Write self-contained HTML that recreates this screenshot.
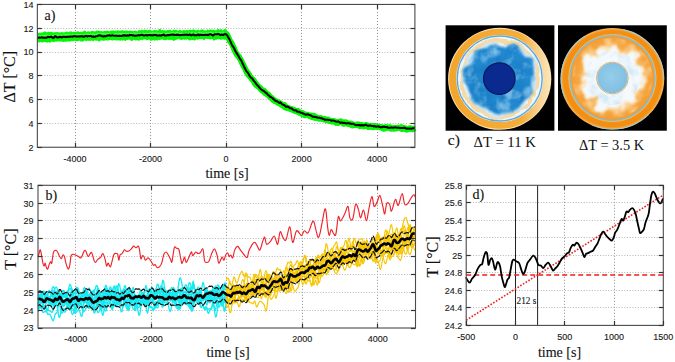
<!DOCTYPE html><html><head><meta charset="utf-8"><style>html,body{margin:0;padding:0;background:#fff;overflow:hidden}svg{display:block}</style></head><body><svg width="675" height="362" viewBox="0 0 675 362">
<rect width="675" height="362" fill="#fff"/>
<line x1="75.50" y1="5.95" x2="75.50" y2="147.25" stroke="#8c8c8c" stroke-width="1" stroke-dasharray="1 2" fill="none"/>
<line x1="150.50" y1="5.95" x2="150.50" y2="147.25" stroke="#8c8c8c" stroke-width="1" stroke-dasharray="1 2" fill="none"/>
<line x1="226.50" y1="5.95" x2="226.50" y2="147.25" stroke="#8c8c8c" stroke-width="1" stroke-dasharray="1 2" fill="none"/>
<line x1="301.50" y1="5.95" x2="301.50" y2="147.25" stroke="#8c8c8c" stroke-width="1" stroke-dasharray="1 2" fill="none"/>
<line x1="377.50" y1="5.95" x2="377.50" y2="147.25" stroke="#8c8c8c" stroke-width="1" stroke-dasharray="1 2" fill="none"/>
<line x1="38.85" y1="28.50" x2="414.9" y2="28.50" stroke="#b4b4b4" stroke-width="1" stroke-dasharray="1 1.7" fill="none"/>
<line x1="38.85" y1="52.50" x2="414.9" y2="52.50" stroke="#b4b4b4" stroke-width="1" stroke-dasharray="1 1.7" fill="none"/>
<line x1="38.85" y1="75.50" x2="414.9" y2="75.50" stroke="#b4b4b4" stroke-width="1" stroke-dasharray="1 1.7" fill="none"/>
<line x1="38.85" y1="99.50" x2="414.9" y2="99.50" stroke="#b4b4b4" stroke-width="1" stroke-dasharray="1 1.7" fill="none"/>
<line x1="38.85" y1="123.50" x2="414.9" y2="123.50" stroke="#b4b4b4" stroke-width="1" stroke-dasharray="1 1.7" fill="none"/>
<path d="M37.35,32.21 L37.85,32.32 L38.35,32.70 L38.85,32.91 L39.35,32.64 L39.85,32.51 L40.35,32.70 L40.85,32.75 L41.35,32.53 L41.85,32.35 L42.35,32.46 L42.85,32.44 L43.35,32.09 L43.85,31.76 L44.35,31.49 L44.85,31.39 L45.35,31.52 L45.85,31.78 L46.35,32.01 L46.85,32.29 L47.35,32.33 L47.85,31.91 L48.35,31.52 L48.85,31.75 L49.35,32.12 L49.85,32.06 L50.35,31.78 L50.85,31.71 L51.35,31.77 L51.85,32.02 L52.35,32.28 L52.85,32.23 L53.35,32.29 L53.85,32.38 L54.35,32.21 L54.85,32.15 L55.35,32.17 L55.85,32.02 L56.35,31.91 L56.85,32.17 L57.35,32.29 L57.85,32.10 L58.35,32.18 L58.85,32.23 L59.35,32.37 L59.85,32.69 L60.35,32.45 L60.85,31.97 L61.35,32.01 L61.85,32.19 L62.35,32.21 L62.85,32.24 L63.35,32.29 L63.85,32.45 L64.35,32.42 L64.85,32.08 L65.35,31.88 L65.85,31.80 L66.35,31.65 L66.85,31.46 L67.35,31.53 L67.85,31.89 L68.35,32.24 L68.85,32.10 L69.35,31.58 L69.85,31.45 L70.35,31.45 L70.85,31.21 L71.35,31.36 L71.85,31.85 L72.35,32.22 L72.85,32.12 L73.35,31.76 L73.85,31.61 L74.35,31.83 L74.85,32.02 L75.35,31.79 L75.85,31.63 L76.35,31.67 L76.85,31.59 L77.35,31.37 L77.85,31.24 L78.35,31.37 L78.85,31.66 L79.35,31.98 L79.85,31.99 L80.35,31.84 L80.85,31.76 L81.35,31.75 L81.85,31.83 L82.35,31.75 L82.85,31.49 L83.35,31.20 L83.85,30.98 L84.35,30.58 L84.85,30.45 L85.35,30.76 L85.85,31.13 L86.35,31.65 L86.85,31.89 L87.35,31.45 L87.85,31.19 L88.35,31.37 L88.85,31.47 L89.35,31.38 L89.85,31.40 L90.35,31.54 L90.85,31.39 L91.35,31.09 L91.85,31.06 L92.35,31.04 L92.85,30.96 L93.35,31.02 L93.85,31.17 L94.35,31.40 L94.85,31.40 L95.35,31.18 L95.85,30.93 L96.35,30.63 L96.85,30.32 L97.35,30.43 L97.85,30.61 L98.35,30.59 L98.85,30.71 L99.35,30.76 L99.85,30.92 L100.35,31.05 L100.85,31.15 L101.35,31.00 L101.85,30.94 L102.35,31.41 L102.85,31.62 L103.35,31.26 L103.85,30.92 L104.35,30.78 L104.85,30.85 L105.35,31.03 L105.85,30.93 L106.35,30.72 L106.85,30.53 L107.35,30.43 L107.85,30.64 L108.35,31.06 L108.85,31.22 L109.35,31.19 L109.85,30.94 L110.35,30.64 L110.85,30.56 L111.35,30.60 L111.85,30.66 L112.35,30.60 L112.85,30.40 L113.35,30.27 L113.85,30.59 L114.35,30.94 L114.85,30.69 L115.35,30.54 L115.85,30.87 L116.35,30.94 L116.85,30.53 L117.35,30.31 L117.85,30.18 L118.35,30.22 L118.85,30.60 L119.35,30.76 L119.85,30.63 L120.35,30.55 L120.85,30.59 L121.35,30.50 L121.85,30.31 L122.35,30.12 L122.85,30.31 L123.35,30.71 L123.85,30.73 L124.35,30.65 L124.85,30.55 L125.35,30.42 L125.85,30.48 L126.35,30.62 L126.85,30.57 L127.35,30.56 L127.85,30.79 L128.35,31.06 L128.85,31.02 L129.35,30.68 L129.85,30.27 L130.35,30.25 L130.85,30.71 L131.35,30.93 L131.85,30.82 L132.35,30.87 L132.85,31.02 L133.35,31.06 L133.85,30.92 L134.35,30.77 L134.85,30.69 L135.35,30.53 L135.85,30.68 L136.35,30.95 L136.85,31.22 L137.35,31.40 L137.85,30.98 L138.35,30.15 L138.85,29.87 L139.35,30.12 L139.85,30.20 L140.35,30.31 L140.85,30.22 L141.35,29.66 L141.85,29.53 L142.35,30.00 L142.85,30.29 L143.35,30.26 L143.85,30.10 L144.35,29.80 L144.85,29.65 L145.35,29.73 L145.85,29.66 L146.35,29.73 L146.85,30.13 L147.35,30.35 L147.85,30.22 L148.35,29.91 L148.85,29.72 L149.35,29.68 L149.85,29.81 L150.35,30.01 L150.85,30.12 L151.35,30.38 L151.85,30.71 L152.35,30.72 L152.85,30.38 L153.35,30.32 L153.85,30.27 L154.35,29.97 L154.85,29.74 L155.35,29.96 L155.85,30.29 L156.35,30.31 L156.85,30.24 L157.35,30.34 L157.85,30.40 L158.35,29.95 L158.85,29.36 L159.35,29.09 L159.85,28.77 L160.35,28.77 L160.85,29.58 L161.35,30.29 L161.85,30.14 L162.35,29.74 L162.85,29.88 L163.35,30.30 L163.85,30.36 L164.35,30.22 L164.85,30.18 L165.35,30.31 L165.85,30.48 L166.35,30.44 L166.85,30.15 L167.35,29.93 L167.85,30.00 L168.35,30.10 L168.85,30.08 L169.35,29.86 L169.85,29.81 L170.35,29.85 L170.85,30.05 L171.35,30.60 L171.85,30.72 L172.35,30.41 L172.85,30.24 L173.35,29.83 L173.85,29.41 L174.35,29.66 L174.85,29.94 L175.35,29.85 L175.85,29.68 L176.35,29.78 L176.85,30.11 L177.35,30.40 L177.85,30.39 L178.35,30.38 L178.85,30.36 L179.35,29.98 L179.85,29.58 L180.35,29.69 L180.85,30.33 L181.35,30.68 L181.85,30.62 L182.35,30.42 L182.85,30.20 L183.35,30.03 L183.85,29.91 L184.35,29.94 L184.85,30.22 L185.35,30.50 L185.85,30.35 L186.35,29.96 L186.85,29.73 L187.35,29.95 L187.85,30.36 L188.35,30.33 L188.85,29.99 L189.35,29.65 L189.85,29.54 L190.35,29.81 L190.85,30.02 L191.35,29.88 L191.85,29.75 L192.35,29.72 L192.85,29.56 L193.35,29.34 L193.85,29.39 L194.35,29.64 L194.85,29.85 L195.35,29.92 L195.85,30.19 L196.35,30.31 L196.85,29.95 L197.35,29.70 L197.85,29.74 L198.35,29.69 L198.85,29.70 L199.35,30.14 L199.85,30.41 L200.35,30.04 L200.85,29.61 L201.35,29.46 L201.85,29.43 L202.35,29.29 L202.85,29.45 L203.35,29.81 L203.85,29.96 L204.35,30.28 L204.85,30.48 L205.35,30.35 L205.85,30.39 L206.35,30.40 L206.85,29.92 L207.35,29.38 L207.85,29.31 L208.35,29.80 L208.85,30.27 L209.35,30.09 L209.85,29.51 L210.35,29.27 L210.85,29.43 L211.35,29.65 L211.85,29.74 L212.35,29.79 L212.85,29.78 L213.35,29.68 L213.85,29.68 L214.35,29.75 L214.85,29.87 L215.35,30.20 L215.85,30.44 L216.35,30.16 L216.85,29.58 L217.35,29.19 L217.85,29.07 L218.35,28.86 L218.85,29.08 L219.35,29.70 L219.85,29.86 L220.35,29.43 L220.85,29.04 L221.35,29.12 L221.85,29.50 L222.35,30.10 L222.85,30.40 L223.35,29.94 L223.85,29.30 L224.35,29.12 L224.85,29.27 L225.35,29.29 L225.85,29.20 L226.35,29.26 L226.85,29.88 L226.85,39.83 L226.35,39.33 L225.85,39.49 L225.35,39.79 L224.85,39.79 L224.35,39.74 L223.85,39.68 L223.35,39.37 L222.85,39.25 L222.35,39.53 L221.85,39.64 L221.35,39.57 L220.85,39.80 L220.35,40.00 L219.85,39.55 L219.35,39.12 L218.85,39.15 L218.35,39.28 L217.85,39.36 L217.35,39.37 L216.85,39.45 L216.35,39.68 L215.85,39.82 L215.35,39.74 L214.85,39.97 L214.35,40.44 L213.85,40.69 L213.35,40.40 L212.85,39.59 L212.35,38.95 L211.85,38.93 L211.35,39.15 L210.85,39.32 L210.35,39.39 L209.85,39.43 L209.35,39.33 L208.85,39.12 L208.35,39.02 L207.85,38.94 L207.35,39.08 L206.85,39.08 L206.35,38.87 L205.85,38.74 L205.35,38.91 L204.85,39.62 L204.35,40.32 L203.85,40.36 L203.35,40.08 L202.85,39.62 L202.35,39.05 L201.85,39.01 L201.35,39.19 L200.85,39.26 L200.35,39.31 L199.85,39.26 L199.35,39.12 L198.85,39.37 L198.35,39.78 L197.85,39.86 L197.35,39.73 L196.85,39.48 L196.35,39.31 L195.85,39.70 L195.35,40.26 L194.85,40.64 L194.35,40.52 L193.85,40.09 L193.35,40.01 L192.85,40.15 L192.35,40.10 L191.85,39.87 L191.35,40.01 L190.85,40.39 L190.35,40.31 L189.85,40.16 L189.35,40.46 L188.85,40.54 L188.35,39.86 L187.85,39.19 L187.35,39.17 L186.85,39.56 L186.35,39.64 L185.85,39.49 L185.35,39.50 L184.85,39.76 L184.35,39.86 L183.85,39.56 L183.35,39.38 L182.85,39.48 L182.35,39.71 L181.85,39.86 L181.35,39.96 L180.85,39.90 L180.35,39.70 L179.85,39.62 L179.35,39.53 L178.85,39.14 L178.35,38.95 L177.85,39.30 L177.35,39.72 L176.85,39.73 L176.35,39.62 L175.85,39.92 L175.35,40.29 L174.85,40.28 L174.35,40.43 L173.85,40.94 L173.35,41.10 L172.85,40.62 L172.35,39.98 L171.85,39.81 L171.35,39.96 L170.85,39.89 L170.35,39.73 L169.85,39.69 L169.35,39.90 L168.85,39.99 L168.35,39.82 L167.85,39.68 L167.35,39.55 L166.85,39.69 L166.35,40.05 L165.85,40.19 L165.35,40.17 L164.85,40.09 L164.35,40.17 L163.85,40.29 L163.35,40.07 L162.85,39.60 L162.35,39.55 L161.85,39.66 L161.35,39.49 L160.85,39.59 L160.35,40.12 L159.85,40.30 L159.35,40.04 L158.85,39.82 L158.35,39.94 L157.85,40.31 L157.35,40.48 L156.85,40.50 L156.35,40.32 L155.85,40.15 L155.35,40.38 L154.85,40.75 L154.35,40.63 L153.85,40.21 L153.35,40.08 L152.85,40.26 L152.35,40.38 L151.85,40.52 L151.35,40.82 L150.85,40.95 L150.35,40.73 L149.85,40.31 L149.35,39.71 L148.85,39.40 L148.35,39.80 L147.85,40.04 L147.35,40.06 L146.85,40.27 L146.35,40.28 L145.85,39.76 L145.35,39.25 L144.85,39.33 L144.35,39.58 L143.85,39.59 L143.35,39.61 L142.85,39.94 L142.35,40.18 L141.85,40.01 L141.35,39.63 L140.85,39.67 L140.35,40.02 L139.85,40.25 L139.35,40.50 L138.85,40.73 L138.35,40.74 L137.85,40.56 L137.35,40.28 L136.85,40.22 L136.35,40.44 L135.85,40.53 L135.35,40.48 L134.85,40.30 L134.35,39.92 L133.85,39.75 L133.35,40.01 L132.85,40.53 L132.35,41.08 L131.85,41.16 L131.35,40.77 L130.85,40.55 L130.35,40.50 L129.85,40.08 L129.35,39.63 L128.85,39.62 L128.35,39.69 L127.85,39.63 L127.35,40.00 L126.85,40.28 L126.35,40.18 L125.85,40.47 L125.35,40.93 L124.85,41.00 L124.35,40.59 L123.85,40.19 L123.35,40.37 L122.85,40.67 L122.35,40.67 L121.85,40.43 L121.35,40.35 L120.85,40.55 L120.35,40.69 L119.85,40.67 L119.35,40.44 L118.85,40.21 L118.35,40.34 L117.85,40.43 L117.35,40.48 L116.85,40.56 L116.35,40.45 L115.85,40.27 L115.35,40.30 L114.85,40.32 L114.35,40.24 L113.85,40.17 L113.35,40.25 L112.85,40.38 L112.35,40.53 L111.85,40.59 L111.35,40.33 L110.85,40.00 L110.35,40.06 L109.85,40.13 L109.35,40.13 L108.85,40.22 L108.35,40.28 L107.85,40.51 L107.35,40.65 L106.85,40.55 L106.35,40.41 L105.85,40.29 L105.35,40.36 L104.85,40.62 L104.35,40.82 L103.85,40.89 L103.35,40.81 L102.85,40.59 L102.35,40.51 L101.85,40.47 L101.35,40.51 L100.85,40.58 L100.35,40.68 L99.85,41.11 L99.35,41.65 L98.85,41.63 L98.35,41.18 L97.85,40.77 L97.35,40.59 L96.85,40.71 L96.35,40.86 L95.85,40.80 L95.35,40.49 L94.85,40.20 L94.35,40.36 L93.85,40.88 L93.35,41.38 L92.85,41.36 L92.35,40.77 L91.85,40.42 L91.35,40.54 L90.85,40.81 L90.35,41.03 L89.85,40.94 L89.35,40.68 L88.85,40.59 L88.35,40.96 L87.85,40.92 L87.35,40.61 L86.85,40.82 L86.35,41.31 L85.85,41.27 L85.35,40.75 L84.85,40.42 L84.35,40.45 L83.85,40.98 L83.35,41.62 L82.85,41.65 L82.35,41.45 L81.85,41.39 L81.35,41.43 L80.85,41.56 L80.35,41.49 L79.85,40.90 L79.35,40.61 L78.85,40.87 L78.35,41.20 L77.85,41.31 L77.35,41.33 L76.85,41.18 L76.35,41.14 L75.85,41.18 L75.35,41.01 L74.85,40.84 L74.35,40.78 L73.85,41.04 L73.35,41.47 L72.85,41.31 L72.35,40.89 L71.85,40.98 L71.35,41.21 L70.85,41.13 L70.35,41.20 L69.85,41.47 L69.35,41.77 L68.85,41.76 L68.35,41.50 L67.85,41.37 L67.35,41.60 L66.85,41.84 L66.35,41.87 L65.85,41.78 L65.35,41.61 L64.85,41.64 L64.35,41.75 L63.85,41.88 L63.35,42.07 L62.85,42.03 L62.35,41.86 L61.85,41.57 L61.35,41.47 L60.85,41.48 L60.35,41.56 L59.85,41.82 L59.35,41.72 L58.85,41.36 L58.35,41.31 L57.85,41.45 L57.35,41.52 L56.85,41.62 L56.35,41.74 L55.85,41.70 L55.35,41.61 L54.85,41.71 L54.35,42.08 L53.85,42.21 L53.35,42.06 L52.85,42.06 L52.35,41.81 L51.85,41.58 L51.35,41.80 L50.85,42.19 L50.35,42.58 L49.85,42.79 L49.35,42.75 L48.85,42.25 L48.35,42.00 L47.85,42.28 L47.35,42.70 L46.85,42.82 L46.35,42.50 L45.85,42.08 L45.35,42.23 L44.85,42.33 L44.35,41.98 L43.85,41.90 L43.35,42.31 L42.85,42.59 L42.35,42.51 L41.85,42.46 L41.35,42.29 L40.85,41.94 L40.35,41.95 L39.85,42.41 L39.35,42.60 L38.85,42.55 L38.35,42.36 L37.85,41.93 L37.35,41.79Z" fill="#06f406"/>
<path d="M224.35,34.72 L224.85,34.67 L225.35,34.59 L225.85,34.53 L226.35,34.05 L226.85,34.07 L227.35,35.00 L227.85,36.00 L228.35,37.27 L228.85,38.76 L229.35,40.17 L229.85,41.23 L230.35,41.61 L230.85,41.94 L231.35,42.77 L231.85,43.79 L232.35,44.94 L232.85,46.13 L233.35,46.87 L233.85,47.75 L234.35,49.23 L234.85,50.52 L235.35,51.53 L235.85,52.45 L236.35,53.32 L236.85,54.18 L237.35,55.08 L237.85,55.78 L238.35,56.38 L238.85,56.86 L239.35,57.35 L239.85,58.34 L240.35,59.49 L240.85,60.44 L241.35,61.51 L241.85,62.84 L242.35,63.53 L242.85,63.78 L243.35,64.55 L243.85,65.90 L244.35,67.12 L244.85,68.07 L245.35,69.04 L245.85,70.03 L246.35,70.98 L246.85,71.81 L247.35,72.96 L247.85,74.42 L248.35,75.25 L248.85,75.15 L249.35,75.30 L249.85,76.04 L250.35,76.82 L250.85,77.25 L251.35,77.84 L251.85,78.50 L252.35,78.95 L252.85,79.45 L253.35,79.90 L253.85,80.24 L254.35,81.03 L254.85,82.20 L255.35,83.12 L255.85,83.46 L256.35,83.73 L256.85,84.65 L257.35,85.78 L257.85,86.36 L258.35,86.52 L258.85,86.84 L259.35,87.36 L259.85,87.57 L260.35,87.79 L260.85,88.64 L261.35,89.72 L261.85,90.34 L262.35,90.63 L262.85,90.82 L263.35,91.10 L263.85,91.39 L264.35,92.18 L264.85,93.14 L265.35,93.26 L265.85,93.06 L266.35,93.40 L266.85,94.12 L267.35,94.56 L267.85,94.38 L268.35,94.37 L268.85,95.08 L269.35,95.98 L269.85,96.82 L270.35,97.54 L270.85,97.90 L271.35,98.01 L271.85,98.28 L272.35,99.21 L272.85,100.07 L273.35,100.19 L273.85,100.15 L274.35,100.51 L274.85,100.82 L275.35,100.70 L275.85,100.93 L276.35,101.51 L276.85,101.84 L277.35,101.93 L277.85,102.14 L278.35,102.39 L278.85,102.62 L279.35,102.70 L279.85,102.85 L280.35,103.42 L280.85,103.86 L281.35,103.91 L281.85,104.22 L282.35,104.57 L282.85,104.66 L283.35,104.89 L283.85,105.45 L284.35,106.56 L284.85,107.54 L285.35,107.60 L285.85,107.21 L286.35,107.17 L286.85,107.35 L287.35,107.68 L287.85,107.90 L288.35,107.89 L288.85,108.25 L289.35,108.74 L289.85,109.05 L290.35,108.96 L290.85,108.89 L291.35,109.28 L291.85,109.70 L292.35,109.84 L292.85,109.79 L293.35,109.48 L293.85,109.55 L294.35,110.40 L294.85,111.01 L295.35,111.13 L295.85,111.32 L296.35,111.48 L296.85,111.30 L297.35,111.29 L297.85,111.74 L298.35,112.08 L298.85,112.13 L299.35,112.33 L299.85,112.30 L300.35,112.47 L300.85,112.98 L301.35,112.93 L301.85,112.74 L302.35,113.23 L302.85,114.01 L303.35,114.29 L303.85,114.17 L304.35,114.30 L304.85,114.42 L305.35,114.38 L305.85,114.51 L306.35,114.57 L306.85,114.52 L307.35,114.68 L307.85,114.99 L308.35,115.13 L308.85,115.18 L309.35,115.55 L309.85,116.10 L310.35,116.43 L310.85,116.75 L311.35,117.06 L311.85,117.31 L312.35,117.33 L312.85,116.99 L313.35,116.98 L313.85,117.39 L314.35,117.94 L314.85,117.70 L315.35,116.84 L315.85,116.90 L316.35,117.71 L316.85,118.25 L317.35,118.32 L317.85,118.28 L318.35,118.44 L318.85,118.60 L319.35,118.62 L319.85,118.40 L320.35,118.09 L320.85,118.32 L321.35,118.70 L321.85,119.02 L322.35,118.98 L322.85,118.89 L323.35,118.98 L323.85,118.83 L324.35,118.63 L324.85,118.81 L325.35,119.48 L325.85,120.16 L326.35,120.45 L326.85,120.48 L327.35,120.55 L327.85,120.48 L328.35,120.53 L328.85,120.84 L329.35,120.94 L329.85,120.68 L330.35,120.54 L330.85,120.63 L331.35,120.70 L331.85,120.85 L332.35,121.16 L332.85,121.24 L333.35,121.18 L333.85,121.19 L334.35,121.44 L334.85,121.68 L335.35,122.00 L335.85,122.51 L336.35,122.76 L336.85,122.85 L337.35,122.53 L337.85,121.99 L338.35,121.94 L338.85,122.22 L339.35,122.34 L339.85,122.23 L340.35,121.90 L340.85,121.60 L341.35,121.59 L341.85,121.75 L342.35,122.18 L342.85,122.38 L343.35,122.47 L343.85,122.73 L344.35,122.71 L344.85,122.25 L345.35,121.97 L345.85,121.99 L346.35,122.21 L346.85,122.96 L347.35,123.68 L347.85,123.70 L348.35,123.57 L348.85,123.51 L349.35,123.71 L349.85,123.94 L350.35,124.25 L350.85,124.79 L351.35,125.10 L351.85,124.83 L352.35,124.41 L352.85,124.29 L353.35,124.55 L353.85,124.82 L354.35,125.05 L354.85,125.22 L355.35,125.05 L355.85,124.52 L356.35,124.66 L356.85,125.07 L357.35,124.92 L357.85,124.67 L358.35,124.60 L358.85,124.78 L359.35,125.62 L359.85,126.43 L360.35,126.09 L360.85,125.21 L361.35,124.95 L361.85,125.34 L362.35,125.62 L362.85,125.44 L363.35,125.55 L363.85,126.06 L364.35,126.13 L364.85,125.60 L365.35,125.03 L365.85,124.81 L366.35,124.83 L366.85,125.08 L367.35,125.68 L367.85,126.14 L368.35,126.70 L368.85,127.19 L369.35,126.92 L369.85,126.47 L370.35,126.68 L370.85,126.74 L371.35,126.22 L371.85,125.90 L372.35,125.92 L372.85,126.09 L373.35,126.18 L373.85,125.73 L374.35,125.73 L374.85,126.23 L375.35,126.63 L375.85,126.88 L376.35,127.00 L376.85,127.06 L377.35,126.87 L377.85,126.42 L378.35,126.46 L378.85,126.75 L379.35,127.01 L379.85,127.01 L380.35,126.81 L380.85,127.00 L381.35,127.44 L381.85,127.54 L382.35,127.78 L382.85,128.46 L383.35,128.39 L383.85,127.71 L384.35,127.98 L384.85,128.62 L385.35,128.42 L385.85,127.85 L386.35,127.45 L386.85,127.28 L387.35,127.31 L387.85,127.49 L388.35,127.68 L388.85,127.50 L389.35,127.19 L389.85,127.09 L390.35,127.21 L390.85,127.36 L391.35,127.76 L391.85,128.21 L392.35,128.31 L392.85,128.25 L393.35,128.14 L393.85,127.97 L394.35,127.85 L394.85,127.90 L395.35,127.97 L395.85,128.02 L396.35,128.25 L396.85,128.07 L397.35,127.67 L397.85,127.56 L398.35,127.67 L398.85,127.86 L399.35,128.06 L399.85,128.11 L400.35,127.53 L400.85,126.94 L401.35,126.92 L401.85,127.24 L402.35,128.00 L402.85,128.63 L403.35,128.43 L403.85,127.93 L404.35,128.21 L404.85,128.87 L405.35,128.93 L405.85,128.94 L406.35,129.47 L406.85,129.92 L407.35,129.62 L407.85,129.08 L408.35,128.86 L408.85,128.67 L409.35,128.24 L409.85,128.04 L410.35,128.13 L410.85,128.22 L411.35,128.54 L411.85,129.13 L412.35,129.38 L412.85,128.89 L413.35,128.60 L413.85,128.78 L414.35,129.10 L414.85,129.12" stroke="#06f406" stroke-width="5.6" fill="none" stroke-linejoin="round"/>
<path d="M224.35,34.78 L224.85,34.83 L225.35,34.55 L225.85,34.14 L226.35,33.84 L226.85,34.60 L227.35,35.77 L227.85,36.30 L228.35,37.26 L228.85,38.47 L229.35,39.36 L229.85,40.28 L230.35,41.46 L230.85,42.53 L231.35,43.20 L231.85,43.84 L232.35,44.88 L232.85,45.98 L233.35,47.17 L233.85,48.58 L234.35,49.90 L234.85,50.85 L235.35,51.66 L235.85,52.80 L236.35,53.92 L236.85,54.76 L237.35,55.26 L237.85,55.55 L238.35,56.15 L238.85,56.89 L239.35,57.52 L239.85,58.43 L240.35,59.32 L240.85,59.97 L241.35,60.65 L241.85,61.86 L242.35,63.50 L242.85,65.03 L243.35,66.07 L243.85,66.66 L244.35,67.26 L244.85,68.12 L245.35,69.23 L245.85,70.38 L246.35,71.65 L246.85,72.63 L247.35,72.79 L247.85,72.81 L248.35,73.28 L248.85,74.01 L249.35,75.19 L249.85,76.50 L250.35,77.04 L250.85,77.42 L251.35,78.49 L251.85,79.38 L252.35,79.61 L252.85,79.93 L253.35,80.71 L253.85,81.75 L254.35,82.79 L254.85,83.73 L255.35,84.47 L255.85,85.07 L256.35,85.41 L256.85,85.30 L257.35,85.19 L257.85,85.76 L258.35,86.53 L258.85,87.15 L259.35,87.67 L259.85,87.91 L260.35,88.42 L260.85,89.37 L261.35,89.95 L261.85,90.30 L262.35,90.83 L262.85,91.11 L263.35,90.76 L263.85,90.36 L264.35,90.78 L264.85,91.47 L265.35,92.11 L265.85,93.01 L266.35,93.65 L266.85,93.74 L267.35,94.20 L267.85,95.00 L268.35,95.10 L268.85,95.19 L269.35,95.89 L269.85,96.50 L270.35,96.91 L270.85,97.35 L271.35,97.53 L271.85,97.83 L272.35,98.55 L272.85,99.10 L273.35,99.33 L273.85,99.79 L274.35,100.61 L274.85,101.28 L275.35,101.32 L275.85,101.43 L276.35,101.54 L276.85,101.78 L277.35,102.36 L277.85,102.93 L278.35,103.18 L278.85,103.01 L279.35,102.81 L279.85,103.10 L280.35,103.79 L280.85,104.48 L281.35,104.94 L281.85,105.21 L282.35,105.57 L282.85,105.73 L283.35,105.27 L283.85,104.70 L284.35,104.73 L284.85,105.45 L285.35,106.35 L285.85,106.82 L286.35,107.36 L286.85,107.95 L287.35,108.35 L287.85,108.31 L288.35,108.02 L288.85,108.00 L289.35,108.25 L289.85,108.44 L290.35,108.61 L290.85,109.08 L291.35,109.34 L291.85,109.10 L292.35,109.17 L292.85,109.51 L293.35,110.06 L293.85,110.54 L294.35,110.68 L294.85,110.62 L295.35,110.62 L295.85,111.00 L296.35,111.30 L296.85,111.45 L297.35,111.15 L297.85,110.73 L298.35,111.24 L298.85,112.30 L299.35,112.99 L299.85,112.98 L300.35,112.70 L300.85,112.84 L301.35,113.69 L301.85,114.14 L302.35,113.75 L302.85,113.27 L303.35,113.42 L303.85,114.50 L304.35,115.41 L304.85,115.44 L305.35,115.22 L305.85,114.90 L306.35,114.74 L306.85,114.85 L307.35,114.74 L307.85,114.94 L308.35,115.50 L308.85,115.91 L309.35,115.98 L309.85,115.76 L310.35,115.39 L310.85,115.34 L311.35,115.60 L311.85,115.60 L312.35,115.45 L312.85,115.55 L313.35,115.68 L313.85,115.59 L314.35,115.68 L314.85,116.19 L315.35,117.09 L315.85,117.90 L316.35,118.03 L316.85,117.50 L317.35,117.53 L317.85,118.02 L318.35,118.19 L318.85,118.47 L319.35,118.77 L319.85,118.40 L320.35,117.90 L320.85,118.05 L321.35,118.61 L321.85,118.73 L322.35,118.46 L322.85,118.68 L323.35,119.32 L323.85,119.59 L324.35,119.60 L324.85,119.79 L325.35,119.64 L325.85,119.27 L326.35,119.50 L326.85,119.79 L327.35,119.49 L327.85,119.29 L328.35,119.94 L328.85,120.78 L329.35,120.88 L329.85,120.72 L330.35,121.05 L330.85,121.13 L331.35,121.43 L331.85,121.82 L332.35,121.72 L332.85,121.24 L333.35,120.97 L333.85,121.01 L334.35,120.78 L334.85,121.08 L335.35,122.27 L335.85,122.80 L336.35,122.58 L336.85,122.36 L337.35,122.78 L337.85,123.23 L338.35,123.02 L338.85,122.30 L339.35,121.72 L339.85,121.41 L340.35,121.10 L340.85,121.32 L341.35,121.89 L341.85,122.20 L342.35,122.56 L342.85,123.23 L343.35,123.93 L343.85,124.00 L344.35,123.73 L344.85,123.53 L345.35,123.24 L345.85,123.27 L346.35,123.39 L346.85,123.13 L347.35,122.99 L347.85,123.20 L348.35,123.85 L348.85,124.28 L349.35,124.04 L349.85,123.76 L350.35,123.48 L350.85,123.36 L351.35,123.95 L351.85,125.10 L352.35,125.64 L352.85,125.15 L353.35,124.67 L353.85,124.73 L354.35,124.90 L354.85,125.11 L355.35,125.20 L355.85,125.21 L356.35,125.11 L356.85,124.77 L357.35,124.40 L357.85,124.20 L358.35,124.27 L358.85,124.44 L359.35,124.68 L359.85,124.93 L360.35,125.24 L360.85,125.23 L361.35,124.85 L361.85,124.78 L362.35,125.25 L362.85,126.10 L363.35,126.64 L363.85,126.48 L364.35,126.21 L364.85,126.09 L365.35,125.93 L365.85,125.94 L366.35,125.51 L366.85,125.58 L367.35,126.71 L367.85,126.93 L368.35,126.28 L368.85,126.07 L369.35,126.10 L369.85,125.91 L370.35,125.66 L370.85,125.91 L371.35,126.48 L371.85,126.90 L372.35,127.17 L372.85,127.38 L373.35,127.41 L373.85,126.88 L374.35,126.26 L374.85,125.83 L375.35,126.15 L375.85,126.76 L376.35,126.87 L376.85,126.90 L377.35,126.76 L377.85,126.51 L378.35,126.54 L378.85,126.69 L379.35,127.01 L379.85,127.43 L380.35,127.42 L380.85,127.02 L381.35,126.90 L381.85,127.22 L382.35,127.69 L382.85,128.39 L383.35,128.82 L383.85,128.38 L384.35,127.69 L384.85,127.22 L385.35,126.89 L385.85,126.74 L386.35,126.82 L386.85,127.10 L387.35,127.45 L387.85,127.68 L388.35,127.55 L388.85,127.35 L389.35,127.58 L389.85,128.26 L390.35,128.69 L390.85,128.88 L391.35,128.85 L391.85,128.62 L392.35,128.41 L392.85,128.69 L393.35,128.82 L393.85,128.43 L394.35,128.61 L394.85,128.92 L395.35,128.78 L395.85,128.70 L396.35,128.53 L396.85,128.13 L397.35,127.86 L397.85,127.59 L398.35,127.48 L398.85,127.63 L399.35,127.93 L399.85,128.17 L400.35,128.14 L400.85,128.28 L401.35,128.97 L401.85,129.21 L402.35,128.81 L402.85,128.38 L403.35,128.36 L403.85,128.50 L404.35,128.28 L404.85,128.16 L405.35,128.89 L405.85,129.24 L406.35,128.68 L406.85,128.64 L407.35,128.80 L407.85,128.84 L408.35,128.78 L408.85,128.51 L409.35,128.75 L409.85,129.06 L410.35,128.78 L410.85,128.50 L411.35,128.56 L411.85,128.82 L412.35,129.01 L412.85,128.84 L413.35,128.68 L413.85,128.57 L414.35,128.62 L414.85,128.24" stroke="#06f406" stroke-width="5.6" fill="none" stroke-linejoin="round"/>
<path d="M37.35,36.21 L37.85,36.21 L38.35,35.94 L38.85,35.67 L39.35,35.81 L39.85,36.11 L40.35,36.10 L40.85,35.87 L41.35,35.70 L41.85,35.63 L42.35,35.78 L42.85,35.97 L43.35,35.72 L43.85,35.37 L44.35,35.46 L44.85,35.74 L45.35,35.77 L45.85,35.55 L46.35,35.35 L46.85,35.18 L47.35,34.96 L47.85,35.07 L48.35,35.40 L48.85,35.54 L49.35,35.71 L49.85,35.88 L50.35,35.85 L50.85,35.89 L51.35,36.03 L51.85,35.84 L52.35,35.59 L52.85,35.56 L53.35,35.44 L53.85,35.24 L54.35,35.17 L54.85,35.00 L55.35,34.81 L55.85,34.93 L56.35,35.03 L56.85,34.89 L57.35,34.76 L57.85,34.92 L58.35,35.11 L58.85,35.09 L59.35,35.02 L59.85,35.02 L60.35,34.97 L60.85,35.13 L61.35,35.29 L61.85,35.13 L62.35,35.10 L62.85,35.22 L63.35,35.13 L63.85,35.07 L64.35,35.16 L64.85,35.00 L65.35,34.55 L65.85,34.40 L66.35,34.44 L66.85,34.45 L67.35,34.51 L67.85,34.66 L68.35,34.78 L68.85,34.80 L69.35,34.90 L69.85,34.93 L70.35,34.89 L70.85,35.09 L71.35,35.30 L71.85,35.10 L72.35,34.79 L72.85,34.66 L73.35,34.67 L73.85,34.86 L74.35,34.91 L74.85,34.75 L75.35,34.80 L75.85,34.92 L76.35,34.80 L76.85,34.60 L77.35,34.40 L77.85,34.40 L78.35,34.74 L78.85,35.02 L79.35,34.79 L79.85,34.49 L80.35,34.46 L80.85,34.62 L81.35,34.84 L81.85,35.04 L82.35,35.20 L82.85,35.15 L83.35,35.06 L83.85,34.89 L84.35,34.58 L84.85,34.30 L85.35,34.31 L85.85,34.35 L86.35,34.17 L86.85,34.09 L87.35,34.32 L87.85,34.37 L88.35,34.29 L88.85,34.30 L89.35,34.35 L89.85,34.28 L90.35,34.06 L90.85,34.08 L91.35,34.30 L91.85,34.35 L92.35,34.21 L92.85,34.07 L93.35,34.09 L93.85,34.32 L94.35,34.46 L94.85,34.46 L95.35,34.64 L95.85,34.62 L96.35,34.39 L96.85,34.15 L97.35,33.74 L97.85,33.49 L98.35,33.60 L98.85,33.84 L99.35,33.97 L99.85,33.98 L100.35,33.85 L100.85,33.72 L101.35,33.78 L101.85,33.74 L102.35,33.72 L102.85,33.71 L103.35,33.57 L103.85,33.50 L104.35,33.68 L104.85,34.01 L105.35,34.23 L105.85,34.12 L106.35,33.81 L106.85,33.65 L107.35,33.71 L107.85,33.75 L108.35,33.76 L108.85,33.94 L109.35,33.92 L109.85,33.87 L110.35,34.10 L110.85,34.32 L111.35,34.35 L111.85,34.34 L112.35,34.35 L112.85,34.44 L113.35,34.42 L113.85,34.31 L114.35,34.29 L114.85,34.12 L115.35,33.85 L115.85,33.68 L116.35,33.76 L116.85,33.82 L117.35,33.76 L117.85,33.89 L118.35,33.94 L118.85,33.66 L119.35,33.38 L119.85,33.56 L120.35,33.76 L120.85,33.65 L121.35,33.42 L121.85,33.31 L122.35,33.53 L122.85,33.70 L123.35,33.64 L123.85,33.52 L124.35,33.65 L124.85,33.79 L125.35,33.74 L125.85,33.59 L126.35,33.74 L126.85,33.95 L127.35,33.68 L127.85,33.40 L128.35,33.39 L128.85,33.58 L129.35,33.98 L129.85,34.02 L130.35,33.55 L130.85,33.40 L131.35,33.81 L131.85,34.11 L132.35,34.11 L132.85,33.88 L133.35,33.51 L133.85,33.24 L134.35,33.05 L134.85,33.17 L135.35,33.52 L135.85,33.80 L136.35,33.99 L136.85,33.79 L137.35,33.63 L137.85,33.89 L138.35,34.05 L138.85,33.74 L139.35,33.45 L139.85,33.61 L140.35,33.73 L140.85,33.50 L141.35,33.42 L141.85,33.57 L142.35,33.45 L142.85,33.19 L143.35,33.14 L143.85,33.24 L144.35,33.45 L144.85,33.66 L145.35,33.77 L145.85,33.55 L146.35,33.29 L146.85,33.46 L147.35,33.72 L147.85,33.76 L148.35,33.62 L148.85,33.32 L149.35,33.22 L149.85,33.24 L150.35,32.97 L150.85,32.89 L151.35,33.16 L151.85,33.18 L152.35,32.98 L152.85,32.76 L153.35,32.68 L153.85,32.81 L154.35,33.04 L154.85,33.03 L155.35,32.91 L155.85,33.00 L156.35,32.96 L156.85,33.02 L157.35,33.23 L157.85,33.19 L158.35,33.19 L158.85,33.39 L159.35,33.34 L159.85,33.34 L160.35,33.52 L160.85,33.59 L161.35,33.48 L161.85,33.40 L162.35,33.35 L162.85,33.33 L163.35,33.22 L163.85,33.36 L164.35,33.65 L164.85,33.64 L165.35,33.67 L165.85,33.79 L166.35,33.52 L166.85,33.22 L167.35,33.16 L167.85,33.21 L168.35,33.46 L168.85,33.50 L169.35,33.18 L169.85,33.03 L170.35,33.10 L170.85,33.07 L171.35,32.98 L171.85,32.88 L172.35,32.69 L172.85,32.74 L173.35,32.92 L173.85,33.03 L174.35,33.02 L174.85,32.98 L175.35,33.07 L175.85,33.01 L176.35,32.76 L176.85,32.57 L177.35,32.67 L177.85,32.87 L178.35,32.95 L178.85,33.18 L179.35,33.51 L179.85,33.68 L180.35,33.55 L180.85,33.16 L181.35,33.00 L181.85,33.24 L182.35,33.41 L182.85,33.44 L183.35,33.43 L183.85,33.51 L184.35,33.53 L184.85,33.45 L185.35,33.35 L185.85,33.27 L186.35,33.23 L186.85,33.26 L187.35,33.28 L187.85,33.29 L188.35,33.39 L188.85,33.35 L189.35,33.26 L189.85,33.15 L190.35,33.23 L190.85,33.34 L191.35,33.00 L191.85,32.62 L192.35,32.67 L192.85,33.08 L193.35,33.45 L193.85,33.40 L194.35,33.15 L194.85,32.95 L195.35,33.08 L195.85,33.35 L196.35,33.38 L196.85,33.15 L197.35,33.05 L197.85,32.93 L198.35,32.75 L198.85,32.69 L199.35,32.54 L199.85,32.46 L200.35,32.78 L200.85,32.95 L201.35,32.76 L201.85,32.77 L202.35,33.11 L202.85,33.30 L203.35,33.38 L203.85,33.31 L204.35,33.09 L204.85,33.00 L205.35,32.91 L205.85,32.84 L206.35,32.87 L206.85,33.00 L207.35,33.12 L207.85,33.00 L208.35,32.84 L208.85,32.79 L209.35,32.74 L209.85,32.60 L210.35,32.58 L210.85,32.64 L211.35,32.64 L211.85,32.69 L212.35,32.96 L212.85,33.37 L213.35,33.43 L213.85,33.21 L214.35,33.20 L214.85,33.34 L215.35,33.16 L215.85,32.93 L216.35,32.94 L216.85,33.08 L217.35,33.20 L217.85,33.23 L218.35,33.18 L218.85,32.92 L219.35,32.78 L219.85,32.84 L220.35,33.00 L220.85,32.91 L221.35,32.90 L221.85,33.07 L222.35,32.97 L222.85,32.59 L223.35,32.35 L223.85,32.34" stroke="#a8f5a8" stroke-width="0.7" fill="none"/>
<path d="M37.35,37.84 L37.85,37.79 L38.35,37.65 L38.85,37.56 L39.35,37.59 L39.85,37.73 L40.35,37.77 L40.85,37.57 L41.35,37.34 L41.85,37.43 L42.35,37.66 L42.85,37.59 L43.35,37.61 L43.85,37.87 L44.35,37.91 L44.85,37.72 L45.35,37.73 L45.85,37.93 L46.35,37.82 L46.85,37.52 L47.35,37.15 L47.85,36.82 L48.35,36.87 L48.85,37.20 L49.35,37.30 L49.85,37.07 L50.35,36.75 L50.85,36.66 L51.35,36.75 L51.85,36.96 L52.35,37.43 L52.85,37.93 L53.35,38.09 L53.85,37.66 L54.35,37.00 L54.85,36.40 L55.35,36.12 L55.85,36.48 L56.35,37.02 L56.85,37.35 L57.35,37.42 L57.85,37.35 L58.35,37.32 L58.85,37.39 L59.35,37.28 L59.85,36.88 L60.35,36.65 L60.85,36.84 L61.35,37.32 L61.85,37.49 L62.35,37.17 L62.85,36.82 L63.35,36.78 L63.85,36.84 L64.35,36.87 L64.85,36.90 L65.35,36.93 L65.85,36.95 L66.35,37.01 L66.85,36.94 L67.35,36.77 L67.85,36.70 L68.35,36.76 L68.85,36.86 L69.35,36.82 L69.85,36.70 L70.35,36.50 L70.85,36.43 L71.35,36.57 L71.85,36.63 L72.35,36.71 L72.85,36.56 L73.35,36.21 L73.85,36.11 L74.35,36.18 L74.85,36.18 L75.35,36.29 L75.85,36.54 L76.35,36.62 L76.85,36.58 L77.35,36.51 L77.85,36.45 L78.35,36.39 L78.85,36.48 L79.35,36.59 L79.85,36.47 L80.35,36.24 L80.85,36.18 L81.35,36.35 L81.85,36.44 L82.35,36.32 L82.85,36.35 L83.35,36.73 L83.85,36.96 L84.35,36.70 L84.85,36.44 L85.35,36.12 L85.85,35.81 L86.35,35.95 L86.85,36.26 L87.35,36.44 L87.85,36.27 L88.35,36.07 L88.85,36.10 L89.35,36.14 L89.85,36.07 L90.35,35.94 L90.85,35.87 L91.35,36.12 L91.85,36.57 L92.35,36.82 L92.85,36.68 L93.35,36.56 L93.85,36.66 L94.35,36.78 L94.85,36.81 L95.35,36.60 L95.85,36.31 L96.35,36.19 L96.85,36.19 L97.35,36.15 L97.85,35.96 L98.35,35.58 L98.85,35.30 L99.35,35.28 L99.85,35.39 L100.35,35.66 L100.85,35.72 L101.35,35.71 L101.85,36.01 L102.35,36.26 L102.85,36.38 L103.35,36.57 L103.85,36.44 L104.35,36.10 L104.85,36.11 L105.35,36.18 L105.85,36.17 L106.35,36.04 L106.85,35.73 L107.35,35.51 L107.85,35.44 L108.35,35.47 L108.85,35.44 L109.35,35.32 L109.85,35.44 L110.35,35.73 L110.85,35.80 L111.35,35.58 L111.85,35.26 L112.35,35.25 L112.85,35.44 L113.35,35.58 L113.85,35.70 L114.35,35.84 L114.85,35.81 L115.35,35.74 L115.85,35.78 L116.35,35.81 L116.85,35.83 L117.35,35.94 L117.85,35.92 L118.35,35.80 L118.85,35.78 L119.35,35.92 L119.85,36.06 L120.35,36.05 L120.85,35.97 L121.35,35.92 L121.85,35.90 L122.35,35.83 L122.85,35.49 L123.35,35.30 L123.85,35.54 L124.35,35.51 L124.85,35.26 L125.35,35.26 L125.85,35.55 L126.35,35.87 L126.85,35.67 L127.35,35.33 L127.85,35.41 L128.35,35.63 L128.85,35.64 L129.35,35.16 L129.85,34.85 L130.35,35.05 L130.85,35.17 L131.35,35.00 L131.85,34.97 L132.35,35.37 L132.85,35.54 L133.35,35.35 L133.85,35.43 L134.35,35.69 L134.85,35.91 L135.35,35.78 L135.85,35.61 L136.35,35.65 L136.85,35.55 L137.35,35.38 L137.85,35.31 L138.35,35.10 L138.85,35.13 L139.35,35.44 L139.85,35.37 L140.35,35.16 L140.85,35.02 L141.35,34.76 L141.85,34.68 L142.35,34.86 L142.85,35.08 L143.35,35.33 L143.85,35.45 L144.35,35.38 L144.85,35.37 L145.35,35.28 L145.85,35.09 L146.35,35.05 L146.85,35.16 L147.35,35.39 L147.85,35.39 L148.35,35.12 L148.85,34.91 L149.35,34.95 L149.85,35.08 L150.35,35.20 L150.85,35.14 L151.35,35.14 L151.85,35.34 L152.35,35.38 L152.85,35.29 L153.35,35.30 L153.85,35.18 L154.35,35.05 L154.85,35.00 L155.35,34.90 L155.85,34.95 L156.35,35.25 L156.85,35.62 L157.35,35.66 L157.85,35.52 L158.35,35.48 L158.85,35.38 L159.35,35.35 L159.85,35.45 L160.35,35.61 L160.85,35.69 L161.35,35.34 L161.85,35.07 L162.35,35.13 L162.85,34.98 L163.35,34.59 L163.85,34.49 L164.35,34.99 L164.85,35.41 L165.35,35.53 L165.85,35.62 L166.35,35.59 L166.85,35.38 L167.35,35.16 L167.85,34.96 L168.35,35.01 L168.85,35.18 L169.35,35.04 L169.85,34.82 L170.35,34.85 L170.85,34.85 L171.35,34.82 L171.85,34.85 L172.35,34.67 L172.85,34.47 L173.35,34.68 L173.85,34.96 L174.35,34.86 L174.85,34.94 L175.35,35.12 L175.85,34.99 L176.35,34.73 L176.85,34.75 L177.35,34.96 L177.85,34.99 L178.35,34.76 L178.85,34.76 L179.35,35.12 L179.85,35.28 L180.35,35.09 L180.85,34.90 L181.35,34.95 L181.85,35.02 L182.35,34.93 L182.85,34.72 L183.35,34.70 L183.85,34.66 L184.35,34.62 L184.85,34.74 L185.35,34.81 L185.85,34.77 L186.35,34.68 L186.85,34.57 L187.35,34.71 L187.85,34.94 L188.35,35.05 L188.85,34.90 L189.35,34.50 L189.85,34.39 L190.35,34.75 L190.85,35.19 L191.35,35.40 L191.85,35.14 L192.35,34.82 L192.85,34.72 L193.35,34.55 L193.85,34.71 L194.35,35.20 L194.85,35.27 L195.35,35.18 L195.85,35.26 L196.35,35.33 L196.85,35.21 L197.35,34.93 L197.85,34.54 L198.35,34.56 L198.85,35.05 L199.35,35.29 L199.85,35.11 L200.35,34.89 L200.85,34.76 L201.35,34.82 L201.85,35.07 L202.35,35.12 L202.85,35.03 L203.35,35.03 L203.85,35.08 L204.35,35.02 L204.85,34.81 L205.35,34.67 L205.85,34.93 L206.35,35.12 L206.85,34.87 L207.35,34.78 L207.85,34.97 L208.35,35.02 L208.85,34.73 L209.35,34.42 L209.85,34.36 L210.35,34.29 L210.85,34.36 L211.35,34.59 L211.85,34.81 L212.35,35.23 L212.85,35.55 L213.35,35.31 L213.85,34.82 L214.35,34.41 L214.85,34.19 L215.35,34.13 L215.85,34.13 L216.35,34.13 L216.85,34.20 L217.35,34.22 L217.85,34.06 L218.35,33.93 L218.85,34.10 L219.35,34.47 L219.85,34.76 L220.35,34.93 L220.85,34.89 L221.35,34.69 L221.85,34.55 L222.35,34.64 L222.85,35.02 L223.35,35.00 L223.85,34.55 L224.35,34.26 L224.85,34.16 L225.35,34.02 L225.85,34.19 L226.35,34.51 L226.85,34.95 L227.35,35.75 L227.85,36.61 L228.35,37.38 L228.85,38.25 L229.35,39.15 L229.85,40.15 L230.35,41.29 L230.85,42.46 L231.35,43.66 L231.85,44.68 L232.35,45.58 L232.85,46.30 L233.35,47.04 L233.85,47.78 L234.35,48.74 L234.85,49.99 L235.35,51.03 L235.85,51.83 L236.35,52.67 L236.85,53.39 L237.35,54.18 L237.85,55.04 L238.35,55.75 L238.85,56.55 L239.35,57.73 L239.85,58.66 L240.35,59.24 L240.85,59.82 L241.35,60.61 L241.85,61.76 L242.35,63.05 L242.85,64.02 L243.35,64.91 L243.85,66.13 L244.35,67.35 L244.85,68.17 L245.35,69.06 L245.85,70.17 L246.35,71.03 L246.85,71.62 L247.35,72.11 L247.85,72.66 L248.35,73.46 L248.85,74.40 L249.35,75.33 L249.85,76.20 L250.35,76.93 L250.85,77.50 L251.35,77.90 L251.85,78.15 L252.35,78.59 L252.85,79.36 L253.35,80.15 L253.85,80.86 L254.35,81.48 L254.85,81.99 L255.35,82.63 L255.85,83.43 L256.35,84.09 L256.85,84.65 L257.35,85.22 L257.85,85.63 L258.35,86.08 L258.85,86.85 L259.35,87.57 L259.85,88.00 L260.35,88.61 L260.85,89.23 L261.35,89.52 L261.85,89.77 L262.35,90.24 L262.85,90.48 L263.35,90.64 L263.85,91.04 L264.35,91.53 L264.85,91.92 L265.35,92.36 L265.85,92.78 L266.35,92.96 L266.85,93.34 L267.35,94.08 L267.85,94.74 L268.35,95.09 L268.85,95.38 L269.35,95.98 L269.85,96.61 L270.35,96.94 L270.85,97.04 L271.35,97.31 L271.85,97.57 L272.35,97.81 L272.85,98.40 L273.35,99.03 L273.85,99.30 L274.35,99.64 L274.85,100.26 L275.35,100.76 L275.85,100.92 L276.35,100.96 L276.85,101.28 L277.35,101.64 L277.85,101.75 L278.35,102.05 L278.85,102.65 L279.35,102.89 L279.85,102.55 L280.35,102.33 L280.85,102.67 L281.35,103.30 L281.85,103.94 L282.35,104.40 L282.85,104.59 L283.35,104.74 L283.85,104.98 L284.35,105.21 L284.85,105.57 L285.35,106.18 L285.85,106.83 L286.35,106.87 L286.85,106.59 L287.35,106.57 L287.85,106.73 L288.35,106.90 L288.85,107.24 L289.35,107.74 L289.85,108.16 L290.35,108.25 L290.85,108.19 L291.35,108.26 L291.85,108.57 L292.35,109.06 L292.85,109.53 L293.35,109.87 L293.85,110.06 L294.35,110.33 L294.85,110.43 L295.35,110.27 L295.85,110.12 L296.35,110.49 L296.85,111.23 L297.35,111.71 L297.85,111.83 L298.35,111.84 L298.85,111.81 L299.35,111.86 L299.85,112.15 L300.35,112.55 L300.85,112.72 L301.35,112.74 L301.85,112.91 L302.35,113.19 L302.85,113.34 L303.35,113.54 L303.85,113.91 L304.35,114.06 L304.85,114.23 L305.35,114.55 L305.85,114.65 L306.35,114.58 L306.85,114.50 L307.35,114.35 L307.85,114.27 L308.35,114.46 L308.85,114.82 L309.35,115.00 L309.85,115.19 L310.35,115.27 L310.85,115.36 L311.35,115.70 L311.85,116.13 L312.35,116.55 L312.85,116.84 L313.35,116.86 L313.85,116.80 L314.35,116.80 L314.85,116.95 L315.35,117.03 L315.85,117.04 L316.35,117.18 L316.85,117.39 L317.35,117.60 L317.85,117.69 L318.35,117.66 L318.85,117.75 L319.35,117.86 L319.85,117.84 L320.35,118.09 L320.85,118.26 L321.35,118.05 L321.85,118.24 L322.35,118.62 L322.85,118.87 L323.35,119.08 L323.85,119.09 L324.35,119.51 L324.85,119.92 L325.35,119.87 L325.85,119.68 L326.35,119.62 L326.85,119.65 L327.35,119.74 L327.85,119.75 L328.35,119.93 L328.85,120.11 L329.35,120.03 L329.85,120.08 L330.35,120.20 L330.85,120.35 L331.35,120.65 L331.85,120.64 L332.35,120.45 L332.85,120.50 L333.35,120.60 L333.85,120.74 L334.35,120.93 L334.85,121.12 L335.35,121.32 L335.85,121.43 L336.35,121.60 L336.85,121.72 L337.35,121.73 L337.85,121.58 L338.35,121.48 L338.85,121.63 L339.35,122.10 L339.85,122.62 L340.35,122.92 L340.85,122.85 L341.35,122.58 L341.85,122.47 L342.35,122.58 L342.85,122.82 L343.35,123.08 L343.85,123.01 L344.35,122.75 L344.85,122.86 L345.35,123.22 L345.85,123.31 L346.35,123.34 L346.85,123.43 L347.35,123.34 L347.85,123.21 L348.35,123.10 L348.85,123.14 L349.35,123.38 L349.85,123.42 L350.35,123.46 L350.85,123.71 L351.35,124.00 L351.85,124.05 L352.35,123.89 L352.85,123.76 L353.35,123.82 L353.85,123.99 L354.35,124.31 L354.85,124.61 L355.35,124.88 L355.85,125.16 L356.35,125.14 L356.85,125.00 L357.35,124.92 L357.85,124.99 L358.35,125.20 L358.85,125.18 L359.35,125.05 L359.85,125.25 L360.35,125.47 L360.85,125.49 L361.35,125.26 L361.85,124.97 L362.35,125.14 L362.85,125.56 L363.35,125.48 L363.85,125.25 L364.35,125.28 L364.85,125.14 L365.35,124.77 L365.85,124.64 L366.35,124.98 L366.85,125.47 L367.35,125.71 L367.85,125.80 L368.35,125.90 L368.85,125.77 L369.35,125.49 L369.85,125.50 L370.35,125.56 L370.85,125.59 L371.35,125.78 L371.85,125.94 L372.35,125.91 L372.85,125.88 L373.35,126.23 L373.85,126.50 L374.35,126.20 L374.85,126.04 L375.35,126.38 L375.85,126.68 L376.35,126.64 L376.85,126.56 L377.35,126.61 L377.85,126.46 L378.35,126.33 L378.85,126.48 L379.35,126.80 L379.85,127.08 L380.35,127.16 L380.85,127.17 L381.35,127.24 L381.85,127.23 L382.35,127.05 L382.85,126.69 L383.35,126.65 L383.85,126.85 L384.35,126.85 L384.85,126.92 L385.35,127.03 L385.85,127.07 L386.35,127.20 L386.85,127.21 L387.35,127.10 L387.85,127.54 L388.35,127.92 L388.85,127.74 L389.35,127.62 L389.85,127.80 L390.35,127.79 L390.85,127.47 L391.35,127.39 L391.85,127.52 L392.35,127.66 L392.85,127.72 L393.35,127.69 L393.85,127.57 L394.35,127.46 L394.85,127.37 L395.35,127.37 L395.85,127.47 L396.35,127.50 L396.85,127.62 L397.35,127.86 L397.85,127.74 L398.35,127.62 L398.85,127.77 L399.35,127.83 L399.85,127.89 L400.35,127.95 L400.85,127.96 L401.35,127.91 L401.85,127.89 L402.35,128.10 L402.85,128.12 L403.35,127.79 L403.85,127.81 L404.35,127.90 L404.85,127.76 L405.35,127.93 L405.85,128.39 L406.35,128.59 L406.85,128.70 L407.35,128.60 L407.85,128.43 L408.35,128.48 L408.85,128.62 L409.35,128.69 L409.85,128.59 L410.35,128.50 L410.85,128.61 L411.35,128.76 L411.85,128.59 L412.35,128.24 L412.85,128.18 L413.35,128.29 L413.85,128.26 L414.35,128.18 L414.85,128.19" stroke="#000" stroke-width="2" fill="none" stroke-linejoin="round"/>
<rect x="37.35" y="4.45" width="377.55" height="142.80" stroke="#4a4a4a" stroke-width="1.1" fill="none"/>
<line x1="75.50" y1="147.25" x2="75.50" y2="142.75" stroke="#333" stroke-width="1.2"/>
<line x1="75.50" y1="4.45" x2="75.50" y2="8.95" stroke="#333" stroke-width="1.2"/>
<line x1="150.50" y1="147.25" x2="150.50" y2="142.75" stroke="#333" stroke-width="1.2"/>
<line x1="150.50" y1="4.45" x2="150.50" y2="8.95" stroke="#333" stroke-width="1.2"/>
<line x1="226.50" y1="147.25" x2="226.50" y2="142.75" stroke="#333" stroke-width="1.2"/>
<line x1="226.50" y1="4.45" x2="226.50" y2="8.95" stroke="#333" stroke-width="1.2"/>
<line x1="301.50" y1="147.25" x2="301.50" y2="142.75" stroke="#333" stroke-width="1.2"/>
<line x1="301.50" y1="4.45" x2="301.50" y2="8.95" stroke="#333" stroke-width="1.2"/>
<line x1="377.50" y1="147.25" x2="377.50" y2="142.75" stroke="#333" stroke-width="1.2"/>
<line x1="377.50" y1="4.45" x2="377.50" y2="8.95" stroke="#333" stroke-width="1.2"/>
<line x1="37.35" y1="4.50" x2="41.85" y2="4.50" stroke="#333" stroke-width="1.2"/>
<line x1="414.9" y1="4.50" x2="410.4" y2="4.50" stroke="#333" stroke-width="1.2"/>
<line x1="37.35" y1="28.50" x2="41.85" y2="28.50" stroke="#333" stroke-width="1.2"/>
<line x1="414.9" y1="28.50" x2="410.4" y2="28.50" stroke="#333" stroke-width="1.2"/>
<line x1="37.35" y1="52.50" x2="41.85" y2="52.50" stroke="#333" stroke-width="1.2"/>
<line x1="414.9" y1="52.50" x2="410.4" y2="52.50" stroke="#333" stroke-width="1.2"/>
<line x1="37.35" y1="75.50" x2="41.85" y2="75.50" stroke="#333" stroke-width="1.2"/>
<line x1="414.9" y1="75.50" x2="410.4" y2="75.50" stroke="#333" stroke-width="1.2"/>
<line x1="37.35" y1="99.50" x2="41.85" y2="99.50" stroke="#333" stroke-width="1.2"/>
<line x1="414.9" y1="99.50" x2="410.4" y2="99.50" stroke="#333" stroke-width="1.2"/>
<line x1="37.35" y1="123.50" x2="41.85" y2="123.50" stroke="#333" stroke-width="1.2"/>
<line x1="414.9" y1="123.50" x2="410.4" y2="123.50" stroke="#333" stroke-width="1.2"/>
<line x1="37.35" y1="147.50" x2="41.85" y2="147.50" stroke="#333" stroke-width="1.2"/>
<line x1="414.9" y1="147.50" x2="410.4" y2="147.50" stroke="#333" stroke-width="1.2"/>
<text x="75.10" y="162.2" font-family="Liberation Sans, sans-serif" font-size="9" text-anchor="middle" fill="#1a1a1a" stroke="#1a1a1a" stroke-width="0.12">-4000</text>
<text x="150.61" y="162.2" font-family="Liberation Sans, sans-serif" font-size="9" text-anchor="middle" fill="#1a1a1a" stroke="#1a1a1a" stroke-width="0.12">-2000</text>
<text x="226.12" y="162.2" font-family="Liberation Sans, sans-serif" font-size="9" text-anchor="middle" fill="#1a1a1a" stroke="#1a1a1a" stroke-width="0.12">0</text>
<text x="301.63" y="162.2" font-family="Liberation Sans, sans-serif" font-size="9" text-anchor="middle" fill="#1a1a1a" stroke="#1a1a1a" stroke-width="0.12">2000</text>
<text x="377.14" y="162.2" font-family="Liberation Sans, sans-serif" font-size="9" text-anchor="middle" fill="#1a1a1a" stroke="#1a1a1a" stroke-width="0.12">4000</text>
<text x="33.5" y="7.85" font-family="Liberation Sans, sans-serif" font-size="9" text-anchor="end" fill="#1a1a1a" stroke="#1a1a1a" stroke-width="0.12">14</text>
<text x="33.5" y="31.65" font-family="Liberation Sans, sans-serif" font-size="9" text-anchor="end" fill="#1a1a1a" stroke="#1a1a1a" stroke-width="0.12">12</text>
<text x="33.5" y="55.45" font-family="Liberation Sans, sans-serif" font-size="9" text-anchor="end" fill="#1a1a1a" stroke="#1a1a1a" stroke-width="0.12">10</text>
<text x="33.5" y="79.25" font-family="Liberation Sans, sans-serif" font-size="9" text-anchor="end" fill="#1a1a1a" stroke="#1a1a1a" stroke-width="0.12">8</text>
<text x="33.5" y="103.05" font-family="Liberation Sans, sans-serif" font-size="9" text-anchor="end" fill="#1a1a1a" stroke="#1a1a1a" stroke-width="0.12">6</text>
<text x="33.5" y="126.85" font-family="Liberation Sans, sans-serif" font-size="9" text-anchor="end" fill="#1a1a1a" stroke="#1a1a1a" stroke-width="0.12">4</text>
<text x="33.5" y="150.65" font-family="Liberation Sans, sans-serif" font-size="9" text-anchor="end" fill="#1a1a1a" stroke="#1a1a1a" stroke-width="0.12">2</text>
<text x="227" y="177.5" font-family="Liberation Serif, serif" stroke="#111" stroke-width="0.12" font-size="14" text-anchor="middle" fill="#111">time [s]</text>
<text transform="translate(15.4,76.7) rotate(-90)" font-family="Liberation Serif, serif" stroke="#111" stroke-width="0.12" font-size="16" text-anchor="middle" fill="#111">ΔT [°C]</text>
<text x="44.5" y="19.8" font-family="Liberation Serif, serif" stroke="#111" stroke-width="0.12" font-size="14" fill="#111">a)</text>
<line x1="75.50" y1="186.8" x2="75.50" y2="328.0" stroke="#8c8c8c" stroke-width="1" stroke-dasharray="1 2" fill="none"/>
<line x1="151.50" y1="186.8" x2="151.50" y2="328.0" stroke="#8c8c8c" stroke-width="1" stroke-dasharray="1 2" fill="none"/>
<line x1="226.50" y1="186.8" x2="226.50" y2="328.0" stroke="#8c8c8c" stroke-width="1" stroke-dasharray="1 2" fill="none"/>
<line x1="302.50" y1="186.8" x2="302.50" y2="328.0" stroke="#8c8c8c" stroke-width="1" stroke-dasharray="1 2" fill="none"/>
<line x1="377.50" y1="186.8" x2="377.50" y2="328.0" stroke="#8c8c8c" stroke-width="1" stroke-dasharray="1 2" fill="none"/>
<line x1="39.5" y1="203.50" x2="415.5" y2="203.50" stroke="#b4b4b4" stroke-width="1" stroke-dasharray="1 1.7" fill="none"/>
<line x1="39.5" y1="220.50" x2="415.5" y2="220.50" stroke="#b4b4b4" stroke-width="1" stroke-dasharray="1 1.7" fill="none"/>
<line x1="39.5" y1="238.50" x2="415.5" y2="238.50" stroke="#b4b4b4" stroke-width="1" stroke-dasharray="1 1.7" fill="none"/>
<line x1="39.5" y1="256.50" x2="415.5" y2="256.50" stroke="#b4b4b4" stroke-width="1" stroke-dasharray="1 1.7" fill="none"/>
<line x1="39.5" y1="274.50" x2="415.5" y2="274.50" stroke="#b4b4b4" stroke-width="1" stroke-dasharray="1 1.7" fill="none"/>
<line x1="39.5" y1="292.50" x2="415.5" y2="292.50" stroke="#b4b4b4" stroke-width="1" stroke-dasharray="1 1.7" fill="none"/>
<line x1="39.5" y1="310.50" x2="415.5" y2="310.50" stroke="#b4b4b4" stroke-width="1" stroke-dasharray="1 1.7" fill="none"/>
<path d="M38.00,308.52 L38.80,306.45 L39.60,306.65 L40.40,307.78 L41.20,307.88 L42.00,307.35 L42.80,307.25 L43.60,307.69 L44.40,307.84 L45.20,307.67 L46.00,308.84 L46.80,311.78 L47.60,314.28 L48.40,314.46 L49.20,313.83 L50.00,314.41 L50.80,316.08 L51.60,318.04 L52.40,319.95 L53.20,320.82 L54.00,318.89 L54.80,315.24 L55.60,313.37 L56.40,313.46 L57.20,312.06 L58.00,307.73 L58.80,303.63 L59.60,304.12 L60.40,308.94 L61.20,312.94 L62.00,313.09 L62.80,311.75 L63.60,311.59 L64.40,312.03 L65.20,311.98 L66.00,310.40 L66.80,306.87 L67.60,302.78 L68.40,300.07 L69.20,300.22 L70.00,303.52 L70.80,308.66 L71.60,312.98 L72.40,314.59 L73.20,313.53 L74.00,311.84 L74.80,311.42 L75.60,312.06 L76.40,312.41 L77.20,311.27 L78.00,309.72 L78.80,309.71 L79.60,311.14 L80.40,313.63 L81.20,316.34 L82.00,316.13 L82.80,311.53 L83.60,305.63 L84.40,302.40 L85.20,302.25 L86.00,302.53 L86.80,303.50 L87.60,306.37 L88.40,308.21 L89.20,307.21 L90.00,305.76 L90.80,305.58 L91.60,305.74 L92.40,306.40 L93.20,309.47 L94.00,312.85 L94.80,312.84 L95.60,309.94 L96.40,306.49 L97.20,304.61 L98.00,304.96 L98.80,305.76 L99.60,306.78 L100.40,309.31 L101.20,310.89 L102.00,307.82 L102.80,301.88 L103.60,298.71 L104.40,300.98 L105.20,305.98 L106.00,308.51 L106.80,306.48 L107.60,302.54 L108.40,300.74 L109.20,301.62 L110.00,302.59 L110.80,303.24 L111.60,304.65 L112.40,305.15 L113.20,302.33 L114.00,297.72 L114.80,295.84 L115.60,298.14 L116.40,301.02 L117.20,301.71 L118.00,301.52 L118.80,302.47 L119.60,304.02 L120.40,304.02 L121.20,302.13 L122.00,300.13 L122.80,299.44 L123.60,298.99 L124.40,297.95 L125.20,298.61 L126.00,302.50 L126.80,307.12 L127.60,309.50 L128.40,308.76 L129.20,305.19 L130.00,300.96 L130.80,299.59 L131.60,302.60 L132.40,307.09 L133.20,309.39 L134.00,309.37 L134.80,307.95 L135.60,305.95 L136.40,305.00 L137.20,305.85 L138.00,307.28 L138.80,307.64 L139.60,306.32 L140.40,303.67 L141.20,301.03 L142.00,299.84 L142.80,299.91 L143.60,299.72 L144.40,300.13 L145.20,303.50 L146.00,306.34 L146.80,304.59 L147.60,302.26 L148.40,303.54 L149.20,305.94 L150.00,306.46 L150.80,305.98 L151.60,306.56 L152.40,309.19 L153.20,310.84 L154.00,307.85 L154.80,303.29 L155.60,301.99 L156.40,303.70 L157.20,305.41 L158.00,304.85 L158.80,302.14 L159.60,299.98 L160.40,299.75 L161.20,299.17 L162.00,297.01 L162.80,295.11 L163.60,295.07 L164.40,296.03 L165.20,296.52 L166.00,296.97 L166.80,298.03 L167.60,298.11 L168.40,296.87 L169.20,296.40 L170.00,296.92 L170.80,296.04 L171.60,293.59 L172.40,292.55 L173.20,294.29 L174.00,297.92 L174.80,300.87 L175.60,301.59 L176.40,302.18 L177.20,305.09 L178.00,309.01 L178.80,309.74 L179.60,305.82 L180.40,301.03 L181.20,300.09 L182.00,302.10 L182.80,303.01 L183.60,302.34 L184.40,301.54 L185.20,301.81 L186.00,303.41 L186.80,304.58 L187.60,304.23 L188.40,303.51 L189.20,303.73 L190.00,305.58 L190.80,308.78 L191.60,311.21 L192.40,310.97 L193.20,307.88 L194.00,303.06 L194.80,300.05 L195.60,301.04 L196.40,302.85 L197.20,302.48 L198.00,300.53 L198.80,299.76 L199.60,302.47 L200.40,306.61 L201.20,307.74 L202.00,305.80 L202.80,305.11 L203.60,306.91 L204.40,309.06 L205.20,309.80 L206.00,308.42 L206.80,307.66 L207.60,309.13 L208.40,309.61 L209.20,308.61 L210.00,308.69 L210.80,309.15 L211.60,307.65 L212.40,304.26 L213.20,303.06 L214.00,306.94 L214.80,313.12 L215.60,316.97 L216.40,315.98 L217.20,311.03 L218.00,305.40 L218.80,301.54 L219.60,299.35 L220.40,297.40 L221.20,295.37 L222.00,295.54 L222.80,300.23 L223.60,307.17 L224.40,311.20 L225.20,309.59 L226.00,304.99 L226.80,300.58" stroke="#16eaf2" stroke-width="1.3" fill="none" stroke-linejoin="round"/>
<path d="M38.00,297.91 L38.80,296.66 L39.60,294.81 L40.40,293.99 L41.20,295.31 L42.00,296.93 L42.80,296.39 L43.60,294.19 L44.40,294.48 L45.20,299.44 L46.00,303.66 L46.80,301.72 L47.60,296.03 L48.40,291.98 L49.20,291.07 L50.00,291.92 L50.80,293.66 L51.60,295.78 L52.40,297.03 L53.20,295.18 L54.00,291.38 L54.80,288.88 L55.60,287.45 L56.40,286.94 L57.20,288.79 L58.00,291.91 L58.80,293.94 L59.60,295.91 L60.40,299.94 L61.20,303.10 L62.00,302.14 L62.80,298.41 L63.60,294.75 L64.40,293.60 L65.20,295.90 L66.00,300.06 L66.80,304.37 L67.60,306.61 L68.40,305.39 L69.20,302.24 L70.00,297.75 L70.80,292.33 L71.60,289.27 L72.40,290.07 L73.20,293.02 L74.00,296.60 L74.80,300.59 L75.60,304.24 L76.40,305.01 L77.20,302.45 L78.00,299.70 L78.80,298.53 L79.60,297.38 L80.40,296.32 L81.20,297.34 L82.00,299.86 L82.80,302.33 L83.60,303.37 L84.40,301.23 L85.20,297.13 L86.00,294.38 L86.80,293.92 L87.60,294.75 L88.40,296.37 L89.20,298.64 L90.00,300.02 L90.80,298.92 L91.60,296.47 L92.40,296.23 L93.20,298.87 L94.00,301.40 L94.80,302.64 L95.60,303.40 L96.40,304.43 L97.20,304.94 L98.00,303.34 L98.80,299.90 L99.60,296.85 L100.40,295.87 L101.20,295.78 L102.00,296.00 L102.80,297.29 L103.60,298.58 L104.40,297.23 L105.20,293.95 L106.00,292.86 L106.80,294.70 L107.60,296.74 L108.40,297.17 L109.20,296.99 L110.00,297.69 L110.80,299.00 L111.60,298.78 L112.40,296.25 L113.20,293.45 L114.00,292.97 L114.80,295.13 L115.60,297.01 L116.40,296.21 L117.20,292.26 L118.00,286.61 L118.80,283.51 L119.60,285.19 L120.40,289.43 L121.20,293.16 L122.00,295.35 L122.80,296.33 L123.60,295.51 L124.40,292.65 L125.20,290.68 L126.00,291.90 L126.80,293.38 L127.60,293.44 L128.40,295.51 L129.20,298.59 L130.00,298.50 L130.80,296.96 L131.60,297.83 L132.40,300.00 L133.20,300.15 L134.00,298.98 L134.80,299.41 L135.60,301.44 L136.40,302.74 L137.20,300.90 L138.00,296.65 L138.80,295.07 L139.60,298.50 L140.40,302.70 L141.20,304.13 L142.00,303.95 L142.80,302.58 L143.60,299.64 L144.40,297.01 L145.20,295.82 L146.00,296.30 L146.80,297.63 L147.60,296.96 L148.40,293.29 L149.20,289.76 L150.00,289.36 L150.80,291.37 L151.60,292.84 L152.40,292.55 L153.20,292.13 L154.00,293.62 L154.80,295.99 L155.60,297.17 L156.40,296.95 L157.20,295.04 L158.00,292.19 L158.80,291.60 L159.60,293.87 L160.40,294.82 L161.20,291.13 L162.00,284.52 L162.80,280.10 L163.60,281.20 L164.40,287.09 L165.20,293.38 L166.00,296.07 L166.80,295.92 L167.60,295.61 L168.40,295.39 L169.20,294.50 L170.00,292.57 L170.80,289.38 L171.60,287.57 L172.40,289.88 L173.20,293.06 L174.00,293.05 L174.80,291.23 L175.60,290.65 L176.40,291.96 L177.20,292.46 L178.00,288.90 L178.80,282.63 L179.60,278.38 L180.40,277.97 L181.20,279.93 L182.00,284.26 L182.80,289.42 L183.60,291.41 L184.40,291.35 L185.20,292.48 L186.00,293.24 L186.80,291.98 L187.60,289.11 L188.40,285.23 L189.20,282.59 L190.00,283.04 L190.80,285.79 L191.60,287.54 L192.40,286.45 L193.20,285.40 L194.00,287.02 L194.80,290.12 L195.60,292.30 L196.40,291.95 L197.20,289.27 L198.00,287.19 L198.80,287.63 L199.60,289.31 L200.40,291.69 L201.20,295.05 L202.00,296.96 L202.80,296.30 L203.60,295.50 L204.40,294.32 L205.20,291.09 L206.00,288.20 L206.80,288.72 L207.60,291.67 L208.40,293.87 L209.20,294.80 L210.00,296.16 L210.80,296.96 L211.60,294.82 L212.40,291.64 L213.20,291.22 L214.00,292.85 L214.80,293.18 L215.60,291.08 L216.40,287.94 L217.20,285.42 L218.00,284.83 L218.80,286.47 L219.60,288.43 L220.40,288.69 L221.20,287.19 L222.00,285.54 L222.80,285.17 L223.60,286.81 L224.40,289.23 L225.20,290.14 L226.00,289.05 L226.80,286.93" stroke="#16eaf2" stroke-width="1.3" fill="none" stroke-linejoin="round"/>
<path d="M38.00,294.27 L38.80,296.39 L39.60,299.82 L40.40,303.10 L41.20,302.86 L42.00,298.59 L42.80,293.81 L43.60,291.61 L44.40,293.47 L45.20,298.04 L46.00,301.50 L46.80,301.92 L47.60,300.31 L48.40,298.25 L49.20,296.64 L50.00,296.97 L50.80,300.62 L51.60,304.75 L52.40,305.03 L53.20,302.85 L54.00,302.96 L54.80,304.81 L55.60,303.43 L56.40,299.29 L57.20,297.90 L58.00,299.89 L58.80,301.19 L59.60,300.89 L60.40,301.68 L61.20,304.43 L62.00,306.35 L62.80,304.73 L63.60,301.75 L64.40,301.05 L65.20,301.64 L66.00,300.22 L66.80,296.97 L67.60,293.90 L68.40,291.34 L69.20,289.38 L70.00,288.37 L70.80,288.76 L71.60,290.88 L72.40,294.57 L73.20,298.40 L74.00,299.61 L74.80,297.73 L75.60,295.22 L76.40,292.59 L77.20,290.12 L78.00,291.54 L78.80,297.21 L79.60,301.79 L80.40,301.59 L81.20,297.92 L82.00,295.01 L82.80,295.12 L83.60,295.81 L84.40,294.36 L85.20,291.89 L86.00,291.29 L86.80,294.01 L87.60,297.52 L88.40,297.56 L89.20,294.71 L90.00,293.35 L90.80,294.64 L91.60,295.57 L92.40,294.08 L93.20,291.25 L94.00,289.87 L94.80,292.42 L95.60,296.96 L96.40,298.59 L97.20,297.24 L98.00,297.03 L98.80,298.23 L99.60,298.66 L100.40,299.22 L101.20,301.21 L102.00,303.61 L102.80,304.57 L103.60,302.90 L104.40,299.71 L105.20,296.97 L106.00,294.64 L106.80,293.12 L107.60,293.85 L108.40,295.69 L109.20,297.30 L110.00,299.15 L110.80,300.34 L111.60,300.79 L112.40,301.73 L113.20,302.60 L114.00,301.66 L114.80,299.25 L115.60,298.40 L116.40,300.70 L117.20,302.97 L118.00,301.12 L118.80,296.50 L119.60,293.56 L120.40,293.88 L121.20,296.69 L122.00,299.84 L122.80,300.27 L123.60,298.43 L124.40,297.44 L125.20,296.54 L126.00,294.64 L126.80,293.54 L127.60,294.18 L128.40,295.58 L129.20,296.03 L130.00,296.11 L130.80,297.63 L131.60,300.02 L132.40,302.09 L133.20,303.25 L134.00,303.46 L134.80,302.74 L135.60,300.68 L136.40,297.83 L137.20,296.87 L138.00,299.06 L138.80,301.22 L139.60,299.44 L140.40,295.48 L141.20,294.13 L142.00,294.74 L142.80,295.72 L143.60,299.18 L144.40,303.40 L145.20,304.00 L146.00,302.79 L146.80,303.50 L147.60,304.44 L148.40,303.17 L149.20,300.20 L150.00,296.80 L150.80,294.68 L151.60,295.61 L152.40,298.78 L153.20,301.29 L154.00,300.05 L154.80,294.68 L155.60,290.45 L156.40,291.74 L157.20,295.60 L158.00,297.56 L158.80,297.53 L159.60,297.88 L160.40,298.79 L161.20,298.65 L162.00,297.32 L162.80,295.52 L163.60,294.08 L164.40,292.28 L165.20,290.12 L166.00,290.83 L166.80,294.24 L167.60,297.08 L168.40,298.26 L169.20,298.84 L170.00,300.33 L170.80,301.31 L171.60,298.97 L172.40,294.78 L173.20,292.54 L174.00,293.94 L174.80,297.02 L175.60,298.25 L176.40,296.96 L177.20,295.04 L178.00,293.09 L178.80,291.31 L179.60,291.01 L180.40,291.76 L181.20,292.43 L182.00,292.94 L182.80,294.03 L183.60,297.36 L184.40,301.97 L185.20,304.38 L186.00,303.99 L186.80,303.13 L187.60,303.71 L188.40,305.62 L189.20,307.33 L190.00,306.28 L190.80,301.73 L191.60,295.36 L192.40,288.14 L193.20,283.26 L194.00,285.07 L194.80,291.18 L195.60,296.07 L196.40,298.98 L197.20,301.36 L198.00,302.53 L198.80,303.14 L199.60,304.54 L200.40,304.36 L201.20,301.30 L202.00,298.70 L202.80,297.95 L203.60,296.79 L204.40,295.23 L205.20,295.10 L206.00,297.01 L206.80,300.13 L207.60,302.28 L208.40,301.69 L209.20,298.53 L210.00,295.54 L210.80,295.52 L211.60,297.99 L212.40,301.01 L213.20,302.00 L214.00,299.68 L214.80,297.69 L215.60,298.13 L216.40,298.04 L217.20,296.44 L218.00,295.80 L218.80,297.06 L219.60,298.27 L220.40,297.81 L221.20,296.79 L222.00,296.66 L222.80,295.26 L223.60,289.95 L224.40,283.98 L225.20,282.82 L226.00,286.06 L226.80,290.44" stroke="#16eaf2" stroke-width="1.3" fill="none" stroke-linejoin="round"/>
<path d="M38.00,306.84 L38.80,305.43 L39.60,305.20 L40.40,305.89 L41.20,307.40 L42.00,310.12 L42.80,312.38 L43.60,312.37 L44.40,311.50 L45.20,311.89 L46.00,311.72 L46.80,309.80 L47.60,309.06 L48.40,310.03 L49.20,310.68 L50.00,310.89 L50.80,311.52 L51.60,312.37 L52.40,311.88 L53.20,309.70 L54.00,307.43 L54.80,305.79 L55.60,304.54 L56.40,304.16 L57.20,306.26 L58.00,311.46 L58.80,316.55 L59.60,317.57 L60.40,314.44 L61.20,310.78 L62.00,308.83 L62.80,308.17 L63.60,308.85 L64.40,309.49 L65.20,308.82 L66.00,308.09 L66.80,307.04 L67.60,305.17 L68.40,304.25 L69.20,305.39 L70.00,307.77 L70.80,309.49 L71.60,307.90 L72.40,303.81 L73.20,300.87 L74.00,299.50 L74.80,298.81 L75.60,299.51 L76.40,300.80 L77.20,300.53 L78.00,299.83 L78.80,300.85 L79.60,302.09 L80.40,302.84 L81.20,305.72 L82.00,309.30 L82.80,308.15 L83.60,303.19 L84.40,300.51 L85.20,301.02 L86.00,301.90 L86.80,302.69 L87.60,302.71 L88.40,299.73 L89.20,295.00 L90.00,294.05 L90.80,298.64 L91.60,303.55 L92.40,304.53 L93.20,304.49 L94.00,306.63 L94.80,308.52 L95.60,308.50 L96.40,308.95 L97.20,311.05 L98.00,312.63 L98.80,312.10 L99.60,310.13 L100.40,307.52 L101.20,305.21 L102.00,304.53 L102.80,305.41 L103.60,306.81 L104.40,308.81 L105.20,310.94 L106.00,311.16 L106.80,308.66 L107.60,305.71 L108.40,304.20 L109.20,303.17 L110.00,303.00 L110.80,305.46 L111.60,308.62 L112.40,308.26 L113.20,304.74 L114.00,302.56 L114.80,303.71 L115.60,305.78 L116.40,304.95 L117.20,300.83 L118.00,298.41 L118.80,300.55 L119.60,304.71 L120.40,308.80 L121.20,311.92 L122.00,311.61 L122.80,306.83 L123.60,301.49 L124.40,300.24 L125.20,303.28 L126.00,306.77 L126.80,308.63 L127.60,309.78 L128.40,310.52 L129.20,309.60 L130.00,305.71 L130.80,300.28 L131.60,295.94 L132.40,294.21 L133.20,296.68 L134.00,303.07 L134.80,309.20 L135.60,310.65 L136.40,307.26 L137.20,303.29 L138.00,302.57 L138.80,304.24 L139.60,305.02 L140.40,304.70 L141.20,304.18 L142.00,302.51 L142.80,301.03 L143.60,301.68 L144.40,302.60 L145.20,303.34 L146.00,306.45 L146.80,311.28 L147.60,313.23 L148.40,309.73 L149.20,303.93 L150.00,300.70 L150.80,299.36 L151.60,297.18 L152.40,296.10 L153.20,299.43 L154.00,305.36 L154.80,308.32 L155.60,306.78 L156.40,303.54 L157.20,301.22 L158.00,300.82 L158.80,301.60 L159.60,302.38 L160.40,302.31 L161.20,301.29 L162.00,301.41 L162.80,302.94 L163.60,303.08 L164.40,300.57 L165.20,296.57 L166.00,294.28 L166.80,295.17 L167.60,296.77 L168.40,296.29 L169.20,293.98 L170.00,293.92 L170.80,297.40 L171.60,300.19 L172.40,299.90 L173.20,298.58 L174.00,297.42 L174.80,295.92 L175.60,295.26 L176.40,296.55 L177.20,299.14 L178.00,301.33 L178.80,302.30 L179.60,302.09 L180.40,299.54 L181.20,295.59 L182.00,294.04 L182.80,295.46 L183.60,297.14 L184.40,297.66 L185.20,298.73 L186.00,301.51 L186.80,302.83 L187.60,300.80 L188.40,298.66 L189.20,299.14 L190.00,301.35 L190.80,303.58 L191.60,304.96 L192.40,305.36 L193.20,304.51 L194.00,301.49 L194.80,297.66 L195.60,296.73 L196.40,298.31 L197.20,299.62 L198.00,300.16 L198.80,300.01 L199.60,299.66 L200.40,299.80 L201.20,300.97 L202.00,302.76 L202.80,304.76 L203.60,307.43 L204.40,308.97 L205.20,307.53 L206.00,306.36 L206.80,308.54 L207.60,311.96 L208.40,313.53 L209.20,312.18 L210.00,310.01 L210.80,309.63 L211.60,309.03 L212.40,305.31 L213.20,299.48 L214.00,296.26 L214.80,298.46 L215.60,301.21 L216.40,300.91 L217.20,301.44 L218.00,304.75 L218.80,307.40 L219.60,306.31 L220.40,303.33 L221.20,302.34 L222.00,302.55 L222.80,303.19 L223.60,306.52 L224.40,310.54 L225.20,309.71 L226.00,303.53 L226.80,298.19" stroke="#16eaf2" stroke-width="1.3" fill="none" stroke-linejoin="round"/>
<path d="M38.00,303.98 L38.80,303.06 L39.60,298.36 L40.40,295.07 L41.20,298.18 L42.00,303.92 L42.80,304.94 L43.60,300.42 L44.40,295.82 L45.20,293.77 L46.00,292.09 L46.80,291.65 L47.60,295.36 L48.40,301.03 L49.20,303.78 L50.00,302.94 L50.80,301.79 L51.60,300.69 L52.40,297.64 L53.20,294.92 L54.00,295.91 L54.80,299.58 L55.60,302.10 L56.40,301.80 L57.20,299.69 L58.00,297.03 L58.80,294.80 L59.60,294.92 L60.40,297.74 L61.20,299.55 L62.00,299.06 L62.80,299.38 L63.60,301.65 L64.40,303.17 L65.20,301.45 L66.00,297.23 L66.80,292.87 L67.60,290.79 L68.40,291.97 L69.20,294.63 L70.00,297.01 L70.80,299.22 L71.60,301.05 L72.40,301.79 L73.20,301.74 L74.00,301.28 L74.80,300.21 L75.60,298.59 L76.40,296.72 L77.20,295.78 L78.00,296.39 L78.80,297.68 L79.60,299.57 L80.40,301.35 L81.20,301.42 L82.00,299.83 L82.80,299.09 L83.60,300.13 L84.40,300.85 L85.20,300.98 L86.00,301.97 L86.80,303.10 L87.60,301.87 L88.40,297.86 L89.20,294.66 L90.00,295.87 L90.80,300.39 L91.60,303.75 L92.40,303.73 L93.20,302.52 L94.00,301.52 L94.80,299.85 L95.60,297.62 L96.40,295.83 L97.20,295.85 L98.00,297.56 L98.80,297.81 L99.60,295.91 L100.40,295.34 L101.20,297.35 L102.00,298.18 L102.80,295.74 L103.60,292.66 L104.40,289.87 L105.20,286.57 L106.00,285.19 L106.80,287.21 L107.60,290.14 L108.40,292.21 L109.20,293.69 L110.00,294.47 L110.80,294.08 L111.60,293.79 L112.40,295.61 L113.20,299.11 L114.00,301.33 L114.80,299.30 L115.60,292.61 L116.40,286.20 L117.20,285.67 L118.00,289.08 L118.80,291.77 L119.60,293.95 L120.40,296.37 L121.20,296.77 L122.00,295.20 L122.80,293.82 L123.60,293.09 L124.40,293.00 L125.20,292.74 L126.00,290.98 L126.80,289.20 L127.60,289.52 L128.40,291.36 L129.20,293.75 L130.00,296.38 L130.80,299.01 L131.60,300.96 L132.40,300.26 L133.20,298.27 L134.00,298.21 L134.80,298.45 L135.60,296.77 L136.40,296.01 L137.20,298.20 L138.00,299.72 L138.80,298.70 L139.60,297.91 L140.40,297.82 L141.20,297.40 L142.00,297.66 L142.80,299.61 L143.60,301.74 L144.40,301.94 L145.20,301.18 L146.00,300.78 L146.80,300.76 L147.60,302.18 L148.40,304.75 L149.20,306.73 L150.00,307.35 L150.80,307.10 L151.60,307.04 L152.40,308.01 L153.20,309.43 L154.00,309.57 L154.80,308.37 L155.60,307.43 L156.40,306.25 L157.20,304.05 L158.00,301.62 L158.80,299.04 L159.60,296.72 L160.40,296.75 L161.20,299.00 L162.00,301.74 L162.80,304.14 L163.60,305.11 L164.40,304.99 L165.20,304.77 L166.00,304.07 L166.80,302.94 L167.60,303.01 L168.40,305.53 L169.20,309.30 L170.00,311.54 L170.80,310.44 L171.60,306.28 L172.40,301.63 L173.20,300.20 L174.00,302.51 L174.80,304.98 L175.60,306.24 L176.40,307.68 L177.20,308.61 L178.00,307.89 L178.80,305.42 L179.60,300.98 L180.40,296.84 L181.20,296.14 L182.00,297.80 L182.80,298.48 L183.60,297.20 L184.40,295.87 L185.20,296.33 L186.00,298.81 L186.80,302.21 L187.60,304.70 L188.40,304.93 L189.20,303.49 L190.00,302.13 L190.80,301.72 L191.60,301.24 L192.40,298.62 L193.20,295.39 L194.00,295.90 L194.80,298.98 L195.60,300.10 L196.40,299.36 L197.20,299.20 L198.00,298.08 L198.80,294.25 L199.60,290.72 L200.40,290.52 L201.20,292.93 L202.00,296.18 L202.80,299.29 L203.60,300.78 L204.40,298.78 L205.20,294.94 L206.00,292.95 L206.80,294.55 L207.60,298.57 L208.40,301.37 L209.20,301.01 L210.00,299.21 L210.80,298.68 L211.60,300.42 L212.40,301.59 L213.20,300.83 L214.00,299.62 L214.80,296.13 L215.60,290.42 L216.40,287.84 L217.20,290.39 L218.00,294.06 L218.80,295.73 L219.60,296.56 L220.40,297.45 L221.20,297.51 L222.00,297.00 L222.80,297.05 L223.60,297.60 L224.40,298.04 L225.20,297.62 L226.00,295.72 L226.80,294.22" stroke="#16eaf2" stroke-width="1.3" fill="none" stroke-linejoin="round"/>
<path d="M38.00,295.48 L38.80,295.42 L39.60,296.72 L40.40,297.83 L41.20,296.31 L42.00,293.16 L42.80,291.33 L43.60,290.97 L44.40,291.65 L45.20,293.45 L46.00,295.16 L46.80,296.77 L47.60,298.88 L48.40,299.75 L49.20,298.50 L50.00,297.38 L50.80,296.35 L51.60,293.38 L52.40,290.39 L53.20,290.87 L54.00,294.05 L54.80,296.25 L55.60,296.02 L56.40,294.12 L57.20,291.51 L58.00,289.77 L58.80,290.60 L59.60,293.60 L60.40,296.30 L61.20,296.06 L62.00,292.88 L62.80,290.32 L63.60,290.76 L64.40,292.54 L65.20,294.22 L66.00,296.49 L66.80,297.67 L67.60,295.48 L68.40,290.71 L69.20,286.09 L70.00,284.26 L70.80,285.56 L71.60,288.32 L72.40,290.58 L73.20,292.32 L74.00,293.68 L74.80,292.93 L75.60,289.96 L76.40,287.38 L77.20,288.02 L78.00,292.10 L78.80,295.37 L79.60,294.93 L80.40,293.43 L81.20,293.47 L82.00,294.14 L82.80,292.80 L83.60,289.26 L84.40,287.28 L85.20,289.55 L86.00,293.14 L86.80,294.15 L87.60,292.21 L88.40,289.07 L89.20,287.94 L90.00,289.82 L90.80,291.43 L91.60,291.27 L92.40,291.15 L93.20,291.59 L94.00,291.68 L94.80,290.52 L95.60,287.63 L96.40,285.33 L97.20,285.88 L98.00,287.81 L98.80,289.80 L99.60,291.98 L100.40,294.32 L101.20,296.49 L102.00,296.46 L102.80,293.13 L103.60,289.91 L104.40,290.37 L105.20,292.37 L106.00,292.48 L106.80,292.01 L107.60,293.32 L108.40,295.43 L109.20,296.13 L110.00,294.73 L110.80,292.45 L111.60,291.07 L112.40,290.10 L113.20,288.05 L114.00,286.22 L114.80,287.40 L115.60,292.37 L116.40,299.30 L117.20,304.20 L118.00,304.37 L118.80,301.08 L119.60,297.87 L120.40,296.44 L121.20,295.35 L122.00,293.45 L122.80,291.87 L123.60,293.13 L124.40,297.26 L125.20,301.39 L126.00,304.47 L126.80,306.27 L127.60,303.59 L128.40,296.76 L129.20,291.27 L130.00,289.40 L130.80,289.83 L131.60,291.65 L132.40,294.74 L133.20,297.79 L134.00,298.61 L134.80,297.18 L135.60,295.53 L136.40,295.04 L137.20,295.48 L138.00,295.75 L138.80,295.02 L139.60,293.78 L140.40,294.23 L141.20,297.16 L142.00,298.67 L142.80,296.36 L143.60,293.65 L144.40,291.71 L145.20,288.06 L146.00,285.55 L146.80,288.60 L147.60,294.42 L148.40,298.56 L149.20,299.62 L150.00,297.02 L150.80,291.58 L151.60,287.18 L152.40,287.51 L153.20,290.79 L154.00,292.19 L154.80,290.99 L155.60,289.52 L156.40,287.41 L157.20,284.43 L158.00,284.14 L158.80,287.19 L159.60,289.03 L160.40,287.32 L161.20,285.43 L162.00,286.39 L162.80,289.35 L163.60,292.54 L164.40,294.72 L165.20,295.71 L166.00,295.99 L166.80,296.73 L167.60,298.74 L168.40,300.49 L169.20,300.42 L170.00,298.87 L170.80,297.05 L171.60,295.58 L172.40,293.42 L173.20,290.90 L174.00,289.61 L174.80,289.65 L175.60,291.02 L176.40,293.40 L177.20,294.55 L178.00,293.01 L178.80,290.41 L179.60,289.90 L180.40,292.90 L181.20,296.59 L182.00,297.16 L182.80,294.18 L183.60,290.02 L184.40,287.03 L185.20,285.40 L186.00,284.84 L186.80,286.54 L187.60,289.82 L188.40,292.22 L189.20,292.33 L190.00,290.42 L190.80,288.43 L191.60,287.44 L192.40,287.21 L193.20,287.55 L194.00,288.46 L194.80,289.71 L195.60,291.71 L196.40,294.41 L197.20,295.70 L198.00,295.05 L198.80,294.40 L199.60,294.51 L200.40,294.58 L201.20,292.08 L202.00,286.59 L202.80,282.51 L203.60,283.08 L204.40,288.57 L205.20,297.10 L206.00,303.78 L206.80,305.19 L207.60,303.22 L208.40,299.99 L209.20,297.38 L210.00,297.37 L210.80,298.05 L211.60,296.75 L212.40,293.93 L213.20,290.39 L214.00,287.55 L214.80,287.88 L215.60,290.28 L216.40,291.02 L217.20,289.86 L218.00,289.47 L218.80,290.70 L219.60,292.58 L220.40,293.73 L221.20,292.74 L222.00,289.59 L222.80,286.49 L223.60,285.73 L224.40,286.43 L225.20,287.04 L226.00,287.69 L226.80,288.27" stroke="#16eaf2" stroke-width="1.3" fill="none" stroke-linejoin="round"/>
<path d="M38.00,303.71 L38.80,301.36 L39.60,297.94 L40.40,296.74 L41.20,297.90 L42.00,298.25 L42.80,297.88 L43.60,299.24 L44.40,301.46 L45.20,302.73 L46.00,302.51 L46.80,300.19 L47.60,297.64 L48.40,298.43 L49.20,301.94 L50.00,303.93 L50.80,301.82 L51.60,298.62 L52.40,299.50 L53.20,303.82 L54.00,306.67 L54.80,304.84 L55.60,299.87 L56.40,296.23 L57.20,295.87 L58.00,297.31 L58.80,299.56 L59.60,302.25 L60.40,302.39 L61.20,298.25 L62.00,293.92 L62.80,293.51 L63.60,294.81 L64.40,295.20 L65.20,296.45 L66.00,299.32 L66.80,301.64 L67.60,301.74 L68.40,300.18 L69.20,298.75 L70.00,298.69 L70.80,299.80 L71.60,300.86 L72.40,300.77 L73.20,299.50 L74.00,298.82 L74.80,300.22 L75.60,302.28 L76.40,303.62 L77.20,304.49 L78.00,305.06 L78.80,303.97 L79.60,301.11 L80.40,298.69 L81.20,297.14 L82.00,295.17 L82.80,293.49 L83.60,293.46 L84.40,293.95 L85.20,293.77 L86.00,294.02 L86.80,296.58 L87.60,301.19 L88.40,304.23 L89.20,302.72 L90.00,297.87 L90.80,294.00 L91.60,292.67 L92.40,292.67 L93.20,293.50 L94.00,294.71 L94.80,296.46 L95.60,299.28 L96.40,302.54 L97.20,303.93 L98.00,301.64 L98.80,298.10 L99.60,295.81 L100.40,294.09 L101.20,292.68 L102.00,292.63 L102.80,294.70 L103.60,296.72 L104.40,295.98 L105.20,294.32 L106.00,294.68 L106.80,296.60 L107.60,296.80 L108.40,294.29 L109.20,292.33 L110.00,292.14 L110.80,292.90 L111.60,295.35 L112.40,297.78 L113.20,297.11 L114.00,294.20 L114.80,291.82 L115.60,291.63 L116.40,294.18 L117.20,298.47 L118.00,301.44 L118.80,300.47 L119.60,297.00 L120.40,294.33 L121.20,292.51 L122.00,290.74 L122.80,290.07 L123.60,290.01 L124.40,289.75 L125.20,289.94 L126.00,289.82 L126.80,288.78 L127.60,288.76 L128.40,290.32 L129.20,292.02 L130.00,293.73 L130.80,295.40 L131.60,295.45 L132.40,293.98 L133.20,292.47 L134.00,292.18 L134.80,294.17 L135.60,297.20 L136.40,298.67 L137.20,298.66 L138.00,298.13 L138.80,297.36 L139.60,296.62 L140.40,295.56 L141.20,294.43 L142.00,293.70 L142.80,293.37 L143.60,293.99 L144.40,295.89 L145.20,298.91 L146.00,300.81 L146.80,299.35 L147.60,296.11 L148.40,293.38 L149.20,291.04 L150.00,289.44 L150.80,290.15 L151.60,292.19 L152.40,292.62 L153.20,292.08 L154.00,293.39 L154.80,295.27 L155.60,295.42 L156.40,294.93 L157.20,295.13 L158.00,296.12 L158.80,297.50 L159.60,296.87 L160.40,294.62 L161.20,294.45 L162.00,295.56 L162.80,294.86 L163.60,292.61 L164.40,290.88 L165.20,291.24 L166.00,293.29 L166.80,294.15 L167.60,292.66 L168.40,291.40 L169.20,292.24 L170.00,294.10 L170.80,295.11 L171.60,294.27 L172.40,291.14 L173.20,287.48 L174.00,287.92 L174.80,292.71 L175.60,295.46 L176.40,294.27 L177.20,294.31 L178.00,297.65 L178.80,301.33 L179.60,303.04 L180.40,302.54 L181.20,300.84 L182.00,299.43 L182.80,298.90 L183.60,299.63 L184.40,301.38 L185.20,302.24 L186.00,301.22 L186.80,299.25 L187.60,296.89 L188.40,293.60 L189.20,289.59 L190.00,287.17 L190.80,288.95 L191.60,292.62 L192.40,294.07 L193.20,293.78 L194.00,295.02 L194.80,298.04 L195.60,299.57 L196.40,299.16 L197.20,299.26 L198.00,300.15 L198.80,299.49 L199.60,296.07 L200.40,293.35 L201.20,294.78 L202.00,297.78 L202.80,298.34 L203.60,297.27 L204.40,296.71 L205.20,295.76 L206.00,292.98 L206.80,290.14 L207.60,290.43 L208.40,293.33 L209.20,296.41 L210.00,299.06 L210.80,299.87 L211.60,297.62 L212.40,294.19 L213.20,291.48 L214.00,289.57 L214.80,287.51 L215.60,285.92 L216.40,287.87 L217.20,293.00 L218.00,297.05 L218.80,298.29 L219.60,297.90 L220.40,297.54 L221.20,297.28 L222.00,296.00 L222.80,294.56 L223.60,294.31 L224.40,295.62 L225.20,299.13 L226.00,302.58 L226.80,302.90" stroke="#16eaf2" stroke-width="1.3" fill="none" stroke-linejoin="round"/>
<path d="M38.00,290.56 L38.80,291.22 L39.60,290.96 L40.40,290.77 L41.20,291.88 L42.00,293.24 L42.80,293.08 L43.60,292.65 L44.40,293.08 L45.20,294.59 L46.00,297.09 L46.80,297.72 L47.60,294.93 L48.40,291.49 L49.20,290.33 L50.00,292.34 L50.80,295.44 L51.60,295.96 L52.40,294.64 L53.20,295.40 L54.00,298.02 L54.80,298.10 L55.60,294.55 L56.40,291.52 L57.20,292.52 L58.00,297.16 L58.80,302.06 L59.60,303.52 L60.40,300.71 L61.20,297.11 L62.00,295.70 L62.80,295.61 L63.60,295.96 L64.40,297.01 L65.20,297.22 L66.00,296.64 L66.80,298.25 L67.60,302.05 L68.40,304.06 L69.20,303.47 L70.00,303.00 L70.80,301.88 L71.60,298.39 L72.40,294.61 L73.20,293.09 L74.00,293.66 L74.80,294.05 L75.60,292.61 L76.40,289.80 L77.20,287.59 L78.00,288.00 L78.80,290.94 L79.60,293.74 L80.40,294.66 L81.20,295.48 L82.00,296.94 L82.80,296.87 L83.60,295.41 L84.40,295.36 L85.20,296.58 L86.00,296.60 L86.80,295.83 L87.60,296.33 L88.40,297.68 L89.20,298.18 L90.00,297.93 L90.80,297.82 L91.60,297.36 L92.40,297.29 L93.20,298.27 L94.00,298.42 L94.80,297.59 L95.60,296.24 L96.40,293.67 L97.20,292.32 L98.00,294.35 L98.80,297.56 L99.60,299.45 L100.40,300.66 L101.20,302.45 L102.00,304.91 L102.80,307.02 L103.60,305.11 L104.40,297.47 L105.20,289.86 L106.00,287.81 L106.80,289.82 L107.60,291.93 L108.40,291.69 L109.20,289.83 L110.00,289.05 L110.80,289.36 L111.60,289.10 L112.40,289.89 L113.20,293.15 L114.00,295.87 L114.80,296.12 L115.60,295.03 L116.40,294.78 L117.20,297.14 L118.00,300.52 L118.80,301.48 L119.60,299.29 L120.40,296.71 L121.20,296.67 L122.00,297.96 L122.80,296.28 L123.60,290.96 L124.40,286.14 L125.20,285.45 L126.00,288.97 L126.80,293.51 L127.60,295.37 L128.40,296.14 L129.20,299.47 L130.00,302.64 L130.80,300.34 L131.60,294.23 L132.40,289.27 L133.20,287.24 L134.00,289.69 L134.80,296.84 L135.60,303.29 L136.40,303.61 L137.20,299.46 L138.00,296.21 L138.80,295.07 L139.60,292.99 L140.40,290.10 L141.20,291.20 L142.00,296.49 L142.80,300.80 L143.60,302.07 L144.40,301.34 L145.20,299.61 L146.00,298.44 L146.80,299.50 L147.60,301.05 L148.40,300.06 L149.20,297.20 L150.00,294.12 L150.80,291.42 L151.60,291.56 L152.40,295.40 L153.20,298.51 L154.00,297.64 L154.80,295.68 L155.60,295.31 L156.40,293.86 L157.20,290.35 L158.00,289.55 L158.80,293.24 L159.60,295.65 L160.40,292.86 L161.20,288.84 L162.00,289.58 L162.80,294.40 L163.60,297.70 L164.40,297.36 L165.20,295.47 L166.00,293.59 L166.80,291.76 L167.60,290.52 L168.40,290.77 L169.20,292.52 L170.00,294.99 L170.80,296.98 L171.60,297.34 L172.40,296.91 L173.20,296.47 L174.00,296.13 L174.80,297.23 L175.60,298.28 L176.40,296.44 L177.20,294.61 L178.00,296.66 L178.80,298.68 L179.60,295.51 L180.40,289.93 L181.20,288.05 L182.00,290.31 L182.80,293.58 L183.60,295.85 L184.40,296.79 L185.20,296.34 L186.00,293.24 L186.80,288.86 L187.60,287.34 L188.40,289.74 L189.20,293.49 L190.00,295.68 L190.80,294.70 L191.60,290.13 L192.40,283.77 L193.20,281.24 L194.00,284.77 L194.80,289.08 L195.60,290.56 L196.40,292.09 L197.20,295.62 L198.00,297.44 L198.80,294.95 L199.60,292.18 L200.40,293.42 L201.20,296.73 L202.00,298.53 L202.80,299.35 L203.60,299.57 L204.40,298.01 L205.20,296.40 L206.00,297.04 L206.80,298.35 L207.60,298.14 L208.40,296.08 L209.20,293.22 L210.00,291.52 L210.80,291.64 L211.60,292.12 L212.40,291.58 L213.20,290.24 L214.00,289.12 L214.80,289.15 L215.60,290.10 L216.40,291.10 L217.20,291.29 L218.00,289.99 L218.80,287.97 L219.60,287.69 L220.40,289.37 L221.20,290.18 L222.00,290.03 L222.80,290.78 L223.60,292.20 L224.40,293.87 L225.20,297.14 L226.00,301.25 L226.80,303.18" stroke="#16eaf2" stroke-width="1.3" fill="none" stroke-linejoin="round"/>
<path d="M38.00,298.38 L38.80,298.16 L39.60,296.57 L40.40,297.16 L41.20,299.79 L42.00,300.58 L42.80,299.40 L43.60,298.55 L44.40,298.32 L45.20,298.63 L46.00,300.22 L46.80,302.03 L47.60,301.86 L48.40,300.19 L49.20,300.35 L50.00,302.98 L50.80,304.27 L51.60,302.60 L52.40,301.11 L53.20,301.74 L54.00,303.62 L54.80,305.04 L55.60,305.11 L56.40,304.20 L57.20,302.44 L58.00,299.89 L58.80,297.25 L59.60,295.77 L60.40,296.34 L61.20,298.55 L62.00,301.75 L62.80,304.82 L63.60,306.40 L64.40,305.75 L65.20,302.72 L66.00,299.79 L66.80,299.78 L67.60,300.71 L68.40,300.51 L69.20,301.39 L70.00,304.89 L70.80,308.29 L71.60,308.93 L72.40,308.33 L73.20,309.31 L74.00,311.79 L74.80,313.10 L75.60,311.40 L76.40,307.96 L77.20,305.35 L78.00,304.15 L78.80,303.50 L79.60,303.00 L80.40,302.16 L81.20,300.69 L82.00,299.91 L82.80,299.93 L83.60,299.03 L84.40,297.45 L85.20,297.69 L86.00,300.33 L86.80,302.68 L87.60,303.66 L88.40,304.04 L89.20,304.35 L90.00,305.56 L90.80,307.33 L91.60,308.51 L92.40,309.33 L93.20,308.51 L94.00,305.34 L94.80,302.68 L95.60,302.38 L96.40,302.84 L97.20,302.57 L98.00,303.43 L98.80,305.82 L99.60,306.81 L100.40,306.84 L101.20,308.92 L102.00,312.91 L102.80,315.43 L103.60,312.96 L104.40,307.00 L105.20,302.46 L106.00,301.57 L106.80,303.28 L107.60,305.32 L108.40,305.45 L109.20,303.09 L110.00,301.33 L110.80,303.77 L111.60,308.34 L112.40,309.87 L113.20,307.81 L114.00,305.32 L114.80,303.69 L115.60,302.39 L116.40,302.18 L117.20,303.05 L118.00,302.65 L118.80,300.56 L119.60,300.01 L120.40,302.56 L121.20,304.76 L122.00,305.58 L122.80,306.74 L123.60,306.10 L124.40,303.50 L125.20,303.30 L126.00,306.20 L126.80,308.20 L127.60,307.37 L128.40,305.33 L129.20,304.35 L130.00,304.43 L130.80,303.88 L131.60,301.72 L132.40,298.61 L133.20,297.18 L134.00,298.52 L134.80,299.67 L135.60,299.12 L136.40,300.33 L137.20,305.03 L138.00,310.89 L138.80,315.06 L139.60,315.06 L140.40,310.63 L141.20,303.97 L142.00,298.37 L142.80,296.54 L143.60,297.11 L144.40,296.82 L145.20,295.61 L146.00,296.16 L146.80,299.47 L147.60,303.04 L148.40,303.81 L149.20,302.35 L150.00,301.06 L150.80,300.04 L151.60,298.39 L152.40,297.01 L153.20,298.12 L154.00,301.98 L154.80,305.35 L155.60,306.41 L156.40,306.90 L157.20,307.98 L158.00,307.35 L158.80,303.00 L159.60,298.45 L160.40,298.66 L161.20,302.93 L162.00,306.68 L162.80,307.35 L163.60,304.91 L164.40,300.10 L165.20,295.03 L166.00,291.95 L166.80,291.33 L167.60,292.45 L168.40,294.36 L169.20,295.86 L170.00,296.11 L170.80,296.90 L171.60,299.24 L172.40,300.29 L173.20,299.81 L174.00,300.67 L174.80,302.48 L175.60,303.73 L176.40,304.78 L177.20,305.63 L178.00,305.55 L178.80,304.46 L179.60,303.84 L180.40,304.40 L181.20,304.39 L182.00,302.34 L182.80,299.31 L183.60,297.41 L184.40,297.45 L185.20,298.89 L186.00,300.70 L186.80,301.77 L187.60,302.25 L188.40,303.55 L189.20,306.30 L190.00,308.52 L190.80,307.63 L191.60,304.66 L192.40,302.36 L193.20,301.09 L194.00,299.93 L194.80,297.98 L195.60,294.79 L196.40,292.02 L197.20,293.10 L198.00,298.07 L198.80,301.99 L199.60,302.54 L200.40,302.02 L201.20,301.52 L202.00,300.57 L202.80,299.32 L203.60,297.92 L204.40,296.02 L205.20,294.94 L206.00,295.51 L206.80,295.69 L207.60,296.14 L208.40,298.94 L209.20,301.97 L210.00,302.95 L210.80,301.76 L211.60,299.25 L212.40,297.74 L213.20,299.63 L214.00,304.98 L214.80,310.00 L215.60,309.88 L216.40,305.58 L217.20,302.54 L218.00,302.10 L218.80,301.50 L219.60,300.62 L220.40,302.24 L221.20,304.62 L222.00,302.25 L222.80,296.00 L223.60,292.56 L224.40,294.56 L225.20,298.34 L226.00,299.43 L226.80,297.52" stroke="#16eaf2" stroke-width="1.3" fill="none" stroke-linejoin="round"/>
<path d="M38.00,303.25 L38.80,304.35 L39.60,301.85 L40.40,298.61 L41.20,297.61 L42.00,299.00 L42.80,299.61 L43.60,298.79 L44.40,298.26 L45.20,297.52 L46.00,295.84 L46.80,294.39 L47.60,294.62 L48.40,296.98 L49.20,300.33 L50.00,302.39 L50.80,302.40 L51.60,302.04 L52.40,302.71 L53.20,303.00 L54.00,302.45 L54.80,302.83 L55.60,302.91 L56.40,301.07 L57.20,298.30 L58.00,295.49 L58.80,293.18 L59.60,292.51 L60.40,293.76 L61.20,296.40 L62.00,298.33 L62.80,295.59 L63.60,290.56 L64.40,290.77 L65.20,296.02 L66.00,300.64 L66.80,303.07 L67.60,305.01 L68.40,307.27 L69.20,309.06 L70.00,308.77 L70.80,305.65 L71.60,300.89 L72.40,296.84 L73.20,296.26 L74.00,300.24 L74.80,306.33 L75.60,308.64 L76.40,304.64 L77.20,299.43 L78.00,298.10 L78.80,300.06 L79.60,302.56 L80.40,303.00 L81.20,300.05 L82.00,297.07 L82.80,297.17 L83.60,298.37 L84.40,299.42 L85.20,299.40 L86.00,296.27 L86.80,292.52 L87.60,292.85 L88.40,297.57 L89.20,302.44 L90.00,303.57 L90.80,301.74 L91.60,300.89 L92.40,301.81 L93.20,302.61 L94.00,302.59 L94.80,301.29 L95.60,299.17 L96.40,297.39 L97.20,295.88 L98.00,294.22 L98.80,293.14 L99.60,293.27 L100.40,294.35 L101.20,295.59 L102.00,295.95 L102.80,295.64 L103.60,296.35 L104.40,298.63 L105.20,300.03 L106.00,298.35 L106.80,295.95 L107.60,295.73 L108.40,296.53 L109.20,296.34 L110.00,295.74 L110.80,296.10 L111.60,297.19 L112.40,297.06 L113.20,293.93 L114.00,288.93 L114.80,286.03 L115.60,288.68 L116.40,296.07 L117.20,302.70 L118.00,304.92 L118.80,304.08 L119.60,302.03 L120.40,298.63 L121.20,294.31 L122.00,291.39 L122.80,292.20 L123.60,296.70 L124.40,301.86 L125.20,303.77 L126.00,302.20 L126.80,299.83 L127.60,296.85 L128.40,292.76 L129.20,289.59 L130.00,289.07 L130.80,290.77 L131.60,293.63 L132.40,296.22 L133.20,297.80 L134.00,298.64 L134.80,298.75 L135.60,298.14 L136.40,297.05 L137.20,296.25 L138.00,296.70 L138.80,296.65 L139.60,295.07 L140.40,294.76 L141.20,297.01 L142.00,300.08 L142.80,302.58 L143.60,303.48 L144.40,303.03 L145.20,302.98 L146.00,302.96 L146.80,301.41 L147.60,299.80 L148.40,300.32 L149.20,301.71 L150.00,301.86 L150.80,300.71 L151.60,298.78 L152.40,296.31 L153.20,294.54 L154.00,295.35 L154.80,297.56 L155.60,297.96 L156.40,296.40 L157.20,295.51 L158.00,297.43 L158.80,301.38 L159.60,303.16 L160.40,300.91 L161.20,299.29 L162.00,300.09 L162.80,299.19 L163.60,297.00 L164.40,297.14 L165.20,298.04 L166.00,297.60 L166.80,296.54 L167.60,294.88 L168.40,293.28 L169.20,292.89 L170.00,293.89 L170.80,296.70 L171.60,299.33 L172.40,299.03 L173.20,298.16 L174.00,299.31 L174.80,300.96 L175.60,301.27 L176.40,300.15 L177.20,298.94 L178.00,298.15 L178.80,297.56 L179.60,297.72 L180.40,298.92 L181.20,299.00 L182.00,296.62 L182.80,294.68 L183.60,295.63 L184.40,298.03 L185.20,299.04 L186.00,297.47 L186.80,295.09 L187.60,294.26 L188.40,294.30 L189.20,293.52 L190.00,291.80 L190.80,290.88 L191.60,291.79 L192.40,292.53 L193.20,293.24 L194.00,296.00 L194.80,298.79 L195.60,298.89 L196.40,297.00 L197.20,294.23 L198.00,291.91 L198.80,292.28 L199.60,295.86 L200.40,299.60 L201.20,300.30 L202.00,299.08 L202.80,297.97 L203.60,296.51 L204.40,294.84 L205.20,293.25 L206.00,291.67 L206.80,291.56 L207.60,292.45 L208.40,292.31 L209.20,291.65 L210.00,291.52 L210.80,292.03 L211.60,291.65 L212.40,289.60 L213.20,288.47 L214.00,290.02 L214.80,292.06 L215.60,293.52 L216.40,295.33 L217.20,296.32 L218.00,295.30 L218.80,293.85 L219.60,294.33 L220.40,297.98 L221.20,303.24 L222.00,306.37 L222.80,305.55 L223.60,302.74 L224.40,299.74 L225.20,297.11 L226.00,295.29 L226.80,294.15" stroke="#16eaf2" stroke-width="1.3" fill="none" stroke-linejoin="round"/>
<path d="M38.00,311.77 L38.80,310.14 L39.60,306.49 L40.40,302.31 L41.20,300.18 L42.00,301.16 L42.80,303.75 L43.60,306.36 L44.40,306.75 L45.20,305.21 L46.00,306.15 L46.80,309.51 L47.60,310.57 L48.40,307.22 L49.20,302.45 L50.00,301.04 L50.80,303.53 L51.60,306.99 L52.40,308.97 L53.20,308.45 L54.00,306.69 L54.80,305.00 L55.60,303.38 L56.40,301.89 L57.20,300.87 L58.00,300.53 L58.80,300.08 L59.60,298.35 L60.40,296.28 L61.20,296.78 L62.00,299.49 L62.80,300.61 L63.60,299.73 L64.40,299.81 L65.20,302.03 L66.00,304.29 L66.80,304.96 L67.60,304.80 L68.40,304.04 L69.20,303.15 L70.00,303.08 L70.80,304.47 L71.60,306.37 L72.40,306.35 L73.20,305.22 L74.00,306.82 L74.80,310.57 L75.60,311.35 L76.40,308.36 L77.20,305.67 L78.00,305.43 L78.80,306.15 L79.60,305.49 L80.40,303.44 L81.20,302.81 L82.00,305.52 L82.80,309.88 L83.60,311.89 L84.40,310.97 L85.20,309.85 L86.00,308.34 L86.80,305.72 L87.60,304.71 L88.40,306.23 L89.20,307.68 L90.00,308.15 L90.80,307.30 L91.60,304.10 L92.40,301.44 L93.20,302.88 L94.00,306.68 L94.80,308.66 L95.60,307.34 L96.40,305.21 L97.20,303.68 L98.00,301.64 L98.80,300.07 L99.60,301.44 L100.40,305.74 L101.20,309.73 L102.00,308.66 L102.80,302.45 L103.60,296.83 L104.40,295.05 L105.20,295.91 L106.00,298.17 L106.80,300.36 L107.60,299.50 L108.40,295.15 L109.20,292.20 L110.00,294.77 L110.80,299.83 L111.60,300.46 L112.40,296.63 L113.20,295.47 L114.00,299.69 L114.80,304.72 L115.60,306.51 L116.40,305.69 L117.20,304.31 L118.00,303.40 L118.80,303.68 L119.60,303.60 L120.40,300.45 L121.20,295.81 L122.00,293.22 L122.80,294.01 L123.60,297.17 L124.40,299.91 L125.20,302.13 L126.00,305.41 L126.80,306.47 L127.60,302.22 L128.40,296.22 L129.20,292.76 L130.00,291.36 L130.80,290.57 L131.60,291.36 L132.40,294.08 L133.20,296.93 L134.00,298.85 L134.80,301.37 L135.60,304.92 L136.40,306.40 L137.20,304.93 L138.00,303.64 L138.80,304.20 L139.60,305.49 L140.40,305.82 L141.20,303.49 L142.00,300.53 L142.80,301.31 L143.60,304.32 L144.40,304.59 L145.20,302.07 L146.00,299.57 L146.80,297.54 L147.60,295.71 L148.40,294.71 L149.20,294.85 L150.00,295.89 L150.80,297.05 L151.60,298.26 L152.40,300.26 L153.20,302.68 L154.00,305.02 L154.80,306.86 L155.60,307.34 L156.40,306.14 L157.20,303.97 L158.00,301.67 L158.80,299.58 L159.60,298.40 L160.40,299.23 L161.20,300.94 L162.00,301.36 L162.80,300.72 L163.60,300.75 L164.40,301.57 L165.20,301.91 L166.00,302.18 L166.80,302.65 L167.60,301.63 L168.40,297.93 L169.20,293.53 L170.00,291.72 L170.80,293.42 L171.60,297.24 L172.40,300.58 L173.20,299.80 L174.00,296.18 L174.80,296.28 L175.60,301.16 L176.40,305.53 L177.20,306.64 L178.00,306.54 L178.80,307.39 L179.60,308.91 L180.40,308.62 L181.20,304.83 L182.00,300.26 L182.80,298.45 L183.60,298.47 L184.40,298.18 L185.20,297.78 L186.00,298.04 L186.80,299.13 L187.60,299.72 L188.40,298.34 L189.20,296.93 L190.00,298.87 L190.80,304.03 L191.60,308.58 L192.40,309.59 L193.20,307.02 L194.00,301.73 L194.80,296.83 L195.60,294.66 L196.40,293.55 L197.20,293.48 L198.00,295.84 L198.80,297.91 L199.60,297.79 L200.40,298.70 L201.20,300.51 L202.00,299.22 L202.80,295.96 L203.60,294.82 L204.40,296.05 L205.20,297.84 L206.00,298.67 L206.80,298.45 L207.60,298.28 L208.40,297.16 L209.20,294.83 L210.00,293.81 L210.80,293.46 L211.60,291.82 L212.40,290.43 L213.20,291.08 L214.00,293.57 L214.80,296.89 L215.60,299.94 L216.40,300.77 L217.20,299.03 L218.00,297.04 L218.80,295.95 L219.60,295.18 L220.40,295.65 L221.20,297.68 L222.00,298.71 L222.80,297.74 L223.60,297.88 L224.40,301.00 L225.20,302.75 L226.00,299.39 L226.80,294.71" stroke="#16eaf2" stroke-width="1.3" fill="none" stroke-linejoin="round"/>
<path d="M38.00,304.36 L38.80,307.24 L39.60,306.27 L40.40,301.53 L41.20,298.78 L42.00,301.28 L42.80,305.15 L43.60,307.67 L44.40,308.95 L45.20,306.94 L46.00,301.48 L46.80,297.06 L47.60,297.08 L48.40,300.31 L49.20,302.23 L50.00,299.95 L50.80,295.09 L51.60,290.78 L52.40,287.94 L53.20,286.63 L54.00,287.34 L54.80,290.60 L55.60,295.82 L56.40,300.30 L57.20,301.59 L58.00,300.18 L58.80,298.95 L59.60,299.48 L60.40,300.24 L61.20,299.78 L62.00,298.61 L62.80,297.46 L63.60,296.71 L64.40,296.52 L65.20,296.82 L66.00,296.90 L66.80,296.33 L67.60,296.68 L68.40,299.18 L69.20,302.12 L70.00,301.72 L70.80,297.96 L71.60,294.85 L72.40,295.13 L73.20,298.99 L74.00,303.80 L74.80,305.37 L75.60,303.34 L76.40,301.30 L77.20,300.86 L78.00,301.95 L78.80,303.41 L79.60,303.38 L80.40,301.77 L81.20,300.17 L82.00,299.95 L82.80,300.29 L83.60,298.61 L84.40,294.65 L85.20,291.29 L86.00,290.16 L86.80,291.96 L87.60,297.44 L88.40,304.67 L89.20,308.33 L90.00,305.35 L90.80,299.41 L91.60,295.97 L92.40,296.81 L93.20,300.66 L94.00,304.18 L94.80,304.50 L95.60,300.99 L96.40,294.51 L97.20,288.79 L98.00,288.71 L98.80,294.21 L99.60,300.12 L100.40,302.19 L101.20,301.13 L102.00,300.48 L102.80,301.23 L103.60,301.08 L104.40,299.24 L105.20,298.59 L106.00,300.09 L106.80,300.37 L107.60,297.63 L108.40,293.63 L109.20,289.89 L110.00,286.98 L110.80,287.06 L111.60,290.93 L112.40,296.37 L113.20,301.28 L114.00,304.14 L114.80,304.63 L115.60,303.30 L116.40,300.47 L117.20,297.21 L118.00,294.97 L118.80,294.55 L119.60,295.10 L120.40,295.13 L121.20,293.65 L122.00,291.77 L122.80,291.72 L123.60,293.35 L124.40,295.19 L125.20,295.65 L126.00,294.19 L126.80,292.41 L127.60,292.20 L128.40,293.27 L129.20,293.86 L130.00,293.72 L130.80,294.15 L131.60,295.41 L132.40,296.41 L133.20,296.91 L134.00,296.94 L134.80,296.91 L135.60,297.34 L136.40,298.32 L137.20,299.86 L138.00,301.49 L138.80,302.43 L139.60,302.48 L140.40,301.35 L141.20,299.36 L142.00,297.12 L142.80,294.12 L143.60,292.10 L144.40,293.42 L145.20,296.34 L146.00,297.49 L146.80,295.85 L147.60,293.13 L148.40,290.43 L149.20,288.99 L150.00,290.48 L150.80,294.57 L151.60,298.86 L152.40,299.21 L153.20,294.84 L154.00,291.10 L154.80,291.68 L155.60,293.90 L156.40,293.87 L157.20,291.24 L158.00,288.97 L158.80,289.51 L159.60,292.24 L160.40,293.95 L161.20,292.50 L162.00,289.95 L162.80,288.33 L163.60,287.75 L164.40,288.49 L165.20,289.98 L166.00,291.85 L166.80,294.50 L167.60,296.13 L168.40,294.39 L169.20,291.64 L170.00,291.59 L170.80,293.04 L171.60,293.67 L172.40,294.20 L173.20,295.19 L174.00,295.50 L174.80,294.45 L175.60,292.97 L176.40,292.56 L177.20,293.86 L178.00,296.48 L178.80,298.78 L179.60,298.97 L180.40,298.29 L181.20,298.11 L182.00,297.53 L182.80,296.15 L183.60,294.09 L184.40,292.03 L185.20,291.77 L186.00,293.98 L186.80,296.05 L187.60,295.86 L188.40,295.59 L189.20,297.98 L190.00,301.76 L190.80,302.99 L191.60,301.11 L192.40,299.34 L193.20,298.53 L194.00,297.75 L194.80,296.95 L195.60,296.96 L196.40,298.01 L197.20,298.92 L198.00,300.58 L198.80,303.55 L199.60,304.43 L200.40,301.07 L201.20,296.43 L202.00,294.89 L202.80,296.96 L203.60,299.36 L204.40,298.50 L205.20,295.72 L206.00,295.51 L206.80,297.79 L207.60,298.60 L208.40,296.18 L209.20,292.86 L210.00,291.06 L210.80,290.75 L211.60,291.69 L212.40,293.27 L213.20,294.30 L214.00,295.33 L214.80,298.59 L215.60,303.20 L216.40,303.73 L217.20,297.84 L218.00,289.78 L218.80,285.93 L219.60,289.15 L220.40,296.76 L221.20,302.89 L222.00,303.74 L222.80,302.12 L223.60,301.90 L224.40,302.03 L225.20,301.12 L226.00,299.24 L226.80,295.63" stroke="#16eaf2" stroke-width="1.3" fill="none" stroke-linejoin="round"/>
<path d="M226.00,288.07 L226.80,289.66 L227.60,289.44 L228.40,286.51 L229.20,282.48 L230.00,281.44 L230.80,284.38 L231.60,288.32 L232.40,290.77 L233.20,292.08 L234.00,291.74 L234.80,289.30 L235.60,287.26 L236.40,287.23 L237.20,289.00 L238.00,291.60 L238.80,292.74 L239.60,291.02 L240.40,287.37 L241.20,283.75 L242.00,281.13 L242.80,279.55 L243.60,280.45 L244.40,284.10 L245.20,286.83 L246.00,286.35 L246.80,285.14 L247.60,285.76 L248.40,288.03 L249.20,290.28 L250.00,290.35 L250.80,288.52 L251.60,287.61 L252.40,287.32 L253.20,285.34 L254.00,282.19 L254.80,280.78 L255.60,283.21 L256.40,287.50 L257.20,289.34 L258.00,288.53 L258.80,288.60 L259.60,290.09 L260.40,290.90 L261.20,290.39 L262.00,289.03 L262.80,286.19 L263.60,281.78 L264.40,276.89 L265.20,272.51 L266.00,270.65 L266.80,272.49 L267.60,277.25 L268.40,282.83 L269.20,285.63 L270.00,284.55 L270.80,282.46 L271.60,281.44 L272.40,281.51 L273.20,281.74 L274.00,280.61 L274.80,278.11 L275.60,276.67 L276.40,277.99 L277.20,280.74 L278.00,283.17 L278.80,284.52 L279.60,284.07 L280.40,281.38 L281.20,278.00 L282.00,277.38 L282.80,279.87 L283.60,282.74 L284.40,285.07 L285.20,285.77 L286.00,283.50 L286.80,280.52 L287.60,280.16 L288.40,281.30 L289.20,279.65 L290.00,274.55 L290.80,270.39 L291.60,270.01 L292.40,271.97 L293.20,273.86 L294.00,274.08 L294.80,273.30 L295.60,273.67 L296.40,274.03 L297.20,271.85 L298.00,267.65 L298.80,264.00 L299.60,262.92 L300.40,264.74 L301.20,266.98 L302.00,266.16 L302.80,262.75 L303.60,258.72 L304.40,255.36 L305.20,256.63 L306.00,262.49 L306.80,265.26 L307.60,263.02 L308.40,261.39 L309.20,261.67 L310.00,261.17 L310.80,260.02 L311.60,259.79 L312.40,260.41 L313.20,261.12 L314.00,261.24 L314.80,260.14 L315.60,258.43 L316.40,257.29 L317.20,257.34 L318.00,257.55 L318.80,257.12 L319.60,258.05 L320.40,260.52 L321.20,262.36 L322.00,262.57 L322.80,260.59 L323.60,257.40 L324.40,255.57 L325.20,255.00 L326.00,254.78 L326.80,255.52 L327.60,255.92 L328.40,254.23 L329.20,252.35 L330.00,252.17 L330.80,253.06 L331.60,253.97 L332.40,254.76 L333.20,255.77 L334.00,257.09 L334.80,258.28 L335.60,258.26 L336.40,257.38 L337.20,256.65 L338.00,255.58 L338.80,253.86 L339.60,251.05 L340.40,247.82 L341.20,247.08 L342.00,248.52 L342.80,249.10 L343.60,250.16 L344.40,253.62 L345.20,258.12 L346.00,261.62 L346.80,261.86 L347.60,258.72 L348.40,254.50 L349.20,250.43 L350.00,247.54 L350.80,246.96 L351.60,247.16 L352.40,246.47 L353.20,245.58 L354.00,246.45 L354.80,248.98 L355.60,249.59 L356.40,248.47 L357.20,249.44 L358.00,250.66 L358.80,248.04 L359.60,244.19 L360.40,244.59 L361.20,248.33 L362.00,249.25 L362.80,245.82 L363.60,242.30 L364.40,241.20 L365.20,242.05 L366.00,243.30 L366.80,244.33 L367.60,246.28 L368.40,248.04 L369.20,247.46 L370.00,246.31 L370.80,245.90 L371.60,244.99 L372.40,243.87 L373.20,243.11 L374.00,243.27 L374.80,245.17 L375.60,246.69 L376.40,245.18 L377.20,241.24 L378.00,237.03 L378.80,235.23 L379.60,237.39 L380.40,241.12 L381.20,242.62 L382.00,240.72 L382.80,237.66 L383.60,236.51 L384.40,238.31 L385.20,241.23 L386.00,242.27 L386.80,240.28 L387.60,237.35 L388.40,235.24 L389.20,232.91 L390.00,229.00 L390.80,225.09 L391.60,224.81 L392.40,228.87 L393.20,234.07 L394.00,237.53 L394.80,239.11 L395.60,239.15 L396.40,238.61 L397.20,238.56 L398.00,237.95 L398.80,236.44 L399.60,233.81 L400.40,229.97 L401.20,228.16 L402.00,229.51 L402.80,230.09 L403.60,227.53 L404.40,225.52 L405.20,228.71 L406.00,236.01 L406.80,241.53 L407.60,240.37 L408.40,234.23 L409.20,228.80 L410.00,226.52 L410.80,226.49 L411.60,227.71 L412.40,228.57 L413.20,228.14 L414.00,227.27 L414.80,227.14" stroke="#f7c600" stroke-width="1.15" fill="none" stroke-linejoin="round"/>
<path d="M226.00,286.74 L226.80,289.90 L227.60,294.14 L228.40,296.17 L229.20,295.70 L230.00,294.12 L230.80,292.27 L231.60,289.93 L232.40,286.73 L233.20,284.69 L234.00,286.00 L234.80,289.28 L235.60,291.20 L236.40,289.88 L237.20,287.30 L238.00,286.84 L238.80,287.68 L239.60,287.86 L240.40,287.61 L241.20,287.31 L242.00,287.81 L242.80,288.99 L243.60,289.74 L244.40,289.65 L245.20,287.71 L246.00,284.77 L246.80,283.11 L247.60,283.24 L248.40,284.17 L249.20,285.29 L250.00,287.86 L250.80,292.58 L251.60,295.38 L252.40,292.09 L253.20,284.56 L254.00,279.62 L254.80,280.82 L255.60,284.66 L256.40,286.82 L257.20,286.89 L258.00,286.33 L258.80,285.92 L259.60,286.59 L260.40,287.94 L261.20,288.52 L262.00,289.07 L262.80,289.30 L263.60,288.96 L264.40,290.12 L265.20,291.88 L266.00,292.13 L266.80,291.46 L267.60,290.49 L268.40,289.33 L269.20,287.89 L270.00,286.49 L270.80,286.43 L271.60,287.14 L272.40,286.16 L273.20,283.19 L274.00,281.26 L274.80,282.97 L275.60,286.02 L276.40,286.11 L277.20,282.91 L278.00,279.76 L278.80,279.95 L279.60,283.23 L280.40,286.11 L281.20,286.67 L282.00,285.77 L282.80,284.16 L283.60,281.78 L284.40,278.90 L285.20,276.85 L286.00,276.79 L286.80,277.51 L287.60,275.99 L288.40,272.02 L289.20,268.36 L290.00,265.87 L290.80,264.58 L291.60,265.83 L292.40,270.33 L293.20,275.59 L294.00,277.37 L294.80,275.25 L295.60,272.86 L296.40,271.84 L297.20,271.82 L298.00,273.06 L298.80,274.42 L299.60,273.98 L300.40,272.59 L301.20,272.42 L302.00,272.45 L302.80,270.44 L303.60,267.28 L304.40,265.21 L305.20,265.38 L306.00,267.07 L306.80,268.64 L307.60,268.46 L308.40,265.16 L309.20,260.92 L310.00,260.85 L310.80,265.41 L311.60,270.02 L312.40,271.58 L313.20,269.93 L314.00,267.77 L314.80,266.92 L315.60,266.13 L316.40,265.14 L317.20,265.77 L318.00,268.21 L318.80,269.99 L319.60,270.12 L320.40,268.82 L321.20,265.16 L322.00,259.92 L322.80,256.81 L323.60,260.17 L324.40,267.76 L325.20,271.14 L326.00,267.39 L326.80,262.34 L327.60,261.31 L328.40,262.53 L329.20,262.38 L330.00,260.28 L330.80,257.53 L331.60,255.59 L332.40,255.25 L333.20,256.40 L334.00,257.24 L334.80,256.78 L335.60,256.48 L336.40,257.70 L337.20,260.12 L338.00,261.78 L338.80,260.67 L339.60,257.15 L340.40,254.30 L341.20,254.40 L342.00,255.12 L342.80,254.01 L343.60,253.16 L344.40,254.65 L345.20,256.46 L346.00,256.37 L346.80,256.79 L347.60,259.63 L348.40,262.40 L349.20,262.94 L350.00,261.39 L350.80,258.32 L351.60,254.77 L352.40,252.06 L353.20,251.03 L354.00,251.84 L354.80,253.49 L355.60,254.71 L356.40,255.24 L357.20,254.20 L358.00,250.65 L358.80,246.23 L359.60,243.16 L360.40,241.73 L361.20,242.03 L362.00,243.11 L362.80,243.16 L363.60,243.61 L364.40,246.79 L365.20,251.24 L366.00,254.10 L366.80,254.61 L367.60,253.58 L368.40,253.14 L369.20,253.97 L370.00,253.66 L370.80,250.70 L371.60,246.96 L372.40,244.87 L373.20,245.47 L374.00,249.04 L374.80,254.71 L375.60,259.81 L376.40,261.79 L377.20,261.20 L378.00,261.07 L378.80,263.66 L379.60,267.73 L380.40,269.52 L381.20,267.21 L382.00,262.45 L382.80,258.68 L383.60,256.57 L384.40,254.23 L385.20,251.69 L386.00,250.92 L386.80,252.26 L387.60,253.15 L388.40,251.39 L389.20,247.78 L390.00,246.27 L390.80,248.03 L391.60,248.26 L392.40,245.07 L393.20,242.55 L394.00,242.41 L394.80,243.35 L395.60,246.20 L396.40,250.00 L397.20,249.52 L398.00,244.82 L398.80,243.20 L399.60,247.87 L400.40,253.28 L401.20,253.74 L402.00,249.54 L402.80,244.33 L403.60,241.69 L404.40,242.78 L405.20,244.15 L406.00,240.42 L406.80,233.97 L407.60,232.45 L408.40,236.14 L409.20,239.78 L410.00,242.43 L410.80,245.25 L411.60,245.27 L412.40,239.91 L413.20,233.14 L414.00,229.51 L414.80,228.98" stroke="#f7c600" stroke-width="1.15" fill="none" stroke-linejoin="round"/>
<path d="M226.00,294.75 L226.80,291.70 L227.60,291.17 L228.40,293.79 L229.20,295.05 L230.00,293.25 L230.80,290.84 L231.60,290.72 L232.40,293.91 L233.20,298.09 L234.00,300.07 L234.80,299.30 L235.60,296.53 L236.40,292.58 L237.20,289.91 L238.00,289.99 L238.80,291.60 L239.60,293.10 L240.40,293.50 L241.20,291.84 L242.00,290.15 L242.80,290.16 L243.60,287.90 L244.40,282.03 L245.20,276.64 L246.00,274.39 L246.80,275.63 L247.60,280.33 L248.40,286.20 L249.20,289.86 L250.00,291.17 L250.80,292.80 L251.60,294.52 L252.40,293.23 L253.20,288.24 L254.00,281.69 L254.80,276.21 L255.60,274.28 L256.40,275.24 L257.20,275.88 L258.00,276.05 L258.80,277.62 L259.60,279.31 L260.40,279.15 L261.20,278.97 L262.00,281.82 L262.80,286.72 L263.60,288.90 L264.40,287.39 L265.20,286.10 L266.00,285.38 L266.80,281.76 L267.60,276.28 L268.40,274.37 L269.20,278.26 L270.00,284.00 L270.80,287.54 L271.60,287.87 L272.40,285.08 L273.20,282.16 L274.00,280.56 L274.80,278.11 L275.60,273.97 L276.40,269.70 L277.20,267.88 L278.00,269.09 L278.80,270.20 L279.60,269.39 L280.40,269.50 L281.20,272.05 L282.00,273.72 L282.80,272.48 L283.60,270.62 L284.40,271.93 L285.20,276.08 L286.00,279.67 L286.80,282.34 L287.60,284.01 L288.40,282.81 L289.20,279.52 L290.00,277.39 L290.80,277.70 L291.60,278.33 L292.40,277.36 L293.20,276.08 L294.00,276.43 L294.80,277.83 L295.60,279.07 L296.40,280.10 L297.20,280.59 L298.00,279.68 L298.80,277.12 L299.60,273.06 L300.40,269.06 L301.20,267.87 L302.00,270.34 L302.80,273.85 L303.60,274.57 L304.40,271.88 L305.20,269.42 L306.00,270.09 L306.80,271.79 L307.60,271.29 L308.40,269.27 L309.20,267.20 L310.00,265.65 L310.80,265.39 L311.60,265.39 L312.40,264.96 L313.20,266.21 L314.00,269.05 L314.80,269.17 L315.60,266.67 L316.40,266.86 L317.20,269.80 L318.00,269.71 L318.80,265.07 L319.60,261.80 L320.40,263.63 L321.20,266.43 L322.00,266.21 L322.80,263.58 L323.60,258.13 L324.40,251.22 L325.20,249.48 L326.00,253.24 L326.80,255.41 L327.60,254.65 L328.40,254.49 L329.20,254.46 L330.00,252.68 L330.80,249.92 L331.60,248.21 L332.40,248.69 L333.20,251.35 L334.00,255.07 L334.80,256.81 L335.60,254.41 L336.40,251.75 L337.20,253.33 L338.00,256.44 L338.80,257.18 L339.60,255.77 L340.40,253.40 L341.20,250.75 L342.00,248.60 L342.80,247.37 L343.60,246.50 L344.40,244.44 L345.20,240.93 L346.00,240.12 L346.80,243.60 L347.60,247.36 L348.40,249.07 L349.20,248.86 L350.00,247.29 L350.80,246.52 L351.60,248.25 L352.40,251.52 L353.20,254.18 L354.00,253.94 L354.80,251.00 L355.60,248.50 L356.40,246.60 L357.20,243.81 L358.00,242.31 L358.80,244.36 L359.60,247.51 L360.40,248.48 L361.20,247.42 L362.00,245.85 L362.80,244.29 L363.60,242.79 L364.40,242.80 L365.20,245.11 L366.00,247.58 L366.80,247.68 L367.60,247.21 L368.40,249.95 L369.20,253.37 L370.00,252.08 L370.80,246.77 L371.60,242.70 L372.40,242.51 L373.20,244.58 L374.00,246.29 L374.80,246.13 L375.60,243.13 L376.40,238.09 L377.20,233.94 L378.00,232.84 L378.80,235.48 L379.60,241.64 L380.40,248.95 L381.20,253.08 L382.00,252.14 L382.80,249.27 L383.60,246.89 L384.40,245.33 L385.20,245.85 L386.00,247.40 L386.80,246.87 L387.60,243.29 L388.40,238.53 L389.20,235.63 L390.00,235.96 L390.80,238.22 L391.60,240.22 L392.40,240.23 L393.20,238.33 L394.00,236.42 L394.80,234.75 L395.60,231.39 L396.40,227.98 L397.20,228.60 L398.00,233.45 L398.80,237.91 L399.60,237.78 L400.40,234.71 L401.20,232.06 L402.00,229.04 L402.80,224.85 L403.60,221.16 L404.40,218.79 L405.20,217.45 L406.00,217.54 L406.80,219.68 L407.60,222.50 L408.40,225.28 L409.20,228.81 L410.00,232.01 L410.80,233.47 L411.60,234.61 L412.40,236.08 L413.20,235.83 L414.00,232.22 L414.80,226.65" stroke="#f7c600" stroke-width="1.15" fill="none" stroke-linejoin="round"/>
<path d="M226.00,304.18 L226.80,307.02 L227.60,307.31 L228.40,305.29 L229.20,302.13 L230.00,298.28 L230.80,295.27 L231.60,294.95 L232.40,297.05 L233.20,299.94 L234.00,302.45 L234.80,303.16 L235.60,301.96 L236.40,300.73 L237.20,299.53 L238.00,297.63 L238.80,296.80 L239.60,298.38 L240.40,300.80 L241.20,301.77 L242.00,300.66 L242.80,299.45 L243.60,300.00 L244.40,300.37 L245.20,298.82 L246.00,297.10 L246.80,297.38 L247.60,299.81 L248.40,301.13 L249.20,298.81 L250.00,296.08 L250.80,296.25 L251.60,297.19 L252.40,295.27 L253.20,291.08 L254.00,288.40 L254.80,288.18 L255.60,288.73 L256.40,288.02 L257.20,285.35 L258.00,283.42 L258.80,284.85 L259.60,289.63 L260.40,295.32 L261.20,298.61 L262.00,297.74 L262.80,293.09 L263.60,287.83 L264.40,284.83 L265.20,283.94 L266.00,284.85 L266.80,286.88 L267.60,288.94 L268.40,291.05 L269.20,293.93 L270.00,297.33 L270.80,299.29 L271.60,299.20 L272.40,297.89 L273.20,296.23 L274.00,294.79 L274.80,292.67 L275.60,289.53 L276.40,287.38 L277.20,286.57 L278.00,286.16 L278.80,286.11 L279.60,287.25 L280.40,289.50 L281.20,290.66 L282.00,289.23 L282.80,285.19 L283.60,279.90 L284.40,277.42 L285.20,280.37 L286.00,286.61 L286.80,290.96 L287.60,291.41 L288.40,291.17 L289.20,291.83 L290.00,291.09 L290.80,287.75 L291.60,283.11 L292.40,278.30 L293.20,274.53 L294.00,274.07 L294.80,277.55 L295.60,281.60 L296.40,282.27 L297.20,280.20 L298.00,278.04 L298.80,277.06 L299.60,277.66 L300.40,279.27 L301.20,279.97 L302.00,278.10 L302.80,275.98 L303.60,276.60 L304.40,277.31 L305.20,276.00 L306.00,275.94 L306.80,278.57 L307.60,280.93 L308.40,280.88 L309.20,280.18 L310.00,281.11 L310.80,283.06 L311.60,284.35 L312.40,283.17 L313.20,278.26 L314.00,272.47 L314.80,270.08 L315.60,271.33 L316.40,274.16 L317.20,277.42 L318.00,280.67 L318.80,282.82 L319.60,282.20 L320.40,278.35 L321.20,273.62 L322.00,271.68 L322.80,272.64 L323.60,273.66 L324.40,273.50 L325.20,272.93 L326.00,273.75 L326.80,274.78 L327.60,271.98 L328.40,266.83 L329.20,265.06 L330.00,266.94 L330.80,268.00 L331.60,266.54 L332.40,265.65 L333.20,267.45 L334.00,270.23 L334.80,272.27 L335.60,273.27 L336.40,273.55 L337.20,272.73 L338.00,270.56 L338.80,268.33 L339.60,266.37 L340.40,263.10 L341.20,259.66 L342.00,259.06 L342.80,261.19 L343.60,263.25 L344.40,263.14 L345.20,261.93 L346.00,261.23 L346.80,260.27 L347.60,259.27 L348.40,258.48 L349.20,257.36 L350.00,257.94 L350.80,260.79 L351.60,262.73 L352.40,263.25 L353.20,264.12 L354.00,264.63 L354.80,264.62 L355.60,263.91 L356.40,260.34 L357.20,254.73 L358.00,251.44 L358.80,252.11 L359.60,253.48 L360.40,253.73 L361.20,255.50 L362.00,260.19 L362.80,262.80 L363.60,258.82 L364.40,252.53 L365.20,249.31 L366.00,246.50 L366.80,243.68 L367.60,245.66 L368.40,251.18 L369.20,254.34 L370.00,253.80 L370.80,252.84 L371.60,252.91 L372.40,253.35 L373.20,254.28 L374.00,255.15 L374.80,254.10 L375.60,251.99 L376.40,250.87 L377.20,250.69 L378.00,251.94 L378.80,254.08 L379.60,255.35 L380.40,255.76 L381.20,255.15 L382.00,252.48 L382.80,249.18 L383.60,248.75 L384.40,251.35 L385.20,253.37 L386.00,253.11 L386.80,252.08 L387.60,250.63 L388.40,248.07 L389.20,246.63 L390.00,248.37 L390.80,250.45 L391.60,249.45 L392.40,246.47 L393.20,245.15 L394.00,245.98 L394.80,247.47 L395.60,249.80 L396.40,252.95 L397.20,255.76 L398.00,257.46 L398.80,258.41 L399.60,259.70 L400.40,260.62 L401.20,258.85 L402.00,254.49 L402.80,250.89 L403.60,248.63 L404.40,246.12 L405.20,244.48 L406.00,244.09 L406.80,242.93 L407.60,241.42 L408.40,241.47 L409.20,242.44 L410.00,243.29 L410.80,244.26 L411.60,245.70 L412.40,246.78 L413.20,246.12 L414.00,244.91 L414.80,245.56" stroke="#f7c600" stroke-width="1.15" fill="none" stroke-linejoin="round"/>
<path d="M226.00,305.98 L226.80,303.51 L227.60,302.15 L228.40,304.71 L229.20,309.44 L230.00,312.89 L230.80,312.32 L231.60,307.19 L232.40,301.45 L233.20,299.63 L234.00,300.92 L234.80,301.73 L235.60,301.58 L236.40,301.83 L237.20,301.29 L238.00,299.63 L238.80,298.26 L239.60,297.41 L240.40,297.10 L241.20,296.96 L242.00,296.10 L242.80,294.45 L243.60,292.32 L244.40,290.91 L245.20,292.63 L246.00,297.25 L246.80,300.76 L247.60,299.73 L248.40,295.78 L249.20,293.28 L250.00,293.83 L250.80,295.26 L251.60,293.74 L252.40,289.03 L253.20,285.80 L254.00,286.77 L254.80,290.63 L255.60,294.45 L256.40,296.56 L257.20,297.19 L258.00,297.58 L258.80,297.39 L259.60,294.40 L260.40,287.69 L261.20,281.47 L262.00,280.83 L262.80,285.33 L263.60,290.92 L264.40,293.88 L265.20,294.02 L266.00,293.31 L266.80,293.03 L267.60,294.14 L268.40,295.13 L269.20,292.67 L270.00,287.49 L270.80,283.79 L271.60,283.64 L272.40,285.07 L273.20,285.46 L274.00,284.54 L274.80,283.03 L275.60,281.35 L276.40,279.67 L277.20,278.53 L278.00,279.68 L278.80,283.58 L279.60,287.64 L280.40,288.53 L281.20,286.25 L282.00,284.54 L282.80,286.29 L283.60,289.19 L284.40,288.68 L285.20,285.31 L286.00,283.84 L286.80,284.96 L287.60,285.93 L288.40,285.33 L289.20,283.69 L290.00,282.52 L290.80,282.32 L291.60,282.25 L292.40,283.68 L293.20,287.02 L294.00,290.03 L294.80,291.31 L295.60,291.11 L296.40,289.84 L297.20,288.52 L298.00,287.75 L298.80,285.02 L299.60,279.45 L300.40,275.84 L301.20,278.14 L302.00,283.08 L302.80,284.80 L303.60,283.21 L304.40,282.07 L305.20,281.39 L306.00,278.47 L306.80,274.47 L307.60,273.51 L308.40,275.68 L309.20,277.71 L310.00,277.80 L310.80,276.33 L311.60,275.23 L312.40,277.78 L313.20,283.19 L314.00,285.08 L314.80,282.27 L315.60,280.14 L316.40,282.24 L317.20,285.28 L318.00,283.58 L318.80,277.24 L319.60,271.89 L320.40,270.63 L321.20,271.16 L322.00,270.41 L322.80,268.69 L323.60,268.37 L324.40,269.33 L325.20,269.70 L326.00,268.04 L326.80,264.70 L327.60,263.19 L328.40,265.14 L329.20,267.29 L330.00,267.44 L330.80,267.44 L331.60,268.07 L332.40,267.53 L333.20,266.15 L334.00,265.71 L334.80,266.26 L335.60,266.24 L336.40,264.34 L337.20,261.71 L338.00,260.73 L338.80,261.84 L339.60,263.11 L340.40,262.66 L341.20,261.53 L342.00,262.41 L342.80,265.36 L343.60,268.32 L344.40,270.10 L345.20,270.12 L346.00,267.86 L346.80,264.16 L347.60,260.51 L348.40,258.98 L349.20,260.35 L350.00,262.27 L350.80,262.31 L351.60,260.32 L352.40,257.72 L353.20,256.60 L354.00,257.73 L354.80,258.42 L355.60,255.92 L356.40,253.97 L357.20,257.66 L358.00,263.45 L358.80,265.63 L359.60,264.00 L360.40,260.95 L361.20,258.28 L362.00,256.69 L362.80,254.95 L363.60,252.63 L364.40,251.37 L365.20,251.04 L366.00,250.45 L366.80,250.00 L367.60,250.58 L368.40,252.03 L369.20,252.33 L370.00,250.49 L370.80,247.79 L371.60,245.49 L372.40,245.40 L373.20,249.07 L374.00,254.11 L374.80,256.60 L375.60,256.80 L376.40,258.46 L377.20,261.58 L378.00,262.50 L378.80,261.36 L379.60,260.98 L380.40,259.98 L381.20,256.19 L382.00,252.28 L382.80,252.98 L383.60,258.09 L384.40,262.40 L385.20,263.65 L386.00,263.15 L386.80,260.01 L387.60,255.56 L388.40,255.11 L389.20,258.36 L390.00,259.98 L390.80,258.53 L391.60,256.57 L392.40,255.95 L393.20,256.40 L394.00,254.96 L394.80,250.28 L395.60,247.70 L396.40,250.32 L397.20,252.92 L398.00,251.51 L398.80,248.23 L399.60,245.74 L400.40,243.96 L401.20,241.91 L402.00,240.46 L402.80,242.00 L403.60,247.04 L404.40,251.92 L405.20,253.83 L406.00,254.26 L406.80,252.91 L407.60,248.63 L408.40,244.75 L409.20,243.56 L410.00,244.25 L410.80,245.89 L411.60,246.09 L412.40,244.65 L413.20,244.51 L414.00,244.55 L414.80,242.45" stroke="#f7c600" stroke-width="1.15" fill="none" stroke-linejoin="round"/>
<path d="M226.00,288.39 L226.80,290.57 L227.60,291.73 L228.40,289.88 L229.20,289.04 L230.00,291.94 L230.80,296.44 L231.60,298.26 L232.40,296.62 L233.20,294.02 L234.00,292.00 L234.80,289.98 L235.60,287.38 L236.40,285.36 L237.20,285.43 L238.00,287.12 L238.80,288.51 L239.60,288.50 L240.40,288.80 L241.20,291.82 L242.00,295.25 L242.80,294.80 L243.60,290.35 L244.40,286.76 L245.20,287.65 L246.00,290.22 L246.80,290.20 L247.60,288.34 L248.40,287.12 L249.20,286.26 L250.00,284.63 L250.80,284.07 L251.60,287.39 L252.40,292.45 L253.20,294.19 L254.00,292.26 L254.80,290.59 L255.60,289.62 L256.40,287.12 L257.20,285.22 L258.00,287.16 L258.80,290.91 L259.60,292.13 L260.40,290.43 L261.20,288.95 L262.00,289.23 L262.80,289.88 L263.60,288.65 L264.40,285.34 L265.20,281.67 L266.00,278.29 L266.80,274.84 L267.60,274.15 L268.40,277.98 L269.20,281.62 L270.00,282.22 L270.80,281.83 L271.60,281.37 L272.40,280.03 L273.20,278.76 L274.00,278.97 L274.80,278.95 L275.60,276.85 L276.40,274.34 L277.20,273.95 L278.00,276.60 L278.80,281.49 L279.60,285.19 L280.40,284.44 L281.20,280.63 L282.00,277.68 L282.80,277.07 L283.60,276.81 L284.40,274.44 L285.20,270.07 L286.00,266.84 L286.80,267.19 L287.60,270.05 L288.40,272.80 L289.20,272.80 L290.00,270.11 L290.80,268.79 L291.60,269.76 L292.40,270.80 L293.20,271.81 L294.00,272.77 L294.80,273.25 L295.60,274.67 L296.40,276.99 L297.20,276.85 L298.00,274.15 L298.80,272.69 L299.60,272.18 L300.40,270.00 L301.20,267.75 L302.00,267.79 L302.80,268.56 L303.60,268.60 L304.40,268.88 L305.20,269.31 L306.00,270.02 L306.80,272.06 L307.60,274.35 L308.40,274.47 L309.20,271.86 L310.00,269.66 L310.80,270.58 L311.60,272.08 L312.40,271.32 L313.20,269.67 L314.00,268.70 L314.80,267.41 L315.60,265.99 L316.40,264.78 L317.20,262.77 L318.00,261.40 L318.80,261.85 L319.60,262.75 L320.40,263.46 L321.20,264.34 L322.00,265.58 L322.80,266.58 L323.60,267.01 L324.40,266.89 L325.20,265.62 L326.00,264.39 L326.80,264.87 L327.60,266.12 L328.40,267.61 L329.20,269.37 L330.00,268.88 L330.80,264.59 L331.60,260.05 L332.40,258.63 L333.20,258.95 L334.00,259.47 L334.80,260.66 L335.60,262.73 L336.40,264.30 L337.20,263.96 L338.00,263.32 L338.80,264.18 L339.60,265.43 L340.40,265.11 L341.20,262.44 L342.00,257.81 L342.80,252.18 L343.60,248.39 L344.40,250.06 L345.20,255.91 L346.00,261.76 L346.80,265.03 L347.60,263.97 L348.40,261.43 L349.20,262.14 L350.00,263.18 L350.80,260.48 L351.60,256.71 L352.40,254.39 L353.20,253.36 L354.00,253.54 L354.80,254.43 L355.60,254.51 L356.40,253.55 L357.20,252.81 L358.00,252.88 L358.80,253.17 L359.60,252.31 L360.40,250.38 L361.20,248.67 L362.00,247.76 L362.80,248.01 L363.60,248.34 L364.40,248.48 L365.20,249.92 L366.00,251.58 L366.80,252.46 L367.60,252.78 L368.40,251.21 L369.20,248.87 L370.00,248.23 L370.80,248.26 L371.60,248.13 L372.40,248.14 L373.20,246.16 L374.00,241.79 L374.80,238.84 L375.60,238.40 L376.40,237.25 L377.20,234.98 L378.00,233.64 L378.80,234.78 L379.60,238.06 L380.40,239.44 L381.20,237.96 L382.00,237.35 L382.80,237.85 L383.60,238.47 L384.40,239.97 L385.20,241.40 L386.00,240.38 L386.80,237.64 L387.60,236.88 L388.40,239.17 L389.20,241.30 L390.00,241.46 L390.80,240.89 L391.60,239.81 L392.40,239.91 L393.20,243.58 L394.00,249.18 L394.80,252.83 L395.60,251.24 L396.40,245.17 L397.20,238.85 L398.00,235.28 L398.80,235.57 L399.60,237.87 L400.40,238.91 L401.20,239.13 L402.00,240.75 L402.80,243.06 L403.60,243.54 L404.40,242.01 L405.20,241.13 L406.00,241.39 L406.80,239.21 L407.60,234.48 L408.40,233.09 L409.20,236.76 L410.00,241.85 L410.80,246.01 L411.60,247.66 L412.40,245.37 L413.20,240.95 L414.00,238.27 L414.80,238.18" stroke="#f7c600" stroke-width="1.15" fill="none" stroke-linejoin="round"/>
<path d="M226.00,295.36 L226.80,300.18 L227.60,300.79 L228.40,299.19 L229.20,299.09 L230.00,300.28 L230.80,299.87 L231.60,297.53 L232.40,295.22 L233.20,292.65 L234.00,290.34 L234.80,290.97 L235.60,293.61 L236.40,294.53 L237.20,294.05 L238.00,294.82 L238.80,296.61 L239.60,297.68 L240.40,296.49 L241.20,292.74 L242.00,288.92 L242.80,287.28 L243.60,288.31 L244.40,292.58 L245.20,298.12 L246.00,300.37 L246.80,297.42 L247.60,291.67 L248.40,287.01 L249.20,286.02 L250.00,287.50 L250.80,288.23 L251.60,288.49 L252.40,290.92 L253.20,294.36 L254.00,295.10 L254.80,293.67 L255.60,293.12 L256.40,292.90 L257.20,290.08 L258.00,283.91 L258.80,276.54 L259.60,271.08 L260.40,269.51 L261.20,272.55 L262.00,278.26 L262.80,282.44 L263.60,284.25 L264.40,285.42 L265.20,285.29 L266.00,283.86 L266.80,284.59 L267.60,288.19 L268.40,290.43 L269.20,290.16 L270.00,288.50 L270.80,284.38 L271.60,278.68 L272.40,273.92 L273.20,271.43 L274.00,271.83 L274.80,274.86 L275.60,278.05 L276.40,278.10 L277.20,275.86 L278.00,274.32 L278.80,274.55 L279.60,276.73 L280.40,278.45 L281.20,277.47 L282.00,275.84 L282.80,276.38 L283.60,279.34 L284.40,284.10 L285.20,288.85 L286.00,290.09 L286.80,285.73 L287.60,278.60 L288.40,273.85 L289.20,272.03 L290.00,269.97 L290.80,268.53 L291.60,270.50 L292.40,272.52 L293.20,270.85 L294.00,268.95 L294.80,270.02 L295.60,271.94 L296.40,271.67 L297.20,269.69 L298.00,269.12 L298.80,270.47 L299.60,271.12 L300.40,270.77 L301.20,270.36 L302.00,267.94 L302.80,263.00 L303.60,258.98 L304.40,257.10 L305.20,255.70 L306.00,256.59 L306.80,262.17 L307.60,268.31 L308.40,269.60 L309.20,266.31 L310.00,263.97 L310.80,267.60 L311.60,273.43 L312.40,274.09 L313.20,269.60 L314.00,265.30 L314.80,262.80 L315.60,260.48 L316.40,258.61 L317.20,259.09 L318.00,262.66 L318.80,267.26 L319.60,269.22 L320.40,266.67 L321.20,262.00 L322.00,258.46 L322.80,257.33 L323.60,258.58 L324.40,260.79 L325.20,261.69 L326.00,259.77 L326.80,257.38 L327.60,257.75 L328.40,259.36 L329.20,260.82 L330.00,263.08 L330.80,265.87 L331.60,268.08 L332.40,267.85 L333.20,265.32 L334.00,261.95 L334.80,257.35 L335.60,251.45 L336.40,246.94 L337.20,246.52 L338.00,249.43 L338.80,252.69 L339.60,254.31 L340.40,253.48 L341.20,252.22 L342.00,252.92 L342.80,254.22 L343.60,254.51 L344.40,254.02 L345.20,253.44 L346.00,252.91 L346.80,250.81 L347.60,246.82 L348.40,244.67 L349.20,246.89 L350.00,250.72 L350.80,251.71 L351.60,247.81 L352.40,242.15 L353.20,241.11 L354.00,245.32 L354.80,250.19 L355.60,251.77 L356.40,249.99 L357.20,249.07 L358.00,249.99 L358.80,248.64 L359.60,245.63 L360.40,245.18 L361.20,245.63 L362.00,244.95 L362.80,245.08 L363.60,246.11 L364.40,245.84 L365.20,244.11 L366.00,243.04 L366.80,243.46 L367.60,244.14 L368.40,244.69 L369.20,245.90 L370.00,248.11 L370.80,249.91 L371.60,249.53 L372.40,247.17 L373.20,245.25 L374.00,245.28 L374.80,244.91 L375.60,242.05 L376.40,237.90 L377.20,235.68 L378.00,236.40 L378.80,237.17 L379.60,237.90 L380.40,240.40 L381.20,243.17 L382.00,244.92 L382.80,246.01 L383.60,246.52 L384.40,246.33 L385.20,246.20 L386.00,245.65 L386.80,242.72 L387.60,238.91 L388.40,237.69 L389.20,239.00 L390.00,242.15 L390.80,245.45 L391.60,244.83 L392.40,241.01 L393.20,239.12 L394.00,239.37 L394.80,238.03 L395.60,235.15 L396.40,234.47 L397.20,237.56 L398.00,240.85 L398.80,242.18 L399.60,244.28 L400.40,247.63 L401.20,249.41 L402.00,248.57 L402.80,245.23 L403.60,239.13 L404.40,232.30 L405.20,229.55 L406.00,232.87 L406.80,237.71 L407.60,237.84 L408.40,233.25 L409.20,227.70 L410.00,224.52 L410.80,226.74 L411.60,232.10 L412.40,233.65 L413.20,230.67 L414.00,228.31 L414.80,229.22" stroke="#f7c600" stroke-width="1.15" fill="none" stroke-linejoin="round"/>
<path d="M226.00,296.98 L226.80,299.60 L227.60,301.22 L228.40,300.80 L229.20,300.46 L230.00,299.51 L230.80,296.41 L231.60,292.45 L232.40,289.44 L233.20,288.28 L234.00,289.89 L234.80,295.19 L235.60,300.73 L236.40,302.39 L237.20,302.38 L238.00,304.41 L238.80,306.87 L239.60,306.32 L240.40,302.60 L241.20,297.71 L242.00,293.89 L242.80,292.59 L243.60,293.94 L244.40,297.18 L245.20,300.24 L246.00,300.05 L246.80,295.54 L247.60,289.21 L248.40,286.08 L249.20,288.61 L250.00,291.62 L250.80,288.73 L251.60,282.73 L252.40,281.50 L253.20,285.34 L254.00,288.98 L254.80,290.92 L255.60,291.63 L256.40,290.54 L257.20,289.29 L258.00,291.00 L258.80,293.96 L259.60,294.46 L260.40,293.59 L261.20,293.48 L262.00,293.37 L262.80,293.58 L263.60,295.01 L264.40,295.98 L265.20,295.24 L266.00,293.40 L266.80,291.65 L267.60,290.45 L268.40,288.69 L269.20,287.26 L270.00,288.13 L270.80,289.26 L271.60,287.84 L272.40,285.20 L273.20,284.43 L274.00,287.58 L274.80,293.73 L275.60,298.19 L276.40,297.65 L277.20,293.83 L278.00,289.28 L278.80,284.90 L279.60,282.34 L280.40,283.07 L281.20,284.75 L282.00,283.84 L282.80,281.63 L283.60,281.13 L284.40,281.98 L285.20,282.75 L286.00,283.83 L286.80,284.74 L287.60,283.42 L288.40,280.08 L289.20,277.55 L290.00,277.50 L290.80,280.22 L291.60,283.23 L292.40,283.19 L293.20,281.32 L294.00,280.64 L294.80,281.12 L295.60,281.00 L296.40,279.80 L297.20,278.47 L298.00,277.27 L298.80,275.92 L299.60,274.73 L300.40,274.65 L301.20,275.77 L302.00,275.89 L302.80,274.17 L303.60,272.86 L304.40,273.04 L305.20,274.03 L306.00,274.19 L306.80,270.99 L307.60,266.30 L308.40,265.31 L309.20,268.92 L310.00,273.00 L310.80,273.13 L311.60,269.98 L312.40,268.23 L313.20,269.43 L314.00,272.32 L314.80,275.64 L315.60,277.96 L316.40,278.74 L317.20,278.08 L318.00,275.36 L318.80,271.02 L319.60,267.84 L320.40,268.30 L321.20,271.46 L322.00,273.51 L322.80,272.09 L323.60,268.89 L324.40,267.67 L325.20,269.33 L326.00,270.84 L326.80,269.54 L327.60,266.55 L328.40,264.79 L329.20,265.02 L330.00,265.50 L330.80,265.86 L331.60,266.21 L332.40,265.73 L333.20,264.78 L334.00,263.24 L334.80,260.95 L335.60,259.27 L336.40,259.60 L337.20,260.84 L338.00,261.37 L338.80,262.23 L339.60,263.88 L340.40,264.60 L341.20,264.48 L342.00,265.04 L342.80,265.20 L343.60,263.45 L344.40,260.35 L345.20,255.85 L346.00,251.14 L346.80,250.51 L347.60,254.73 L348.40,258.49 L349.20,258.21 L350.00,256.15 L350.80,255.56 L351.60,255.48 L352.40,253.98 L353.20,253.41 L354.00,255.82 L354.80,259.11 L355.60,261.83 L356.40,263.80 L357.20,263.31 L358.00,259.03 L358.80,252.98 L359.60,249.91 L360.40,252.25 L361.20,257.46 L362.00,262.00 L362.80,263.85 L363.60,263.16 L364.40,260.73 L365.20,256.86 L366.00,252.94 L366.80,251.03 L367.60,252.10 L368.40,254.65 L369.20,256.22 L370.00,257.28 L370.80,258.98 L371.60,258.25 L372.40,254.30 L373.20,252.51 L374.00,255.62 L374.80,260.73 L375.60,263.23 L376.40,260.51 L377.20,254.74 L378.00,250.55 L378.80,249.79 L379.60,250.52 L380.40,251.06 L381.20,251.95 L382.00,252.98 L382.80,252.95 L383.60,251.93 L384.40,249.96 L385.20,248.16 L386.00,248.25 L386.80,249.57 L387.60,251.13 L388.40,253.27 L389.20,256.39 L390.00,258.07 L390.80,253.99 L391.60,246.48 L392.40,243.55 L393.20,246.44 L394.00,248.26 L394.80,245.44 L395.60,240.71 L396.40,239.19 L397.20,244.33 L398.00,252.26 L398.80,255.22 L399.60,252.65 L400.40,248.65 L401.20,245.76 L402.00,245.18 L402.80,244.37 L403.60,241.53 L404.40,239.26 L405.20,240.29 L406.00,244.61 L406.80,249.07 L407.60,250.43 L408.40,248.64 L409.20,245.59 L410.00,243.87 L410.80,243.42 L411.60,240.76 L412.40,236.78 L413.20,235.29 L414.00,236.21 L414.80,236.95" stroke="#f7c600" stroke-width="1.15" fill="none" stroke-linejoin="round"/>
<path d="M226.00,291.81 L226.80,292.15 L227.60,298.29 L228.40,303.56 L229.20,302.76 L230.00,300.10 L230.80,300.39 L231.60,302.89 L232.40,304.07 L233.20,302.48 L234.00,299.19 L234.80,295.50 L235.60,292.84 L236.40,291.98 L237.20,292.59 L238.00,293.38 L238.80,293.53 L239.60,293.81 L240.40,294.74 L241.20,294.67 L242.00,292.70 L242.80,290.69 L243.60,290.97 L244.40,293.82 L245.20,297.10 L246.00,299.43 L246.80,301.23 L247.60,302.01 L248.40,301.57 L249.20,301.72 L250.00,302.59 L250.80,302.82 L251.60,302.84 L252.40,303.70 L253.20,303.79 L254.00,301.81 L254.80,300.97 L255.60,303.67 L256.40,306.82 L257.20,306.78 L258.00,304.52 L258.80,302.72 L259.60,301.70 L260.40,301.26 L261.20,301.62 L262.00,302.36 L262.80,303.26 L263.60,304.06 L264.40,305.37 L265.20,308.57 L266.00,311.20 L266.80,308.93 L267.60,301.86 L268.40,294.62 L269.20,292.19 L270.00,294.66 L270.80,295.46 L271.60,291.67 L272.40,289.44 L273.20,290.71 L274.00,290.28 L274.80,287.91 L275.60,287.22 L276.40,287.55 L277.20,287.74 L278.00,288.66 L278.80,290.23 L279.60,291.37 L280.40,289.76 L281.20,285.76 L282.00,283.50 L282.80,284.78 L283.60,286.99 L284.40,287.84 L285.20,287.95 L286.00,288.43 L286.80,288.05 L287.60,286.46 L288.40,285.96 L289.20,287.21 L290.00,289.28 L290.80,291.17 L291.60,290.34 L292.40,285.40 L293.20,278.65 L294.00,274.94 L294.80,276.85 L295.60,280.56 L296.40,282.26 L297.20,282.19 L298.00,281.75 L298.80,281.24 L299.60,279.18 L300.40,276.42 L301.20,274.91 L302.00,273.62 L302.80,271.93 L303.60,272.28 L304.40,276.29 L305.20,281.46 L306.00,284.12 L306.80,282.89 L307.60,279.29 L308.40,276.75 L309.20,277.21 L310.00,280.16 L310.80,283.99 L311.60,286.18 L312.40,285.34 L313.20,282.74 L314.00,278.93 L314.80,274.31 L315.60,272.31 L316.40,273.94 L317.20,276.00 L318.00,276.68 L318.80,275.90 L319.60,274.23 L320.40,273.65 L321.20,274.95 L322.00,276.37 L322.80,275.72 L323.60,272.17 L324.40,267.20 L325.20,264.16 L326.00,264.33 L326.80,266.52 L327.60,270.46 L328.40,272.57 L329.20,269.88 L330.00,267.14 L330.80,267.13 L331.60,266.86 L332.40,266.31 L333.20,267.51 L334.00,269.50 L334.80,270.17 L335.60,269.24 L336.40,267.46 L337.20,265.50 L338.00,264.31 L338.80,263.74 L339.60,263.00 L340.40,262.35 L341.20,262.67 L342.00,262.21 L342.80,259.67 L343.60,258.41 L344.40,259.61 L345.20,260.71 L346.00,261.92 L346.80,264.37 L347.60,265.17 L348.40,262.59 L349.20,259.83 L350.00,258.63 L350.80,258.44 L351.60,259.27 L352.40,260.09 L353.20,260.16 L354.00,259.58 L354.80,259.09 L355.60,261.25 L356.40,265.56 L357.20,266.78 L358.00,264.58 L358.80,264.67 L359.60,266.24 L360.40,265.20 L361.20,262.17 L362.00,258.29 L362.80,255.03 L363.60,253.76 L364.40,253.16 L365.20,252.17 L366.00,251.05 L366.80,249.90 L367.60,250.10 L368.40,253.87 L369.20,258.29 L370.00,258.67 L370.80,256.38 L371.60,256.06 L372.40,259.20 L373.20,261.73 L374.00,259.42 L374.80,254.57 L375.60,251.56 L376.40,251.34 L377.20,251.44 L378.00,249.89 L378.80,248.20 L379.60,248.28 L380.40,249.56 L381.20,250.35 L382.00,250.13 L382.80,250.24 L383.60,251.97 L384.40,253.95 L385.20,253.85 L386.00,252.33 L386.80,250.53 L387.60,248.28 L388.40,247.79 L389.20,251.54 L390.00,256.46 L390.80,257.65 L391.60,254.07 L392.40,248.23 L393.20,244.93 L394.00,246.32 L394.80,248.34 L395.60,248.08 L396.40,248.28 L397.20,249.69 L398.00,249.96 L398.80,249.48 L399.60,249.30 L400.40,248.71 L401.20,247.61 L402.00,246.54 L402.80,246.02 L403.60,246.23 L404.40,245.58 L405.20,243.51 L406.00,242.33 L406.80,244.04 L407.60,248.06 L408.40,251.90 L409.20,254.09 L410.00,254.52 L410.80,252.90 L411.60,249.59 L412.40,246.74 L413.20,246.38 L414.00,248.40 L414.80,250.44" stroke="#f7c600" stroke-width="1.15" fill="none" stroke-linejoin="round"/>
<path d="M226.00,277.34 L226.80,279.20 L227.60,278.32 L228.40,278.35 L229.20,281.01 L230.00,283.74 L230.80,284.81 L231.60,284.77 L232.40,283.34 L233.20,279.70 L234.00,276.77 L234.80,277.91 L235.60,281.07 L236.40,283.02 L237.20,282.86 L238.00,280.77 L238.80,277.75 L239.60,275.16 L240.40,273.61 L241.20,272.20 L242.00,271.19 L242.80,272.53 L243.60,275.61 L244.40,276.64 L245.20,274.50 L246.00,272.73 L246.80,273.90 L247.60,276.16 L248.40,277.15 L249.20,276.90 L250.00,276.98 L250.80,279.46 L251.60,282.62 L252.40,282.31 L253.20,278.15 L254.00,274.32 L254.80,274.38 L255.60,276.77 L256.40,277.60 L257.20,276.93 L258.00,277.31 L258.80,279.01 L259.60,279.98 L260.40,278.55 L261.20,276.49 L262.00,276.40 L262.80,277.04 L263.60,277.24 L264.40,277.95 L265.20,279.38 L266.00,279.74 L266.80,277.48 L267.60,274.94 L268.40,275.16 L269.20,277.15 L270.00,278.57 L270.80,279.00 L271.60,279.19 L272.40,279.33 L273.20,279.54 L274.00,278.93 L274.80,276.37 L275.60,275.35 L276.40,278.58 L277.20,283.06 L278.00,285.34 L278.80,284.44 L279.60,281.34 L280.40,278.30 L281.20,276.47 L282.00,276.19 L282.80,278.61 L283.60,282.49 L284.40,282.96 L285.20,278.25 L286.00,271.68 L286.80,265.98 L287.60,262.62 L288.40,262.30 L289.20,263.20 L290.00,262.61 L290.80,261.15 L291.60,262.58 L292.40,266.78 L293.20,267.98 L294.00,265.62 L294.80,264.66 L295.60,264.21 L296.40,261.81 L297.20,260.46 L298.00,261.97 L298.80,264.71 L299.60,268.65 L300.40,273.11 L301.20,274.37 L302.00,271.26 L302.80,267.25 L303.60,265.74 L304.40,266.78 L305.20,268.91 L306.00,270.62 L306.80,270.06 L307.60,268.71 L308.40,269.32 L309.20,269.58 L310.00,266.21 L310.80,261.44 L311.60,259.11 L312.40,259.37 L313.20,260.25 L314.00,260.99 L314.80,262.46 L315.60,264.11 L316.40,262.70 L317.20,258.02 L318.00,254.95 L318.80,255.75 L319.60,257.23 L320.40,256.84 L321.20,255.43 L322.00,254.98 L322.80,256.69 L323.60,259.01 L324.40,256.87 L325.20,249.41 L326.00,243.63 L326.80,244.21 L327.60,248.16 L328.40,251.99 L329.20,255.68 L330.00,259.26 L330.80,259.62 L331.60,255.36 L332.40,250.36 L333.20,247.16 L334.00,245.65 L334.80,245.03 L335.60,243.29 L336.40,241.80 L337.20,244.01 L338.00,249.15 L338.80,253.24 L339.60,253.54 L340.40,250.61 L341.20,248.01 L342.00,248.33 L342.80,250.01 L343.60,249.92 L344.40,248.87 L345.20,249.73 L346.00,250.33 L346.80,247.95 L347.60,243.68 L348.40,239.62 L349.20,238.28 L350.00,241.98 L350.80,248.25 L351.60,250.94 L352.40,248.07 L353.20,242.29 L354.00,238.16 L354.80,238.90 L355.60,242.16 L356.40,243.31 L357.20,241.96 L358.00,240.78 L358.80,240.22 L359.60,239.56 L360.40,239.26 L361.20,239.12 L362.00,238.55 L362.80,240.07 L363.60,244.76 L364.40,247.32 L365.20,245.17 L366.00,241.66 L366.80,239.83 L367.60,241.54 L368.40,245.35 L369.20,247.71 L370.00,247.90 L370.80,246.90 L371.60,245.96 L372.40,246.68 L373.20,248.77 L374.00,248.73 L374.80,244.44 L375.60,238.71 L376.40,235.47 L377.20,235.94 L378.00,238.25 L378.80,239.44 L379.60,239.55 L380.40,240.57 L381.20,243.19 L382.00,246.36 L382.80,247.16 L383.60,243.38 L384.40,236.39 L385.20,230.71 L386.00,229.87 L386.80,232.88 L387.60,236.83 L388.40,239.96 L389.20,240.38 L390.00,237.57 L390.80,234.29 L391.60,233.97 L392.40,235.79 L393.20,236.13 L394.00,234.83 L394.80,234.46 L395.60,235.50 L396.40,236.58 L397.20,236.80 L398.00,237.46 L398.80,239.34 L399.60,240.56 L400.40,239.85 L401.20,237.61 L402.00,234.61 L402.80,232.18 L403.60,231.00 L404.40,230.89 L405.20,231.59 L406.00,232.49 L406.80,231.44 L407.60,228.13 L408.40,226.76 L409.20,229.44 L410.00,232.61 L410.80,233.21 L411.60,232.88 L412.40,233.44 L413.20,233.77 L414.00,233.14 L414.80,232.83" stroke="#f7c600" stroke-width="1.15" fill="none" stroke-linejoin="round"/>
<path d="M226.00,295.97 L226.80,291.83 L227.60,291.86 L228.40,294.59 L229.20,296.54 L230.00,296.76 L230.80,294.81 L231.60,290.42 L232.40,286.98 L233.20,288.66 L234.00,293.36 L234.80,295.63 L235.60,295.16 L236.40,294.19 L237.20,292.03 L238.00,288.61 L238.80,286.47 L239.60,287.49 L240.40,290.14 L241.20,292.25 L242.00,294.40 L242.80,296.80 L243.60,296.68 L244.40,293.46 L245.20,289.90 L246.00,287.99 L246.80,287.72 L247.60,288.21 L248.40,289.35 L249.20,290.93 L250.00,292.02 L250.80,291.58 L251.60,289.86 L252.40,289.14 L253.20,290.01 L254.00,290.61 L254.80,289.96 L255.60,288.81 L256.40,288.99 L257.20,291.12 L258.00,293.84 L258.80,295.51 L259.60,294.26 L260.40,290.06 L261.20,285.86 L262.00,283.40 L262.80,282.83 L263.60,285.79 L264.40,292.01 L265.20,296.99 L266.00,297.44 L266.80,294.67 L267.60,292.20 L268.40,291.29 L269.20,291.25 L270.00,291.00 L270.80,289.35 L271.60,286.08 L272.40,281.54 L273.20,277.91 L274.00,278.73 L274.80,283.89 L275.60,289.33 L276.40,291.61 L277.20,291.15 L278.00,290.08 L278.80,289.49 L279.60,288.22 L280.40,285.19 L281.20,283.75 L282.00,286.18 L282.80,288.93 L283.60,289.72 L284.40,290.61 L285.20,292.37 L286.00,293.42 L286.80,292.99 L287.60,291.73 L288.40,289.59 L289.20,286.06 L290.00,282.40 L290.80,280.77 L291.60,279.69 L292.40,277.72 L293.20,276.69 L294.00,276.79 L294.80,275.39 L295.60,273.07 L296.40,272.49 L297.20,273.24 L298.00,273.00 L298.80,271.89 L299.60,272.45 L300.40,275.46 L301.20,278.96 L302.00,280.65 L302.80,280.62 L303.60,280.98 L304.40,281.25 L305.20,280.14 L306.00,278.86 L306.80,278.16 L307.60,277.68 L308.40,275.63 L309.20,271.01 L310.00,266.71 L310.80,266.34 L311.60,269.93 L312.40,273.65 L313.20,274.75 L314.00,274.20 L314.80,273.75 L315.60,273.65 L316.40,273.35 L317.20,273.92 L318.00,275.14 L318.80,274.99 L319.60,273.89 L320.40,272.91 L321.20,271.32 L322.00,268.64 L322.80,266.97 L323.60,268.03 L324.40,269.94 L325.20,270.92 L326.00,271.45 L326.80,271.02 L327.60,268.81 L328.40,266.19 L329.20,263.56 L330.00,261.37 L330.80,262.14 L331.60,265.33 L332.40,266.42 L333.20,263.66 L334.00,260.86 L334.80,261.85 L335.60,265.64 L336.40,269.21 L337.20,271.01 L338.00,271.22 L338.80,269.88 L339.60,266.03 L340.40,261.86 L341.20,260.93 L342.00,261.89 L342.80,261.82 L343.60,259.76 L344.40,257.27 L345.20,257.21 L346.00,259.49 L346.80,261.80 L347.60,263.59 L348.40,265.65 L349.20,267.50 L350.00,267.74 L350.80,266.14 L351.60,263.79 L352.40,261.97 L353.20,259.31 L354.00,255.82 L354.80,255.64 L355.60,259.90 L356.40,264.58 L357.20,266.11 L358.00,264.11 L358.80,259.95 L359.60,256.38 L360.40,256.05 L361.20,256.65 L362.00,254.37 L362.80,250.19 L363.60,247.27 L364.40,247.09 L365.20,249.86 L366.00,254.85 L366.80,258.48 L367.60,258.06 L368.40,255.41 L369.20,253.09 L370.00,251.37 L370.80,250.79 L371.60,252.32 L372.40,252.85 L373.20,249.67 L374.00,246.60 L374.80,247.21 L375.60,248.87 L376.40,247.59 L377.20,245.35 L378.00,246.95 L378.80,251.71 L379.60,254.97 L380.40,255.33 L381.20,255.24 L382.00,255.93 L382.80,254.74 L383.60,248.91 L384.40,240.89 L385.20,236.36 L386.00,237.00 L386.80,238.95 L387.60,239.40 L388.40,239.82 L389.20,240.71 L390.00,241.41 L390.80,243.71 L391.60,248.06 L392.40,251.82 L393.20,253.89 L394.00,254.48 L394.80,252.59 L395.60,247.69 L396.40,241.95 L397.20,238.70 L398.00,239.64 L398.80,243.62 L399.60,248.36 L400.40,252.00 L401.20,253.83 L402.00,253.67 L402.80,251.55 L403.60,247.97 L404.40,244.02 L405.20,240.87 L406.00,238.97 L406.80,238.20 L407.60,237.09 L408.40,232.94 L409.20,227.05 L410.00,224.85 L410.80,228.10 L411.60,233.37 L412.40,237.46 L413.20,238.37 L414.00,236.22 L414.80,235.45" stroke="#f7c600" stroke-width="1.15" fill="none" stroke-linejoin="round"/>
<path d="M226.00,289.42 L226.80,287.38 L227.60,286.58 L228.40,286.87 L229.20,288.74 L230.00,292.34 L230.80,295.79 L231.60,296.56 L232.40,293.70 L233.20,288.93 L234.00,285.70 L234.80,285.64 L235.60,286.81 L236.40,287.22 L237.20,287.31 L238.00,287.94 L238.80,288.29 L239.60,288.49 L240.40,289.90 L241.20,290.40 L242.00,288.07 L242.80,285.96 L243.60,286.69 L244.40,289.58 L245.20,292.96 L246.00,294.64 L246.80,293.49 L247.60,290.74 L248.40,288.19 L249.20,287.20 L250.00,287.82 L250.80,289.07 L251.60,289.52 L252.40,287.74 L253.20,284.59 L254.00,281.99 L254.80,280.50 L255.60,279.49 L256.40,278.94 L257.20,280.55 L258.00,284.58 L258.80,287.51 L259.60,288.33 L260.40,289.40 L261.20,289.92 L262.00,289.17 L262.80,288.70 L263.60,288.27 L264.40,287.04 L265.20,286.15 L266.00,283.85 L266.80,278.45 L267.60,274.53 L268.40,274.66 L269.20,275.35 L270.00,274.82 L270.80,275.31 L271.60,278.94 L272.40,283.42 L273.20,283.55 L274.00,279.97 L274.80,278.09 L275.60,279.25 L276.40,281.05 L277.20,282.29 L278.00,282.48 L278.80,280.37 L279.60,277.77 L280.40,278.09 L281.20,281.53 L282.00,284.31 L282.80,283.24 L283.60,281.07 L284.40,280.69 L285.20,279.20 L286.00,275.44 L286.80,274.11 L287.60,276.25 L288.40,276.91 L289.20,275.01 L290.00,272.91 L290.80,270.63 L291.60,269.36 L292.40,271.31 L293.20,274.39 L294.00,277.11 L294.80,280.10 L295.60,280.96 L296.40,276.98 L297.20,270.37 L298.00,265.95 L298.80,265.58 L299.60,264.92 L300.40,261.71 L301.20,261.25 L302.00,266.22 L302.80,271.48 L303.60,272.05 L304.40,269.05 L305.20,266.67 L306.00,267.23 L306.80,269.58 L307.60,270.96 L308.40,270.64 L309.20,269.69 L310.00,269.73 L310.80,270.33 L311.60,269.89 L312.40,268.16 L313.20,265.00 L314.00,262.51 L314.80,263.28 L315.60,265.16 L316.40,264.35 L317.20,262.08 L318.00,262.76 L318.80,266.69 L319.60,268.95 L320.40,266.14 L321.20,259.30 L322.00,253.73 L322.80,254.30 L323.60,258.15 L324.40,260.06 L325.20,259.66 L326.00,258.24 L326.80,256.08 L327.60,254.20 L328.40,253.99 L329.20,255.19 L330.00,256.94 L330.80,259.61 L331.60,261.68 L332.40,260.26 L333.20,256.31 L334.00,254.09 L334.80,256.23 L335.60,260.03 L336.40,261.15 L337.20,259.56 L338.00,257.88 L338.80,256.90 L339.60,254.95 L340.40,252.26 L341.20,253.20 L342.00,258.36 L342.80,261.69 L343.60,260.84 L344.40,258.55 L345.20,257.28 L346.00,257.93 L346.80,258.58 L347.60,257.60 L348.40,256.18 L349.20,256.41 L350.00,258.12 L350.80,259.03 L351.60,257.91 L352.40,256.13 L353.20,255.84 L354.00,256.21 L354.80,254.24 L355.60,250.02 L356.40,245.68 L357.20,242.40 L358.00,241.05 L358.80,242.30 L359.60,245.22 L360.40,246.88 L361.20,245.74 L362.00,243.65 L362.80,243.35 L363.60,244.49 L364.40,244.09 L365.20,242.16 L366.00,242.88 L366.80,246.00 L367.60,247.21 L368.40,248.18 L369.20,251.69 L370.00,253.30 L370.80,249.04 L371.60,242.86 L372.40,239.82 L373.20,239.26 L374.00,239.63 L374.80,241.80 L375.60,244.77 L376.40,246.30 L377.20,247.43 L378.00,248.77 L378.80,248.62 L379.60,246.61 L380.40,244.04 L381.20,241.36 L382.00,238.41 L382.80,237.29 L383.60,238.62 L384.40,239.10 L385.20,237.50 L386.00,234.85 L386.80,232.07 L387.60,231.22 L388.40,234.47 L389.20,240.51 L390.00,244.16 L390.80,243.41 L391.60,241.93 L392.40,240.80 L393.20,237.11 L394.00,232.75 L394.80,233.31 L395.60,238.62 L396.40,242.20 L397.20,240.72 L398.00,237.47 L398.80,235.46 L399.60,234.98 L400.40,235.88 L401.20,237.39 L402.00,238.60 L402.80,239.24 L403.60,239.64 L404.40,240.20 L405.20,239.77 L406.00,238.26 L406.80,238.02 L407.60,239.98 L408.40,242.00 L409.20,242.93 L410.00,243.75 L410.80,243.64 L411.60,241.51 L412.40,237.64 L413.20,234.16 L414.00,234.21 L414.80,236.59" stroke="#f7c600" stroke-width="1.15" fill="none" stroke-linejoin="round"/>
<path d="M38.00,292.65 L38.80,291.77 L39.60,291.12 L40.40,291.14 L41.20,291.32 L42.00,291.47 L42.80,292.32 L43.60,293.81 L44.40,294.39 L45.20,293.62 L46.00,292.24 L46.80,291.47 L47.60,291.84 L48.40,292.20 L49.20,292.12 L50.00,292.13 L50.80,292.40 L51.60,292.67 L52.40,293.43 L53.20,294.28 L54.00,293.73 L54.80,292.47 L55.60,292.44 L56.40,293.43 L57.20,294.01 L58.00,293.32 L58.80,291.32 L59.60,289.59 L60.40,289.66 L61.20,291.10 L62.00,292.73 L62.80,293.77 L63.60,293.86 L64.40,293.17 L65.20,292.63 L66.00,292.55 L66.80,292.42 L67.60,292.56 L68.40,293.70 L69.20,295.39 L70.00,296.05 L70.80,294.82 L71.60,292.97 L72.40,291.84 L73.20,291.02 L74.00,290.48 L74.80,289.79 L75.60,288.65 L76.40,288.54 L77.20,290.42 L78.00,292.79 L78.80,293.49 L79.60,292.98 L80.40,292.87 L81.20,293.03 L82.00,292.85 L82.80,292.70 L83.60,292.58 L84.40,291.65 L85.20,290.00 L86.00,288.72 L86.80,288.84 L87.60,289.54 L88.40,289.42 L89.20,289.26 L90.00,290.59 L90.80,292.22 L91.60,293.22 L92.40,294.30 L93.20,294.99 L94.00,294.82 L94.80,294.57 L95.60,294.46 L96.40,294.09 L97.20,293.29 L98.00,291.90 L98.80,290.68 L99.60,290.94 L100.40,292.02 L101.20,291.96 L102.00,291.06 L102.80,290.65 L103.60,290.09 L104.40,289.13 L105.20,289.55 L106.00,291.09 L106.80,291.47 L107.60,290.60 L108.40,290.57 L109.20,291.83 L110.00,292.43 L110.80,291.37 L111.60,290.60 L112.40,291.34 L113.20,291.83 L114.00,291.55 L114.80,291.86 L115.60,292.76 L116.40,293.04 L117.20,292.75 L118.00,292.73 L118.80,293.33 L119.60,294.09 L120.40,293.86 L121.20,292.72 L122.00,292.34 L122.80,293.12 L123.60,293.53 L124.40,292.36 L125.20,290.91 L126.00,290.36 L126.80,289.93 L127.60,289.14 L128.40,288.11 L129.20,287.50 L130.00,288.67 L130.80,290.94 L131.60,292.01 L132.40,292.32 L133.20,292.71 L134.00,291.82 L134.80,289.79 L135.60,288.76 L136.40,288.87 L137.20,289.06 L138.00,289.04 L138.80,288.86 L139.60,289.19 L140.40,290.07 L141.20,290.58 L142.00,290.24 L142.80,289.50 L143.60,289.11 L144.40,289.78 L145.20,290.92 L146.00,290.99 L146.80,290.77 L147.60,291.36 L148.40,291.86 L149.20,291.16 L150.00,289.50 L150.80,288.25 L151.60,287.99 L152.40,288.21 L153.20,288.94 L154.00,290.32 L154.80,291.68 L155.60,291.79 L156.40,290.35 L157.20,289.24 L158.00,289.54 L158.80,289.60 L159.60,289.03 L160.40,288.95 L161.20,288.89 L162.00,288.73 L162.80,289.26 L163.60,290.40 L164.40,291.45 L165.20,291.83 L166.00,291.83 L166.80,292.30 L167.60,292.42 L168.40,291.18 L169.20,290.05 L170.00,290.10 L170.80,290.52 L171.60,290.13 L172.40,289.33 L173.20,289.31 L174.00,290.21 L174.80,291.31 L175.60,291.65 L176.40,291.51 L177.20,291.17 L178.00,290.55 L178.80,289.93 L179.60,289.89 L180.40,290.37 L181.20,290.88 L182.00,290.77 L182.80,289.66 L183.60,288.23 L184.40,287.48 L185.20,287.96 L186.00,289.43 L186.80,291.07 L187.60,291.84 L188.40,292.01 L189.20,292.38 L190.00,292.17 L190.80,291.09 L191.60,290.99 L192.40,292.15 L193.20,292.86 L194.00,293.01 L194.80,292.45 L195.60,290.78 L196.40,289.21 L197.20,288.90 L198.00,289.65 L198.80,289.78 L199.60,288.81 L200.40,288.14 L201.20,288.53 L202.00,289.60 L202.80,290.35 L203.60,290.08 L204.40,289.37 L205.20,288.61 L206.00,288.00 L206.80,287.85 L207.60,287.80 L208.40,287.18 L209.20,286.28 L210.00,286.19 L210.80,286.32 L211.60,286.04 L212.40,286.56 L213.20,287.64 L214.00,288.15 L214.80,288.46 L215.60,288.28 L216.40,287.48 L217.20,287.61 L218.00,288.75 L218.80,289.32 L219.60,289.04 L220.40,288.32 L221.20,287.09 L222.00,285.49 L222.80,284.40 L223.60,284.32 L224.40,284.79 L225.20,285.49 L226.00,286.43 L226.80,287.28 L227.60,287.77 L228.40,287.97 L229.20,288.18 L230.00,288.98 L230.80,289.56 L231.60,288.56 L232.40,286.81 L233.20,285.89 L234.00,285.71 L234.80,286.03 L235.60,285.99 L236.40,285.38 L237.20,285.20 L238.00,285.58 L238.80,285.28 L239.60,284.44 L240.40,284.77 L241.20,286.40 L242.00,287.60 L242.80,287.34 L243.60,286.48 L244.40,286.33 L245.20,286.78 L246.00,286.85 L246.80,286.04 L247.60,284.62 L248.40,283.60 L249.20,283.37 L250.00,283.08 L250.80,282.47 L251.60,282.03 L252.40,281.94 L253.20,282.43 L254.00,283.58 L254.80,284.54 L255.60,283.76 L256.40,281.36 L257.20,279.35 L258.00,279.28 L258.80,280.42 L259.60,280.93 L260.40,280.24 L261.20,279.15 L262.00,278.94 L262.80,279.33 L263.60,278.97 L264.40,278.31 L265.20,278.74 L266.00,279.88 L266.80,280.84 L267.60,281.80 L268.40,282.18 L269.20,281.18 L270.00,279.49 L270.80,278.02 L271.60,276.33 L272.40,274.14 L273.20,272.84 L274.00,272.89 L274.80,273.63 L275.60,274.50 L276.40,274.87 L277.20,274.86 L278.00,274.73 L278.80,274.33 L279.60,273.31 L280.40,272.14 L281.20,272.40 L282.00,274.58 L282.80,277.01 L283.60,277.76 L284.40,277.01 L285.20,276.16 L286.00,276.17 L286.80,276.26 L287.60,275.59 L288.40,273.54 L289.20,270.44 L290.00,268.54 L290.80,268.54 L291.60,269.22 L292.40,269.90 L293.20,270.06 L294.00,269.57 L294.80,269.19 L295.60,269.16 L296.40,268.89 L297.20,268.41 L298.00,268.56 L298.80,268.81 L299.60,267.98 L300.40,266.82 L301.20,266.23 L302.00,265.96 L302.80,265.96 L303.60,266.36 L304.40,266.77 L305.20,266.31 L306.00,265.20 L306.80,264.89 L307.60,264.73 L308.40,262.92 L309.20,260.52 L310.00,259.65 L310.80,260.00 L311.60,259.85 L312.40,259.31 L313.20,259.59 L314.00,260.87 L314.80,262.08 L315.60,261.94 L316.40,260.64 L317.20,259.70 L318.00,260.01 L318.80,260.77 L319.60,260.94 L320.40,260.35 L321.20,259.21 L322.00,257.96 L322.80,256.88 L323.60,256.50 L324.40,256.84 L325.20,256.66 L326.00,255.28 L326.80,253.38 L327.60,252.36 L328.40,252.60 L329.20,253.56 L330.00,254.88 L330.80,255.86 L331.60,255.76 L332.40,254.43 L333.20,253.04 L334.00,252.38 L334.80,251.84 L335.60,251.58 L336.40,252.04 L337.20,253.14 L338.00,254.61 L338.80,255.30 L339.60,254.44 L340.40,252.85 L341.20,251.21 L342.00,249.87 L342.80,249.18 L343.60,249.53 L344.40,250.36 L345.20,250.40 L346.00,249.80 L346.80,249.64 L347.60,249.74 L348.40,249.04 L349.20,248.22 L350.00,248.36 L350.80,248.95 L351.60,249.01 L352.40,248.00 L353.20,246.90 L354.00,247.61 L354.80,249.47 L355.60,249.46 L356.40,246.95 L357.20,244.00 L358.00,242.11 L358.80,241.69 L359.60,242.27 L360.40,243.04 L361.20,243.79 L362.00,244.37 L362.80,244.32 L363.60,244.09 L364.40,243.89 L365.20,243.31 L366.00,243.26 L366.80,244.56 L367.60,245.60 L368.40,244.96 L369.20,243.57 L370.00,242.33 L370.80,241.05 L371.60,238.99 L372.40,236.71 L373.20,236.14 L374.00,237.55 L374.80,240.12 L375.60,242.91 L376.40,244.27 L377.20,243.66 L378.00,242.66 L378.80,242.11 L379.60,241.13 L380.40,239.62 L381.20,239.01 L382.00,239.22 L382.80,238.81 L383.60,237.90 L384.40,237.52 L385.20,237.85 L386.00,238.44 L386.80,237.87 L387.60,236.44 L388.40,235.77 L389.20,235.48 L390.00,235.56 L390.80,236.70 L391.60,237.53 L392.40,236.49 L393.20,234.49 L394.00,233.27 L394.80,233.46 L395.60,234.82 L396.40,236.36 L397.20,236.94 L398.00,236.77 L398.80,236.28 L399.60,235.17 L400.40,233.66 L401.20,232.47 L402.00,232.05 L402.80,232.21 L403.60,232.83 L404.40,233.54 L405.20,233.34 L406.00,232.78 L406.80,232.59 L407.60,232.62 L408.40,232.94 L409.20,233.07 L410.00,232.20 L410.80,230.25 L411.60,228.34 L412.40,227.28 L413.20,227.03 L414.00,227.07 L414.80,226.81" stroke="#111" stroke-width="1.2" stroke-dasharray="6 1" fill="none" stroke-linejoin="round"/>
<path d="M38.00,305.85 L38.80,305.05 L39.60,304.62 L40.40,305.17 L41.20,306.05 L42.00,306.75 L42.80,307.77 L43.60,309.00 L44.40,309.01 L45.20,307.60 L46.00,305.77 L46.80,304.82 L47.60,305.16 L48.40,305.50 L49.20,305.41 L50.00,305.52 L50.80,306.06 L51.60,306.77 L52.40,308.03 L53.20,309.20 L54.00,308.55 L54.80,306.68 L55.60,305.71 L56.40,305.78 L57.20,305.81 L58.00,305.12 L58.80,303.69 L59.60,302.94 L60.40,304.10 L61.20,306.46 L62.00,308.72 L62.80,310.15 L63.60,310.42 L64.40,309.79 L65.20,309.21 L66.00,308.92 L66.80,308.37 L67.60,307.90 L68.40,308.35 L69.20,309.46 L70.00,309.75 L70.80,308.34 L71.60,306.44 L72.40,305.32 L73.20,304.64 L74.00,304.45 L74.80,304.34 L75.60,303.90 L76.40,304.37 L77.20,306.52 L78.00,308.68 L78.80,308.72 L79.60,307.38 L80.40,306.71 L81.20,306.85 L82.00,307.10 L82.80,307.51 L83.60,307.89 L84.40,307.39 L85.20,306.15 L86.00,305.31 L86.80,305.85 L87.60,306.84 L88.40,306.67 L89.20,306.04 L90.00,306.58 L90.80,307.43 L91.60,307.98 L92.40,309.02 L93.20,309.92 L94.00,309.95 L94.80,309.77 L95.60,309.65 L96.40,309.28 L97.20,308.44 L98.00,306.75 L98.80,304.91 L99.60,304.51 L100.40,305.42 L101.20,305.98 L102.00,306.21 L102.80,306.89 L103.60,306.91 L104.40,305.94 L105.20,305.94 L106.00,306.93 L106.80,306.87 L107.60,305.78 L108.40,305.64 L109.20,306.73 L110.00,307.03 L110.80,305.58 L111.60,304.44 L112.40,304.87 L113.20,305.09 L114.00,304.61 L114.80,304.88 L115.60,306.00 L116.40,306.62 L117.20,306.54 L118.00,306.45 L118.80,306.74 L119.60,307.14 L120.40,306.65 L121.20,305.33 L122.00,304.69 L122.80,305.08 L123.60,305.07 L124.40,303.65 L125.20,302.30 L126.00,302.23 L126.80,302.61 L127.60,302.78 L128.40,302.62 L129.20,302.45 L130.00,303.37 L130.80,304.79 L131.60,304.86 L132.40,304.59 L133.20,305.15 L134.00,305.01 L134.80,303.86 L135.60,303.37 L136.40,303.55 L137.20,303.54 L138.00,303.35 L138.80,303.16 L139.60,303.56 L140.40,304.48 L141.20,305.03 L142.00,304.81 L142.80,304.32 L143.60,304.30 L144.40,305.33 L145.20,306.64 L146.00,306.49 L146.80,305.68 L147.60,305.57 L148.40,305.61 L149.20,304.87 L150.00,303.48 L150.80,302.60 L151.60,302.70 L152.40,303.08 L153.20,303.61 L154.00,304.43 L154.80,305.11 L155.60,304.74 L156.40,303.15 L157.20,302.14 L158.00,302.69 L158.80,303.17 L159.60,303.26 L160.40,303.95 L161.20,304.51 L162.00,304.52 L162.80,304.75 L163.60,305.28 L164.40,305.60 L165.20,305.27 L166.00,304.62 L166.80,304.52 L167.60,304.30 L168.40,303.15 L169.20,302.62 L170.00,303.66 L170.80,305.13 L171.60,305.56 L172.40,305.16 L173.20,305.09 L174.00,305.52 L174.80,305.86 L175.60,305.44 L176.40,304.89 L177.20,304.69 L178.00,304.63 L178.80,304.66 L179.60,304.99 L180.40,305.43 L181.20,305.65 L182.00,305.30 L182.80,304.25 L183.60,303.11 L184.40,302.63 L185.20,302.97 L186.00,303.67 L186.80,303.98 L187.60,303.34 L188.40,302.59 L189.20,302.83 L190.00,303.19 L190.80,303.00 L191.60,303.72 L192.40,305.44 L193.20,306.44 L194.00,306.76 L194.80,306.41 L195.60,305.00 L196.40,303.65 L197.20,303.39 L198.00,304.02 L198.80,304.03 L199.60,303.04 L200.40,302.50 L201.20,303.13 L202.00,304.42 L202.80,305.21 L203.60,304.73 L204.40,303.59 L205.20,302.30 L206.00,301.15 L206.80,300.68 L207.60,300.76 L208.40,300.72 L209.20,300.53 L210.00,300.84 L210.80,300.96 L211.60,300.50 L212.40,301.00 L213.20,302.27 L214.00,302.87 L214.80,302.97 L215.60,302.33 L216.40,301.03 L217.20,300.73 L218.00,301.54 L218.80,301.94 L219.60,301.82 L220.40,301.58 L221.20,300.99 L222.00,299.89 L222.80,299.05 L223.60,299.07 L224.40,299.58 L225.20,300.32 L226.00,301.31 L226.80,302.31 L227.60,303.05 L228.40,303.45 L229.20,303.56 L230.00,303.87 L230.80,303.82 L231.60,302.41 L232.40,300.68 L233.20,300.11 L234.00,300.33 L234.80,300.88 L235.60,300.93 L236.40,300.34 L237.20,300.16 L238.00,300.59 L238.80,300.48 L239.60,299.83 L240.40,300.10 L241.20,301.36 L242.00,302.12 L242.80,301.66 L243.60,300.98 L244.40,301.30 L245.20,302.27 L246.00,302.73 L246.80,302.02 L247.60,300.47 L248.40,299.25 L249.20,298.96 L250.00,298.77 L250.80,298.15 L251.60,297.31 L252.40,296.43 L253.20,296.08 L254.00,296.75 L254.80,297.78 L255.60,297.43 L256.40,295.44 L257.20,293.61 L258.00,293.57 L258.80,294.79 L259.60,295.48 L260.40,294.98 L261.20,294.00 L262.00,293.86 L262.80,294.29 L263.60,293.82 L264.40,292.79 L265.20,292.65 L266.00,293.21 L266.80,293.78 L267.60,294.57 L268.40,294.98 L269.20,294.17 L270.00,292.87 L270.80,291.91 L271.60,290.68 L272.40,288.71 L273.20,287.28 L274.00,286.87 L274.80,286.96 L275.60,287.24 L276.40,287.16 L277.20,286.82 L278.00,286.46 L278.80,286.09 L279.60,285.60 L280.40,285.39 L281.20,286.66 L282.00,289.27 L282.80,291.26 L283.60,291.01 L284.40,289.32 L285.20,288.08 L286.00,288.30 L286.80,288.98 L287.60,288.97 L288.40,287.41 L289.20,284.49 L290.00,282.42 L290.80,281.99 L291.60,282.19 L292.40,282.65 L293.20,283.01 L294.00,283.12 L294.80,283.47 L295.60,283.93 L296.40,283.62 L297.20,282.55 L298.00,281.82 L298.80,281.27 L299.60,280.12 L300.40,279.23 L301.20,279.20 L302.00,279.37 L302.80,279.44 L303.60,279.66 L304.40,279.86 L305.20,279.32 L306.00,278.30 L306.80,278.17 L307.60,278.29 L308.40,276.86 L309.20,274.94 L310.00,274.52 L310.80,275.04 L311.60,274.64 L312.40,273.50 L313.20,273.19 L314.00,274.16 L314.80,275.44 L315.60,275.60 L316.40,274.54 L317.20,273.53 L318.00,273.43 L318.80,273.66 L319.60,273.59 L320.40,273.37 L321.20,273.16 L322.00,273.01 L322.80,272.68 L323.60,272.54 L324.40,272.79 L325.20,272.46 L326.00,271.00 L326.80,269.02 L327.60,267.79 L328.40,267.60 L329.20,267.97 L330.00,268.67 L330.80,269.23 L331.60,269.03 L332.40,267.84 L333.20,266.52 L334.00,265.58 L334.80,264.39 L335.60,263.42 L336.40,263.56 L337.20,264.90 L338.00,266.91 L338.80,268.05 L339.60,267.42 L340.40,265.98 L341.20,264.55 L342.00,263.43 L342.80,262.86 L343.60,263.26 L344.40,264.13 L345.20,264.23 L346.00,263.66 L346.80,263.45 L347.60,263.41 L348.40,262.51 L349.20,261.61 L350.00,261.89 L350.80,262.79 L351.60,263.08 L352.40,262.01 L353.20,260.42 L354.00,260.35 L354.80,261.48 L355.60,261.17 L356.40,258.89 L357.20,256.42 L358.00,254.83 L358.80,254.26 L359.60,254.42 L360.40,254.90 L361.20,255.80 L362.00,256.97 L362.80,257.61 L363.60,257.81 L364.40,257.63 L365.20,256.78 L366.00,256.51 L366.80,257.86 L367.60,259.22 L368.40,259.01 L369.20,257.99 L370.00,257.10 L370.80,256.23 L371.60,254.60 L372.40,252.46 L373.20,251.52 L374.00,252.17 L374.80,254.00 L375.60,256.44 L376.40,257.87 L377.20,257.57 L378.00,256.89 L378.80,256.56 L379.60,255.60 L380.40,253.89 L381.20,252.84 L382.00,252.48 L382.80,251.60 L383.60,250.53 L384.40,250.35 L385.20,251.09 L386.00,252.12 L386.80,252.01 L387.60,251.18 L388.40,251.29 L389.20,251.85 L390.00,252.56 L390.80,253.79 L391.60,254.13 L392.40,252.34 L393.20,249.73 L394.00,248.23 L394.80,248.37 L395.60,249.60 L396.40,250.68 L397.20,250.45 L398.00,249.48 L398.80,248.59 L399.60,247.65 L400.40,246.56 L401.20,245.62 L402.00,245.08 L402.80,244.92 L403.60,245.32 L404.40,245.97 L405.20,245.78 L406.00,245.14 L406.80,244.75 L407.60,244.61 L408.40,245.00 L409.20,245.39 L410.00,244.79 L410.80,242.95 L411.60,241.03 L412.40,239.99 L413.20,240.01 L414.00,240.55 L414.80,240.89" stroke="#111" stroke-width="1.2" stroke-dasharray="6 1" fill="none" stroke-linejoin="round"/>
<path d="M38.00,299.81 L38.80,299.13 L39.60,298.74 L40.40,299.08 L41.20,299.52 L42.00,299.76 L42.80,300.50 L43.60,301.73 L44.40,301.97 L45.20,300.85 L46.00,299.20 L46.80,298.31 L47.60,298.72 L48.40,299.25 L49.20,299.40 L50.00,299.59 L50.80,299.95 L51.60,300.22 L52.40,300.93 L53.20,301.67 L54.00,300.87 L54.80,299.18 L55.60,298.66 L56.40,299.30 L57.20,299.87 L58.00,299.51 L58.80,298.06 L59.60,296.90 L60.40,297.39 L61.20,299.04 L62.00,300.71 L62.80,301.74 L63.60,301.79 L64.40,301.05 L65.20,300.43 L66.00,300.12 L66.80,299.56 L67.60,299.15 L68.40,299.82 L69.20,301.35 L70.00,302.13 L70.80,301.17 L71.60,299.65 L72.40,298.89 L73.20,298.51 L74.00,298.42 L74.80,298.11 L75.60,297.20 L76.40,297.09 L77.20,298.71 L78.00,300.58 L78.80,300.64 L79.60,299.54 L80.40,299.10 L81.20,299.26 L82.00,299.31 L82.80,299.54 L83.60,299.91 L84.40,299.64 L85.20,298.73 L86.00,298.11 L86.80,298.59 L87.60,299.24 L88.40,298.64 L89.20,297.76 L90.00,298.40 L90.80,299.62 L91.60,300.60 L92.40,301.87 L93.20,302.67 L94.00,302.36 L94.80,301.84 L95.60,301.56 L96.40,301.27 L97.20,300.74 L98.00,299.51 L98.80,298.15 L99.60,298.10 L100.40,299.05 L101.20,299.21 L102.00,298.75 L102.80,298.76 L103.60,298.35 L104.40,297.23 L105.20,297.24 L106.00,298.31 L106.80,298.31 L107.60,297.24 L108.40,297.16 L109.20,298.42 L110.00,299.02 L110.80,297.88 L111.60,296.97 L112.40,297.51 L113.20,297.80 L114.00,297.38 L114.80,297.68 L115.60,298.79 L116.40,299.43 L117.20,299.46 L118.00,299.55 L118.80,299.98 L119.60,300.41 L120.40,299.83 L121.20,298.42 L122.00,297.82 L122.80,298.46 L123.60,298.80 L124.40,297.66 L125.20,296.36 L126.00,296.10 L126.80,296.13 L127.60,295.91 L128.40,295.46 L129.20,295.19 L130.00,296.24 L130.80,297.92 L131.60,298.22 L132.40,298.01 L133.20,298.44 L134.00,298.13 L134.80,296.90 L135.60,296.53 L136.40,296.90 L137.20,296.99 L138.00,296.67 L138.80,296.19 L139.60,296.34 L140.40,297.19 L141.20,297.75 L142.00,297.39 L142.80,296.48 L143.60,295.90 L144.40,296.56 L145.20,297.90 L146.00,298.17 L146.80,297.90 L147.60,298.20 L148.40,298.37 L149.20,297.55 L150.00,296.07 L150.80,295.19 L151.60,295.36 L152.40,295.82 L153.20,296.44 L154.00,297.45 L154.80,298.46 L155.60,298.51 L156.40,297.31 L157.20,296.57 L158.00,297.16 L158.80,297.40 L159.60,297.00 L160.40,297.16 L161.20,297.38 L162.00,297.36 L162.80,297.77 L163.60,298.54 L164.40,299.16 L165.20,299.21 L166.00,298.94 L166.80,299.15 L167.60,299.03 L168.40,297.75 L169.20,296.88 L170.00,297.38 L170.80,298.26 L171.60,298.21 L172.40,297.62 L173.20,297.68 L174.00,298.43 L174.80,299.13 L175.60,298.97 L176.40,298.46 L177.20,298.02 L178.00,297.50 L178.80,297.03 L179.60,297.03 L180.40,297.38 L181.20,297.72 L182.00,297.58 L182.80,296.70 L183.60,295.66 L184.40,295.25 L185.20,295.78 L186.00,296.89 L186.80,297.84 L187.60,297.88 L188.40,297.61 L189.20,298.00 L190.00,298.16 L190.80,297.59 L191.60,297.91 L192.40,299.30 L193.20,300.07 L194.00,300.20 L194.80,299.60 L195.60,297.80 L196.40,295.97 L197.20,295.38 L198.00,295.97 L198.80,296.21 L199.60,295.54 L200.40,295.21 L201.20,295.87 L202.00,297.06 L202.80,297.71 L203.60,297.13 L204.40,295.98 L205.20,294.82 L206.00,293.90 L206.80,293.61 L207.60,293.65 L208.40,293.37 L209.20,292.86 L210.00,293.01 L210.80,293.16 L211.60,292.81 L212.40,293.32 L213.20,294.42 L214.00,294.84 L214.80,294.99 L215.60,294.73 L216.40,294.01 L217.20,294.29 L218.00,295.46 L218.80,295.87 L219.60,295.47 L220.40,294.86 L221.20,294.00 L222.00,292.79 L222.80,292.02 L223.60,292.17 L224.40,292.79 L225.20,293.46 L226.00,294.18 L226.80,294.71 L227.60,294.93 L228.40,295.00 L229.20,295.17 L230.00,295.95 L230.80,296.55 L231.60,295.62 L232.40,293.97 L233.20,293.12 L234.00,292.92 L234.80,293.12 L235.60,292.95 L236.40,292.26 L237.20,292.06 L238.00,292.58 L238.80,292.52 L239.60,291.82 L240.40,291.97 L241.20,293.13 L242.00,293.85 L242.80,293.38 L243.60,292.63 L244.40,292.80 L245.20,293.64 L246.00,294.06 L246.80,293.46 L247.60,292.09 L248.40,291.05 L249.20,290.86 L250.00,290.73 L250.80,290.25 L251.60,289.74 L252.40,289.37 L253.20,289.57 L254.00,290.66 L254.80,291.87 L255.60,291.44 L256.40,289.24 L257.20,287.16 L258.00,286.87 L258.80,287.74 L259.60,287.96 L260.40,286.91 L261.20,285.51 L262.00,285.23 L262.80,285.86 L263.60,285.88 L264.40,285.47 L265.20,285.88 L266.00,286.80 L266.80,287.48 L267.60,288.22 L268.40,288.51 L269.20,287.58 L270.00,286.24 L270.80,285.39 L271.60,284.43 L272.40,282.79 L273.20,281.62 L274.00,281.33 L274.80,281.50 L275.60,281.90 L276.40,282.02 L277.20,281.86 L278.00,281.55 L278.80,280.96 L279.60,279.93 L280.40,278.98 L281.20,279.59 L282.00,281.95 L282.80,284.19 L283.60,284.46 L284.40,283.24 L285.20,282.23 L286.00,282.39 L286.80,282.79 L287.60,282.38 L288.40,280.40 L289.20,277.13 L290.00,274.83 L290.80,274.37 L291.60,274.79 L292.40,275.61 L293.20,276.24 L294.00,276.34 L294.80,276.39 L295.60,276.48 L296.40,275.99 L297.20,275.09 L298.00,274.84 L298.80,274.84 L299.60,274.01 L300.40,273.04 L301.20,272.68 L302.00,272.50 L302.80,272.42 L303.60,272.65 L304.40,272.88 L305.20,272.24 L306.00,271.03 L306.80,270.78 L307.60,270.97 L308.40,269.74 L309.20,267.96 L310.00,267.51 L310.80,267.97 L311.60,267.68 L312.40,266.87 L313.20,266.92 L314.00,268.03 L314.80,269.17 L315.60,269.03 L316.40,267.73 L317.20,266.74 L318.00,266.96 L318.80,267.65 L319.60,267.93 L320.40,267.71 L321.20,267.18 L322.00,266.55 L322.80,265.85 L323.60,265.51 L324.40,265.64 L325.20,265.24 L326.00,263.75 L326.80,261.83 L327.60,260.74 L328.40,260.76 L329.20,261.39 L330.00,262.34 L330.80,263.11 L331.60,263.04 L332.40,261.92 L333.20,260.70 L334.00,260.01 L334.80,259.24 L335.60,258.72 L336.40,259.06 L337.20,260.20 L338.00,261.73 L338.80,262.40 L339.60,261.46 L340.40,259.83 L341.20,258.23 L342.00,256.98 L342.80,256.38 L343.60,256.80 L344.40,257.62 L345.20,257.59 L346.00,256.88 L346.80,256.60 L347.60,256.60 L348.40,255.80 L349.20,254.96 L350.00,255.20 L350.80,256.05 L351.60,256.43 L352.40,255.59 L353.20,254.30 L354.00,254.55 L354.80,255.99 L355.60,255.95 L356.40,253.82 L357.20,251.43 L358.00,249.93 L358.80,249.50 L359.60,249.75 L360.40,250.10 L361.20,250.60 L362.00,251.23 L362.80,251.37 L363.60,251.22 L364.40,250.84 L365.20,249.85 L366.00,249.41 L366.80,250.55 L367.60,251.70 L368.40,251.29 L369.20,250.06 L370.00,248.98 L370.80,247.99 L371.60,246.40 L372.40,244.62 L373.20,244.35 L374.00,245.75 L374.80,247.98 L375.60,250.25 L376.40,251.09 L377.20,250.15 L378.00,249.05 L378.80,248.57 L379.60,247.66 L380.40,246.11 L381.20,245.27 L382.00,245.14 L382.80,244.52 L383.60,243.64 L384.40,243.45 L385.20,243.93 L386.00,244.58 L386.80,244.21 L387.60,243.31 L388.40,243.48 L389.20,244.07 L390.00,244.75 L390.80,245.94 L391.60,246.27 L392.40,244.44 L393.20,241.70 L394.00,239.99 L394.80,239.94 L395.60,241.20 L396.40,242.62 L397.20,243.02 L398.00,242.76 L398.80,242.35 L399.60,241.49 L400.40,240.23 L401.20,239.13 L402.00,238.68 L402.80,238.77 L403.60,239.36 L404.40,240.05 L405.20,239.77 L406.00,239.01 L406.80,238.53 L407.60,238.36 L408.40,238.72 L409.20,239.15 L410.00,238.66 L410.80,236.94 L411.60,235.04 L412.40,233.82 L413.20,233.46 L414.00,233.58 L414.80,233.63" stroke="#000" stroke-width="2.6" fill="none" stroke-linejoin="round"/>
<path d="M38.00,257.20 C38.20,256.47 38.82,254.03 39.20,252.80 C39.58,251.57 39.93,249.55 40.30,249.80 C40.67,250.05 40.97,252.08 41.40,254.30 C41.83,256.52 42.45,261.13 42.90,263.10 C43.35,265.07 43.73,266.10 44.10,266.10 C44.47,266.10 44.75,262.97 45.10,263.10 C45.45,263.23 45.77,265.90 46.20,266.90 C46.63,267.90 47.22,269.48 47.70,269.10 C48.18,268.72 48.62,265.83 49.10,264.60 C49.58,263.37 50.15,261.95 50.60,261.70 C51.05,261.45 51.35,264.58 51.80,263.10 C52.25,261.62 52.80,254.88 53.30,252.80 C53.80,250.72 54.18,250.90 54.80,250.60 C55.42,250.30 56.27,250.15 57.00,251.00 C57.73,251.85 58.47,254.42 59.20,255.70 C59.93,256.98 60.78,258.82 61.40,258.70 C62.02,258.58 62.40,255.37 62.90,255.00 C63.40,254.63 63.90,255.15 64.40,256.50 C64.90,257.85 65.40,261.25 65.90,263.10 C66.40,264.95 66.95,266.65 67.40,267.60 C67.85,268.55 68.18,269.30 68.60,268.80 C69.02,268.30 69.48,266.78 69.90,264.60 C70.32,262.42 70.53,257.42 71.10,255.70 C71.67,253.98 72.57,254.42 73.30,254.30 C74.03,254.18 74.63,254.63 75.50,255.00 C76.37,255.37 77.63,256.00 78.50,256.50 C79.37,257.00 80.08,258.13 80.70,258.00 C81.32,257.87 81.58,256.93 82.20,255.70 C82.82,254.47 83.78,251.33 84.40,250.60 C85.02,249.87 85.28,250.32 85.90,251.30 C86.52,252.28 87.37,256.13 88.10,256.50 C88.83,256.87 89.68,254.12 90.30,253.50 C90.92,252.88 91.18,251.68 91.80,252.80 C92.42,253.92 93.38,258.60 94.00,260.20 C94.62,261.80 94.88,262.53 95.50,262.40 C96.12,262.27 96.83,260.27 97.70,259.40 C98.57,258.53 99.83,258.18 100.70,257.20 C101.57,256.22 102.17,253.13 102.90,253.50 C103.63,253.87 104.48,257.30 105.10,259.40 C105.72,261.50 106.10,265.48 106.60,266.10 C107.10,266.72 107.48,262.97 108.10,263.10 C108.72,263.23 109.68,267.02 110.30,266.90 C110.92,266.78 111.18,264.50 111.80,262.40 C112.42,260.30 113.25,255.78 114.00,254.30 C114.75,252.82 115.68,253.50 116.30,253.50 C116.92,253.50 117.28,253.18 117.70,254.30 C118.12,255.42 118.42,260.08 118.80,260.20 C119.18,260.32 119.43,256.12 120.00,255.00 C120.57,253.88 121.47,254.37 122.20,253.50 C122.93,252.63 123.67,250.17 124.40,249.80 C125.13,249.43 125.85,251.10 126.60,251.30 C127.35,251.50 128.15,251.37 128.90,251.00 C129.65,250.63 130.32,249.92 131.10,249.10 C131.88,248.28 132.87,246.35 133.60,246.10 C134.33,245.85 135.02,247.35 135.50,247.60 C135.98,247.85 136.03,247.85 136.50,247.60 C136.97,247.35 137.82,245.85 138.30,246.10 C138.78,246.35 138.97,247.00 139.40,249.10 C139.83,251.20 140.40,257.60 140.90,258.70 C141.40,259.80 141.90,256.07 142.40,255.70 C142.90,255.33 143.40,255.75 143.90,256.50 C144.40,257.25 144.78,259.95 145.40,260.20 C146.02,260.45 146.98,258.25 147.60,258.00 C148.22,257.75 148.48,258.08 149.10,258.70 C149.72,259.32 150.57,260.58 151.30,261.70 C152.03,262.82 152.88,264.92 153.50,265.40 C154.12,265.88 154.38,264.23 155.00,264.60 C155.62,264.97 156.47,267.22 157.20,267.60 C157.93,267.98 158.65,267.65 159.40,266.90 C160.15,266.15 160.95,265.20 161.70,263.10 C162.45,261.00 163.17,256.15 163.90,254.30 C164.63,252.45 165.37,251.88 166.10,252.00 C166.83,252.12 167.55,253.77 168.30,255.00 C169.05,256.23 169.98,258.28 170.60,259.40 C171.22,260.52 171.38,263.67 172.00,261.70 C172.62,259.73 173.55,249.83 174.30,247.60 C175.05,245.37 175.77,248.05 176.50,248.30 C177.23,248.55 178.08,247.87 178.70,249.10 C179.32,250.33 179.70,253.37 180.20,255.70 C180.70,258.03 181.22,262.23 181.70,263.10 C182.18,263.97 182.62,261.88 183.10,260.90 C183.58,259.92 184.10,256.95 184.60,257.20 C185.10,257.45 185.48,262.15 186.10,262.40 C186.72,262.65 187.43,260.43 188.30,258.70 C189.17,256.97 190.55,252.50 191.30,252.00 C192.05,251.50 192.07,255.70 192.80,255.70 C193.53,255.70 194.83,252.37 195.70,252.00 C196.57,251.63 197.25,253.37 198.00,253.50 C198.75,253.63 199.38,253.53 200.20,252.80 C201.02,252.07 202.17,247.75 202.90,249.10 C203.63,250.45 203.93,258.68 204.60,260.90 C205.27,263.12 206.15,262.40 206.90,262.40 C207.65,262.40 208.25,262.50 209.10,260.90 C209.95,259.30 211.08,254.77 212.00,252.80 C212.92,250.83 213.73,248.62 214.60,249.10 C215.47,249.58 216.52,253.37 217.20,255.70 C217.88,258.03 218.08,262.48 218.70,263.10 C219.32,263.72 220.28,260.38 220.90,259.40 C221.52,258.42 221.90,257.07 222.40,257.20 C222.90,257.33 223.35,260.57 223.90,260.20 C224.45,259.83 225.08,256.23 225.70,255.00 C226.32,253.77 227.02,252.55 227.60,252.80 C228.18,253.05 228.67,256.13 229.20,256.50 C229.73,256.87 230.22,254.77 230.80,255.00 C231.38,255.23 232.05,258.72 232.70,257.90 C233.35,257.08 233.88,252.03 234.70,250.10 C235.52,248.17 236.63,246.30 237.60,246.30 C238.57,246.30 239.38,248.65 240.50,250.10 C241.62,251.55 243.18,253.80 244.30,255.00 C245.42,256.20 246.38,258.12 247.20,257.30 C248.02,256.48 248.07,252.58 249.20,250.10 C250.33,247.62 252.72,243.20 254.00,242.40 C255.28,241.60 255.93,244.02 256.90,245.30 C257.87,246.58 258.83,250.75 259.80,250.10 C260.77,249.45 261.88,243.55 262.70,241.40 C263.52,239.25 264.05,236.72 264.70,237.20 C265.35,237.68 265.63,243.60 266.60,244.30 C267.57,245.00 269.22,242.78 270.50,241.40 C271.78,240.02 273.12,235.52 274.30,236.00 C275.48,236.48 276.63,245.00 277.60,244.30 C278.57,243.60 279.20,232.92 280.10,231.80 C281.00,230.68 282.03,236.25 283.00,237.60 C283.97,238.95 284.77,241.68 285.90,239.90 C287.03,238.12 288.67,226.48 289.80,226.90 C290.93,227.32 291.57,241.75 292.70,242.40 C293.83,243.05 295.15,231.93 296.60,230.80 C298.05,229.67 300.12,235.60 301.40,235.60 C302.68,235.60 303.17,231.28 304.30,230.80 C305.43,230.32 306.75,234.32 308.20,232.70 C309.65,231.08 311.72,221.58 313.00,221.10 C314.28,220.62 315.07,227.12 315.90,229.80 C316.73,232.48 317.32,236.60 318.00,237.20 C318.68,237.80 319.20,236.47 320.00,233.40 C320.80,230.33 322.00,222.83 322.80,218.80 C323.60,214.77 324.25,210.32 324.80,209.20 C325.35,208.08 325.62,209.03 326.10,212.10 C326.58,215.17 327.18,223.73 327.70,227.60 C328.22,231.47 328.62,234.98 329.20,235.30 C329.78,235.62 330.48,229.82 331.20,229.50 C331.92,229.18 332.73,232.60 333.50,233.40 C334.27,234.20 335.00,237.05 335.80,234.30 C336.60,231.55 337.57,219.15 338.30,216.90 C339.03,214.65 339.55,220.48 340.20,220.80 C340.85,221.12 341.38,220.10 342.20,218.80 C343.02,217.50 344.13,215.08 345.10,213.00 C346.07,210.92 347.20,205.48 348.00,206.30 C348.80,207.12 349.10,215.82 349.90,217.90 C350.70,219.98 351.83,221.07 352.80,218.80 C353.77,216.53 354.73,205.75 355.70,204.30 C356.67,202.85 357.78,207.83 358.60,210.10 C359.42,212.37 359.78,217.90 360.60,217.90 C361.42,217.90 362.53,209.62 363.50,210.10 C364.47,210.58 365.53,220.80 366.40,220.80 C367.27,220.80 367.80,214.13 368.70,210.10 C369.60,206.07 370.90,197.23 371.80,196.60 C372.70,195.97 373.23,205.33 374.10,206.30 C374.97,207.27 376.03,204.18 377.00,202.40 C377.97,200.62 378.93,194.95 379.90,195.60 C380.87,196.25 382.00,203.23 382.80,206.30 C383.60,209.37 384.05,214.48 384.70,214.00 C385.35,213.52 385.88,205.02 386.70,203.40 C387.52,201.78 388.80,203.02 389.60,204.30 C390.40,205.58 390.53,211.90 391.50,211.10 C392.47,210.30 394.27,200.47 395.40,199.50 C396.53,198.53 397.18,206.27 398.30,205.30 C399.42,204.33 401.03,193.87 402.10,193.70 C403.17,193.53 403.73,202.68 404.70,204.30 C405.67,205.92 406.88,204.37 407.90,203.40 C408.92,202.43 409.83,199.95 410.80,198.50 C411.77,197.05 412.92,194.85 413.70,194.70 C414.48,194.55 415.20,197.12 415.50,197.60" stroke="#f0242a" stroke-width="1.15" fill="none" stroke-linejoin="round"/>
<rect x="38.0" y="185.3" width="377.50" height="142.70" stroke="#4a4a4a" stroke-width="1.1" fill="none"/>
<line x1="75.50" y1="328.0" x2="75.50" y2="323.5" stroke="#333" stroke-width="1.2"/>
<line x1="75.50" y1="185.3" x2="75.50" y2="189.8" stroke="#333" stroke-width="1.2"/>
<line x1="151.50" y1="328.0" x2="151.50" y2="323.5" stroke="#333" stroke-width="1.2"/>
<line x1="151.50" y1="185.3" x2="151.50" y2="189.8" stroke="#333" stroke-width="1.2"/>
<line x1="226.50" y1="328.0" x2="226.50" y2="323.5" stroke="#333" stroke-width="1.2"/>
<line x1="226.50" y1="185.3" x2="226.50" y2="189.8" stroke="#333" stroke-width="1.2"/>
<line x1="302.50" y1="328.0" x2="302.50" y2="323.5" stroke="#333" stroke-width="1.2"/>
<line x1="302.50" y1="185.3" x2="302.50" y2="189.8" stroke="#333" stroke-width="1.2"/>
<line x1="377.50" y1="328.0" x2="377.50" y2="323.5" stroke="#333" stroke-width="1.2"/>
<line x1="377.50" y1="185.3" x2="377.50" y2="189.8" stroke="#333" stroke-width="1.2"/>
<line x1="38.0" y1="185.50" x2="42.5" y2="185.50" stroke="#333" stroke-width="1.2"/>
<line x1="415.5" y1="185.50" x2="411.0" y2="185.50" stroke="#333" stroke-width="1.2"/>
<line x1="38.0" y1="203.50" x2="42.5" y2="203.50" stroke="#333" stroke-width="1.2"/>
<line x1="415.5" y1="203.50" x2="411.0" y2="203.50" stroke="#333" stroke-width="1.2"/>
<line x1="38.0" y1="220.50" x2="42.5" y2="220.50" stroke="#333" stroke-width="1.2"/>
<line x1="415.5" y1="220.50" x2="411.0" y2="220.50" stroke="#333" stroke-width="1.2"/>
<line x1="38.0" y1="238.50" x2="42.5" y2="238.50" stroke="#333" stroke-width="1.2"/>
<line x1="415.5" y1="238.50" x2="411.0" y2="238.50" stroke="#333" stroke-width="1.2"/>
<line x1="38.0" y1="256.50" x2="42.5" y2="256.50" stroke="#333" stroke-width="1.2"/>
<line x1="415.5" y1="256.50" x2="411.0" y2="256.50" stroke="#333" stroke-width="1.2"/>
<line x1="38.0" y1="274.50" x2="42.5" y2="274.50" stroke="#333" stroke-width="1.2"/>
<line x1="415.5" y1="274.50" x2="411.0" y2="274.50" stroke="#333" stroke-width="1.2"/>
<line x1="38.0" y1="292.50" x2="42.5" y2="292.50" stroke="#333" stroke-width="1.2"/>
<line x1="415.5" y1="292.50" x2="411.0" y2="292.50" stroke="#333" stroke-width="1.2"/>
<line x1="38.0" y1="310.50" x2="42.5" y2="310.50" stroke="#333" stroke-width="1.2"/>
<line x1="415.5" y1="310.50" x2="411.0" y2="310.50" stroke="#333" stroke-width="1.2"/>
<line x1="38.0" y1="328.50" x2="42.5" y2="328.50" stroke="#333" stroke-width="1.2"/>
<line x1="415.5" y1="328.50" x2="411.0" y2="328.50" stroke="#333" stroke-width="1.2"/>
<text x="75.75" y="342.2" font-family="Liberation Sans, sans-serif" font-size="9" text-anchor="middle" fill="#1a1a1a" stroke="#1a1a1a" stroke-width="0.12">-4000</text>
<text x="151.25" y="342.2" font-family="Liberation Sans, sans-serif" font-size="9" text-anchor="middle" fill="#1a1a1a" stroke="#1a1a1a" stroke-width="0.12">-2000</text>
<text x="226.75" y="342.2" font-family="Liberation Sans, sans-serif" font-size="9" text-anchor="middle" fill="#1a1a1a" stroke="#1a1a1a" stroke-width="0.12">0</text>
<text x="302.25" y="342.2" font-family="Liberation Sans, sans-serif" font-size="9" text-anchor="middle" fill="#1a1a1a" stroke="#1a1a1a" stroke-width="0.12">2000</text>
<text x="377.75" y="342.2" font-family="Liberation Sans, sans-serif" font-size="9" text-anchor="middle" fill="#1a1a1a" stroke="#1a1a1a" stroke-width="0.12">4000</text>
<text x="33.5" y="188.70" font-family="Liberation Sans, sans-serif" font-size="9" text-anchor="end" fill="#1a1a1a" stroke="#1a1a1a" stroke-width="0.12">31</text>
<text x="33.5" y="206.54" font-family="Liberation Sans, sans-serif" font-size="9" text-anchor="end" fill="#1a1a1a" stroke="#1a1a1a" stroke-width="0.12">30</text>
<text x="33.5" y="224.38" font-family="Liberation Sans, sans-serif" font-size="9" text-anchor="end" fill="#1a1a1a" stroke="#1a1a1a" stroke-width="0.12">29</text>
<text x="33.5" y="242.21" font-family="Liberation Sans, sans-serif" font-size="9" text-anchor="end" fill="#1a1a1a" stroke="#1a1a1a" stroke-width="0.12">28</text>
<text x="33.5" y="260.05" font-family="Liberation Sans, sans-serif" font-size="9" text-anchor="end" fill="#1a1a1a" stroke="#1a1a1a" stroke-width="0.12">27</text>
<text x="33.5" y="277.89" font-family="Liberation Sans, sans-serif" font-size="9" text-anchor="end" fill="#1a1a1a" stroke="#1a1a1a" stroke-width="0.12">26</text>
<text x="33.5" y="295.72" font-family="Liberation Sans, sans-serif" font-size="9" text-anchor="end" fill="#1a1a1a" stroke="#1a1a1a" stroke-width="0.12">25</text>
<text x="33.5" y="313.56" font-family="Liberation Sans, sans-serif" font-size="9" text-anchor="end" fill="#1a1a1a" stroke="#1a1a1a" stroke-width="0.12">24</text>
<text x="33.5" y="331.40" font-family="Liberation Sans, sans-serif" font-size="9" text-anchor="end" fill="#1a1a1a" stroke="#1a1a1a" stroke-width="0.12">23</text>
<text x="228" y="356.5" font-family="Liberation Serif, serif" stroke="#111" stroke-width="0.12" font-size="14" text-anchor="middle" fill="#111">time [s]</text>
<text transform="translate(16.4,249.1) rotate(-90)" font-family="Liberation Serif, serif" stroke="#111" stroke-width="0.12" font-size="16" text-anchor="middle" fill="#111">T [°C]</text>
<text x="45.5" y="200" font-family="Liberation Serif, serif" stroke="#111" stroke-width="0.12" font-size="14" fill="#111">b)</text>
<line x1="515.50" y1="186.8" x2="515.50" y2="325.4" stroke="#8c8c8c" stroke-width="1" stroke-dasharray="1 2" fill="none"/>
<line x1="564.50" y1="186.8" x2="564.50" y2="325.4" stroke="#8c8c8c" stroke-width="1" stroke-dasharray="1 2" fill="none"/>
<line x1="614.50" y1="186.8" x2="614.50" y2="325.4" stroke="#8c8c8c" stroke-width="1" stroke-dasharray="1 2" fill="none"/>
<line x1="467.7" y1="202.50" x2="663.3" y2="202.50" stroke="#b4b4b4" stroke-width="1" stroke-dasharray="1 1.7" fill="none"/>
<line x1="467.7" y1="220.50" x2="663.3" y2="220.50" stroke="#b4b4b4" stroke-width="1" stroke-dasharray="1 1.7" fill="none"/>
<line x1="467.7" y1="237.50" x2="663.3" y2="237.50" stroke="#b4b4b4" stroke-width="1" stroke-dasharray="1 1.7" fill="none"/>
<line x1="467.7" y1="255.50" x2="663.3" y2="255.50" stroke="#b4b4b4" stroke-width="1" stroke-dasharray="1 1.7" fill="none"/>
<line x1="467.7" y1="272.50" x2="663.3" y2="272.50" stroke="#b4b4b4" stroke-width="1" stroke-dasharray="1 1.7" fill="none"/>
<line x1="467.7" y1="290.50" x2="663.3" y2="290.50" stroke="#b4b4b4" stroke-width="1" stroke-dasharray="1 1.7" fill="none"/>
<line x1="467.7" y1="307.50" x2="663.3" y2="307.50" stroke="#b4b4b4" stroke-width="1" stroke-dasharray="1 1.7" fill="none"/>
<line x1="515.5" y1="185.3" x2="515.5" y2="325.4" stroke="#222" stroke-width="1"/>
<line x1="537.6" y1="185.3" x2="537.6" y2="325.4" stroke="#222" stroke-width="1"/>
<line x1="466.2" y1="275" x2="663.3" y2="275" stroke="#f01c1c" stroke-width="1.6" stroke-dasharray="5 3"/>
<line x1="466.2" y1="320.2" x2="663.3" y2="195" stroke="#f01c1c" stroke-width="1.6" stroke-dasharray="1.6 1.6"/>
<path d="M466.20,278.00 C466.75,278.77 468.53,282.47 469.50,282.60 C470.47,282.73 471.05,280.12 472.00,278.80 C472.95,277.48 474.25,276.35 475.20,274.70 C476.15,273.05 476.87,270.50 477.70,268.90 C478.53,267.30 479.45,265.92 480.20,265.10 C480.95,264.28 481.65,265.15 482.20,264.00 C482.75,262.85 482.95,260.13 483.50,258.20 C484.05,256.27 484.88,253.10 485.50,252.40 C486.12,251.70 486.70,251.93 487.20,254.00 C487.70,256.07 488.00,263.83 488.50,264.80 C489.00,265.77 489.65,260.90 490.20,259.80 C490.75,258.70 491.32,257.92 491.80,258.20 C492.28,258.48 492.55,259.58 493.10,261.50 C493.65,263.42 494.43,269.43 495.10,269.70 C495.77,269.97 496.55,264.33 497.10,263.10 C497.65,261.87 497.90,261.75 498.40,262.30 C498.90,262.85 499.55,264.05 500.10,266.40 C500.65,268.75 501.15,273.63 501.70,276.40 C502.25,279.17 502.90,281.22 503.40,283.00 C503.90,284.78 504.28,286.83 504.70,287.10 C505.12,287.37 505.43,285.83 505.90,284.60 C506.37,283.37 506.95,280.93 507.50,279.70 C508.05,278.47 508.63,279.13 509.20,277.20 C509.77,275.27 510.35,270.87 510.90,268.10 C511.45,265.33 511.95,261.98 512.50,260.60 C513.05,259.22 513.50,259.65 514.20,259.80 C514.90,259.95 515.88,260.95 516.70,261.50 C517.52,262.05 518.42,262.00 519.10,263.10 C519.78,264.20 520.17,266.30 520.80,268.10 C521.43,269.90 522.22,273.35 522.90,273.90 C523.58,274.45 524.15,273.20 524.90,271.40 C525.65,269.60 526.57,265.03 527.40,263.10 C528.23,261.17 528.93,261.03 529.90,259.80 C530.87,258.57 532.23,255.97 533.20,255.70 C534.17,255.43 534.85,256.70 535.70,258.20 C536.55,259.70 537.45,263.48 538.30,264.70 C539.15,265.92 539.97,264.95 540.80,265.50 C541.63,266.05 542.47,268.13 543.30,268.00 C544.13,267.87 544.98,265.58 545.80,264.70 C546.62,263.82 547.38,262.43 548.20,262.70 C549.02,262.97 549.92,265.00 550.70,266.30 C551.48,267.60 552.20,270.08 552.90,270.50 C553.60,270.92 554.15,269.50 554.90,268.80 C555.65,268.10 556.58,267.40 557.40,266.30 C558.22,265.20 558.98,263.57 559.80,262.20 C560.62,260.83 561.47,259.12 562.30,258.10 C563.13,257.08 563.97,256.93 564.80,256.10 C565.63,255.27 566.60,253.73 567.30,253.10 C568.00,252.47 568.45,253.13 569.00,252.30 C569.55,251.47 569.97,249.35 570.60,248.10 C571.23,246.85 572.17,245.22 572.80,244.80 C573.43,244.38 573.80,245.93 574.40,245.60 C575.00,245.27 575.73,243.07 576.40,242.80 C577.07,242.53 577.72,243.12 578.40,244.00 C579.08,244.88 579.78,246.58 580.50,248.10 C581.22,249.62 582.05,251.58 582.70,253.10 C583.35,254.62 583.85,257.07 584.40,257.20 C584.95,257.33 585.40,254.58 586.00,253.90 C586.60,253.22 587.25,253.45 588.00,253.10 C588.75,252.75 589.67,252.22 590.50,251.80 C591.33,251.38 592.17,251.48 593.00,250.60 C593.83,249.72 594.73,247.72 595.50,246.50 C596.27,245.28 596.92,244.68 597.60,243.30 C598.28,241.92 598.98,239.75 599.60,238.20 C600.22,236.65 600.70,235.10 601.30,234.00 C601.90,232.90 602.65,231.73 603.20,231.60 C603.75,231.47 603.97,232.38 604.60,233.20 C605.23,234.02 606.18,235.53 607.00,236.50 C607.82,237.47 608.67,238.33 609.50,239.00 C610.33,239.67 611.23,240.93 612.00,240.50 C612.77,240.07 613.60,237.63 614.10,236.40 C614.60,235.17 614.45,234.27 615.00,233.10 C615.55,231.93 616.58,231.07 617.40,229.40 C618.22,227.73 619.20,224.83 619.90,223.10 C620.60,221.37 621.05,219.42 621.60,219.00 C622.15,218.58 622.65,221.02 623.20,220.60 C623.75,220.18 624.35,218.02 624.90,216.50 C625.45,214.98 625.95,212.20 626.50,211.50 C627.05,210.80 627.63,212.57 628.20,212.30 C628.77,212.03 629.22,210.58 629.90,209.90 C630.58,209.22 631.62,208.20 632.30,208.20 C632.98,208.20 633.43,208.93 634.00,209.90 C634.57,210.87 635.15,212.07 635.70,214.00 C636.25,215.93 636.75,219.02 637.30,221.50 C637.85,223.98 638.53,226.97 639.00,228.90 C639.47,230.83 639.55,232.68 640.10,233.10 C640.65,233.52 641.65,232.10 642.30,231.40 C642.95,230.70 643.45,230.42 644.00,228.90 C644.55,227.38 644.97,224.37 645.60,222.30 C646.23,220.23 647.25,218.17 647.80,216.50 C648.35,214.83 648.52,214.52 648.90,212.30 C649.28,210.08 649.68,206.10 650.10,203.20 C650.52,200.30 650.90,196.83 651.40,194.90 C651.90,192.97 652.55,191.87 653.10,191.60 C653.65,191.33 654.15,192.33 654.70,193.30 C655.25,194.27 655.85,196.17 656.40,197.40 C656.95,198.63 657.45,199.73 658.00,200.70 C658.55,201.67 659.13,202.92 659.70,203.20 C660.27,203.48 660.90,203.08 661.40,202.40 C661.90,201.72 662.48,199.65 662.70,199.10" stroke="#000" stroke-width="1.8" fill="none" stroke-linejoin="round" stroke-linecap="round"/>
<rect x="466.2" y="185.3" width="197.10" height="140.10" stroke="#4a4a4a" stroke-width="1.1" fill="none"/>
<line x1="466.50" y1="325.4" x2="466.50" y2="320.9" stroke="#333" stroke-width="1.2"/>
<line x1="466.50" y1="185.3" x2="466.50" y2="189.8" stroke="#333" stroke-width="1.2"/>
<line x1="515.50" y1="325.4" x2="515.50" y2="320.9" stroke="#333" stroke-width="1.2"/>
<line x1="515.50" y1="185.3" x2="515.50" y2="189.8" stroke="#333" stroke-width="1.2"/>
<line x1="564.50" y1="325.4" x2="564.50" y2="320.9" stroke="#333" stroke-width="1.2"/>
<line x1="564.50" y1="185.3" x2="564.50" y2="189.8" stroke="#333" stroke-width="1.2"/>
<line x1="614.50" y1="325.4" x2="614.50" y2="320.9" stroke="#333" stroke-width="1.2"/>
<line x1="614.50" y1="185.3" x2="614.50" y2="189.8" stroke="#333" stroke-width="1.2"/>
<line x1="663.50" y1="325.4" x2="663.50" y2="320.9" stroke="#333" stroke-width="1.2"/>
<line x1="663.50" y1="185.3" x2="663.50" y2="189.8" stroke="#333" stroke-width="1.2"/>
<line x1="466.2" y1="185.50" x2="470.7" y2="185.50" stroke="#333" stroke-width="1.2"/>
<line x1="663.3" y1="185.50" x2="658.8" y2="185.50" stroke="#333" stroke-width="1.2"/>
<line x1="466.2" y1="202.50" x2="470.7" y2="202.50" stroke="#333" stroke-width="1.2"/>
<line x1="663.3" y1="202.50" x2="658.8" y2="202.50" stroke="#333" stroke-width="1.2"/>
<line x1="466.2" y1="220.50" x2="470.7" y2="220.50" stroke="#333" stroke-width="1.2"/>
<line x1="663.3" y1="220.50" x2="658.8" y2="220.50" stroke="#333" stroke-width="1.2"/>
<line x1="466.2" y1="237.50" x2="470.7" y2="237.50" stroke="#333" stroke-width="1.2"/>
<line x1="663.3" y1="237.50" x2="658.8" y2="237.50" stroke="#333" stroke-width="1.2"/>
<line x1="466.2" y1="255.50" x2="470.7" y2="255.50" stroke="#333" stroke-width="1.2"/>
<line x1="663.3" y1="255.50" x2="658.8" y2="255.50" stroke="#333" stroke-width="1.2"/>
<line x1="466.2" y1="272.50" x2="470.7" y2="272.50" stroke="#333" stroke-width="1.2"/>
<line x1="663.3" y1="272.50" x2="658.8" y2="272.50" stroke="#333" stroke-width="1.2"/>
<line x1="466.2" y1="290.50" x2="470.7" y2="290.50" stroke="#333" stroke-width="1.2"/>
<line x1="663.3" y1="290.50" x2="658.8" y2="290.50" stroke="#333" stroke-width="1.2"/>
<line x1="466.2" y1="307.50" x2="470.7" y2="307.50" stroke="#333" stroke-width="1.2"/>
<line x1="663.3" y1="307.50" x2="658.8" y2="307.50" stroke="#333" stroke-width="1.2"/>
<line x1="466.2" y1="325.50" x2="470.7" y2="325.50" stroke="#333" stroke-width="1.2"/>
<line x1="663.3" y1="325.50" x2="658.8" y2="325.50" stroke="#333" stroke-width="1.2"/>
<text x="466.20" y="340.2" font-family="Liberation Sans, sans-serif" font-size="9" text-anchor="middle" fill="#1a1a1a" stroke="#1a1a1a" stroke-width="0.12">-500</text>
<text x="515.48" y="340.2" font-family="Liberation Sans, sans-serif" font-size="9" text-anchor="middle" fill="#1a1a1a" stroke="#1a1a1a" stroke-width="0.12">0</text>
<text x="564.75" y="340.2" font-family="Liberation Sans, sans-serif" font-size="9" text-anchor="middle" fill="#1a1a1a" stroke="#1a1a1a" stroke-width="0.12">500</text>
<text x="614.02" y="340.2" font-family="Liberation Sans, sans-serif" font-size="9" text-anchor="middle" fill="#1a1a1a" stroke="#1a1a1a" stroke-width="0.12">1000</text>
<text x="663.30" y="340.2" font-family="Liberation Sans, sans-serif" font-size="9" text-anchor="middle" fill="#1a1a1a" stroke="#1a1a1a" stroke-width="0.12">1500</text>
<text x="462.3" y="188.70" font-family="Liberation Sans, sans-serif" font-size="9" text-anchor="end" fill="#1a1a1a" stroke="#1a1a1a" stroke-width="0.12">25.8</text>
<text x="462.3" y="206.21" font-family="Liberation Sans, sans-serif" font-size="9" text-anchor="end" fill="#1a1a1a" stroke="#1a1a1a" stroke-width="0.12">25.6</text>
<text x="462.3" y="223.73" font-family="Liberation Sans, sans-serif" font-size="9" text-anchor="end" fill="#1a1a1a" stroke="#1a1a1a" stroke-width="0.12">25.4</text>
<text x="462.3" y="241.24" font-family="Liberation Sans, sans-serif" font-size="9" text-anchor="end" fill="#1a1a1a" stroke="#1a1a1a" stroke-width="0.12">25.2</text>
<text x="462.3" y="258.75" font-family="Liberation Sans, sans-serif" font-size="9" text-anchor="end" fill="#1a1a1a" stroke="#1a1a1a" stroke-width="0.12">25</text>
<text x="462.3" y="276.26" font-family="Liberation Sans, sans-serif" font-size="9" text-anchor="end" fill="#1a1a1a" stroke="#1a1a1a" stroke-width="0.12">24.8</text>
<text x="462.3" y="293.77" font-family="Liberation Sans, sans-serif" font-size="9" text-anchor="end" fill="#1a1a1a" stroke="#1a1a1a" stroke-width="0.12">24.6</text>
<text x="462.3" y="311.29" font-family="Liberation Sans, sans-serif" font-size="9" text-anchor="end" fill="#1a1a1a" stroke="#1a1a1a" stroke-width="0.12">24.4</text>
<text x="462.3" y="328.80" font-family="Liberation Sans, sans-serif" font-size="9" text-anchor="end" fill="#1a1a1a" stroke="#1a1a1a" stroke-width="0.12">24.2</text>
<text x="559.5" y="357" font-family="Liberation Serif, serif" stroke="#111" stroke-width="0.12" font-size="14" text-anchor="middle" fill="#111">time [s]</text>
<text transform="translate(437.8,257) rotate(-90)" font-family="Liberation Serif, serif" stroke="#111" stroke-width="0.12" font-size="16" text-anchor="middle" fill="#111">T [°C]</text>
<text x="472.5" y="199" font-family="Liberation Serif, serif" stroke="#111" stroke-width="0.12" font-size="14" fill="#111">d)</text>
<text x="516.6" y="304.4" font-family="Liberation Serif, serif" stroke="#111" stroke-width="0.12" font-size="10" textLength="19.8" lengthAdjust="spacingAndGlyphs" fill="#222">212 s</text>
<defs>
<filter id="wobA" x="-20%" y="-20%" width="140%" height="140%"><feTurbulence type="fractalNoise" baseFrequency="0.09" numOctaves="3" seed="4" result="t"/><feDisplacementMap in="SourceGraphic" in2="t" scale="6" xChannelSelector="R" yChannelSelector="G" result="d"/><feGaussianBlur in="d" stdDeviation="1.3"/></filter>
<filter id="wobB" x="-30%" y="-30%" width="160%" height="160%"><feTurbulence type="fractalNoise" baseFrequency="0.13" numOctaves="3" seed="9" result="t"/><feDisplacementMap in="SourceGraphic" in2="t" scale="10" xChannelSelector="R" yChannelSelector="G" result="d"/><feGaussianBlur in="d" stdDeviation="0.8"/></filter>
<filter id="wobC" x="-20%" y="-20%" width="140%" height="140%"><feTurbulence type="fractalNoise" baseFrequency="0.07" numOctaves="2" seed="2" result="t"/><feDisplacementMap in="SourceGraphic" in2="t" scale="6" xChannelSelector="R" yChannelSelector="G" result="d"/><feGaussianBlur in="d" stdDeviation="0.6"/></filter>
<filter id="bl1"><feGaussianBlur stdDeviation="0.8"/></filter>
<filter id="mottle" x="0" y="0" width="100%" height="100%"><feTurbulence type="fractalNoise" baseFrequency="0.08" numOctaves="3" seed="11"/><feColorMatrix type="matrix" values="0 0 0 0 1  0 0 0 0 1  0 0 0 0 1  2.8 0 0 0 -1.25"/></filter>
<filter id="mottleD" x="0" y="0" width="100%" height="100%"><feTurbulence type="fractalNoise" baseFrequency="0.06" numOctaves="2" seed="31"/><feColorMatrix type="matrix" values="0 0 0 0 1  0 0 0 0 1  0 0 0 0 1  0 2.4 0 0 -0.9"/></filter>
<filter id="mottle2" x="0" y="0" width="100%" height="100%"><feTurbulence type="fractalNoise" baseFrequency="0.09" numOctaves="3" seed="5"/><feColorMatrix type="matrix" values="0 0 0 0 1  0 0 0 0 1  0 0 0 0 1  2.4 0 0 0 -1.0"/></filter>
<filter id="mottle3" x="0" y="0" width="100%" height="100%"><feTurbulence type="fractalNoise" baseFrequency="0.08" numOctaves="2" seed="15"/><feColorMatrix type="matrix" values="0 0 0 0 1  0 0 0 0 1  0 0 0 0 1  2.8 0 0 0 -1.05"/></filter>
<linearGradient id="orA" x1="0" y1="0" x2="1" y2="0"><stop offset="0" stop-color="#f2a52c"/><stop offset="0.72" stop-color="#f4ae3a"/><stop offset="0.88" stop-color="#f8d08e"/><stop offset="1" stop-color="#fbe6b8"/></linearGradient>
<radialGradient id="orB" cx="0.5" cy="0.5" r="0.5"><stop offset="0.84" stop-color="#f6a02a"/><stop offset="0.88" stop-color="#f39012"/><stop offset="0.96" stop-color="#f28e12"/><stop offset="1" stop-color="#f4a640"/></radialGradient>
<radialGradient id="orB2" cx="0.5" cy="0.5" r="0.5"><stop offset="0.6" stop-color="#f7b85e"/><stop offset="0.8" stop-color="#f5a743"/><stop offset="1" stop-color="#f49c30"/></radialGradient>
<radialGradient id="inB" cx="0.45" cy="0.45" r="0.55"><stop offset="0" stop-color="#96cdea"/><stop offset="1" stop-color="#80bfe2"/></radialGradient>
<clipPath id="clipA"><circle cx="499.7" cy="78.5" r="41.9"/></clipPath>
<clipPath id="clipB"><circle cx="612.4" cy="78" r="41.8"/></clipPath>
<mask id="mkA"><rect x="456" y="35" width="88" height="88" fill="#fff" filter="url(#mottle)"/></mask>
<mask id="mkAD"><rect x="456" y="35" width="88" height="88" fill="#fff" filter="url(#mottleD)"/></mask>
<mask id="mkB"><rect x="568" y="34" width="88" height="88" fill="#fff" filter="url(#mottle2)"/></mask>
<mask id="mkB3"><rect x="568" y="34" width="88" height="88" fill="#fff" filter="url(#mottle3)"/></mask>
</defs>
<rect x="445.6" y="25.3" width="108.8" height="105.4" fill="#000"/>
<rect x="558" y="25.3" width="108.8" height="105.4" fill="#000"/>
<ellipse cx="499.7" cy="78.8" rx="51.6" ry="51.0" fill="#fbe3b0"/>
<ellipse cx="499.7" cy="78.8" rx="50.6" ry="50.0" fill="url(#orA)"/>
<circle cx="499.7" cy="78.5" r="43.6" fill="#eef6fc"/>
<circle cx="499.7" cy="78.5" r="42.5" fill="none" stroke="#5aaae0" stroke-width="1.4"/>
<g clip-path="url(#clipA)">
<circle cx="499.7" cy="78.5" r="38" fill="none" stroke="#f7d9a2" stroke-width="4.2" filter="url(#wobC)"/>
<path d="M535.08,78.50 L535.54,79.75 L536.03,81.04 L536.46,82.36 L536.73,83.70 L536.79,85.04 L536.58,86.34 L536.09,87.57 L535.34,88.72 L534.37,89.76 L533.25,90.71 L532.06,91.58 L530.89,92.39 L529.80,93.18 L528.86,94.00 L528.08,94.88 L527.47,95.85 L527.01,96.92 L526.67,98.09 L526.38,99.34 L526.10,100.65 L525.77,101.97 L525.35,103.27 L524.82,104.51 L524.16,105.67 L523.37,106.71 L522.47,107.65 L521.47,108.46 L520.39,109.17 L519.25,109.78 L518.07,110.32 L516.87,110.79 L515.66,111.21 L514.44,111.60 L513.22,111.97 L512.01,112.33 L510.81,112.71 L509.62,113.11 L508.44,113.56 L507.26,114.07 L506.07,114.65 L504.87,115.29 L503.64,116.00 L502.37,116.72 L501.06,117.43 L499.70,118.06 L498.30,118.56 L496.88,118.87 L495.45,118.94 L494.04,118.74 L492.69,118.26 L491.40,117.53 L490.21,116.57 L489.10,115.47 L488.07,114.30 L487.10,113.13 L486.15,112.04 L485.20,111.07 L484.20,110.27 L483.14,109.64 L482.01,109.14 L480.81,108.72 L479.58,108.34 L478.33,107.91 L477.14,107.38 L476.04,106.70 L475.08,105.85 L474.28,104.82 L473.67,103.64 L473.22,102.34 L472.91,100.98 L472.67,99.62 L472.46,98.29 L472.20,97.05 L471.85,95.90 L471.37,94.86 L470.73,93.90 L469.95,93.01 L469.04,92.15 L468.05,91.29 L467.03,90.39 L466.04,89.44 L465.14,88.41 L464.35,87.31 L463.72,86.15 L463.24,84.93 L462.93,83.67 L462.75,82.38 L462.70,81.09 L462.74,79.79 L462.86,78.50 L463.03,77.22 L463.23,75.95 L463.45,74.69 L463.69,73.44 L463.93,72.19 L464.16,70.95 L464.37,69.69 L464.56,68.42 L464.72,67.13 L464.84,65.81 L464.93,64.45 L465.01,63.06 L465.12,61.63 L465.28,60.20 L465.54,58.78 L465.94,57.40 L466.51,56.11 L467.28,54.95 L468.26,53.93 L469.42,53.10 L470.75,52.43 L472.19,51.93 L473.68,51.55 L475.16,51.24 L476.58,50.94 L477.89,50.59 L479.08,50.12 L480.14,49.50 L481.09,48.72 L481.96,47.78 L482.80,46.72 L483.66,45.62 L484.58,44.54 L485.59,43.58 L486.71,42.81 L487.94,42.30 L489.25,42.06 L490.63,42.12 L492.03,42.43 L493.43,42.95 L494.79,43.59 L496.10,44.28 L497.35,44.93 L498.55,45.47 L499.70,45.85 L500.83,46.05 L501.97,46.07 L503.12,45.94 L504.31,45.70 L505.54,45.41 L506.80,45.11 L508.09,44.86 L509.39,44.70 L510.70,44.65 L512.00,44.71 L513.27,44.90 L514.53,45.20 L515.75,45.59 L516.95,46.06 L518.12,46.59 L519.27,47.19 L520.39,47.83 L521.48,48.52 L522.55,49.26 L523.59,50.03 L524.61,50.83 L525.62,51.65 L526.63,52.49 L527.65,53.34 L528.68,54.19 L529.73,55.04 L530.80,55.91 L531.87,56.80 L532.92,57.74 L533.91,58.75 L534.80,59.84 L535.54,61.02 L536.10,62.30 L536.44,63.66 L536.55,65.09 L536.45,66.56 L536.18,68.04 L535.79,69.50 L535.35,70.92 L534.94,72.29 L534.63,73.59 L534.47,74.85 L534.49,76.07 L534.71,77.28Z" fill="#cfe7f7" filter="url(#wobA)"/>
<path d="M533.16,78.50 L532.90,79.66 L532.63,80.80 L532.38,81.94 L532.19,83.07 L532.05,84.20 L531.98,85.36 L531.95,86.54 L531.94,87.74 L531.92,88.97 L531.85,90.20 L531.71,91.43 L531.47,92.65 L531.11,93.82 L530.64,94.95 L530.04,96.01 L529.32,97.01 L528.52,97.94 L527.63,98.79 L526.69,99.59 L525.71,100.32 L524.71,101.02 L523.72,101.69 L522.74,102.36 L521.80,103.05 L520.90,103.77 L520.05,104.54 L519.23,105.38 L518.43,106.26 L517.63,107.19 L516.81,108.14 L515.95,109.07 L515.04,109.94 L514.05,110.73 L513.00,111.41 L511.88,111.96 L510.71,112.40 L509.52,112.74 L508.31,113.01 L507.09,113.26 L505.87,113.52 L504.66,113.80 L503.44,114.13 L502.22,114.48 L500.97,114.81 L499.70,115.09 L498.42,115.24 L497.13,115.22 L495.86,114.99 L494.63,114.54 L493.46,113.88 L492.36,113.04 L491.33,112.08 L490.36,111.08 L489.43,110.11 L488.51,109.24 L487.58,108.50 L486.60,107.93 L485.55,107.52 L484.42,107.23 L483.23,107.02 L481.99,106.85 L480.71,106.65 L479.45,106.37 L478.24,105.97 L477.09,105.44 L476.05,104.77 L475.12,103.95 L474.32,103.01 L473.64,101.97 L473.07,100.85 L472.59,99.68 L472.19,98.49 L471.84,97.29 L471.51,96.11 L471.19,94.96 L470.83,93.85 L470.43,92.77 L469.97,91.73 L469.45,90.72 L468.86,89.73 L468.21,88.73 L467.55,87.72 L466.88,86.68 L466.24,85.61 L465.67,84.50 L465.18,83.35 L464.78,82.17 L464.48,80.96 L464.27,79.74 L464.13,78.50 L464.06,77.26 L464.05,76.01 L464.08,74.76 L464.17,73.51 L464.33,72.26 L464.58,71.04 L464.94,69.83 L465.41,68.67 L466.01,67.55 L466.71,66.49 L467.48,65.48 L468.29,64.52 L469.09,63.57 L469.84,62.62 L470.51,61.65 L471.08,60.62 L471.57,59.52 L471.99,58.36 L472.38,57.15 L472.79,55.92 L473.27,54.70 L473.86,53.55 L474.59,52.49 L475.46,51.57 L476.46,50.80 L477.57,50.18 L478.77,49.69 L480.00,49.29 L481.24,48.95 L482.46,48.64 L483.65,48.32 L484.81,47.97 L485.94,47.60 L487.06,47.21 L488.17,46.83 L489.29,46.47 L490.43,46.17 L491.58,45.95 L492.75,45.80 L493.92,45.75 L495.10,45.76 L496.27,45.83 L497.42,45.93 L498.57,46.04 L499.70,46.12 L500.83,46.16 L501.96,46.14 L503.11,46.05 L504.28,45.90 L505.48,45.69 L506.73,45.45 L508.01,45.19 L509.32,44.95 L510.66,44.77 L512.00,44.71 L513.32,44.78 L514.60,45.04 L515.79,45.51 L516.89,46.18 L517.86,47.04 L518.72,48.06 L519.47,49.19 L520.14,50.37 L520.76,51.54 L521.39,52.65 L522.07,53.65 L522.84,54.54 L523.72,55.30 L524.72,55.97 L525.82,56.59 L526.97,57.19 L528.15,57.83 L529.27,58.55 L530.30,59.38 L531.20,60.31 L531.93,61.36 L532.50,62.50 L532.91,63.71 L533.20,64.96 L533.40,66.23 L533.53,67.51 L533.63,68.77 L533.71,70.02 L533.77,71.26 L533.80,72.49 L533.79,73.71 L533.73,74.92 L533.60,76.13 L533.40,77.32Z" fill="#2189d0" filter="url(#wobA)"/>
<circle cx="499.7" cy="78.5" r="33" fill="#0d6fb8" mask="url(#mkAD)" opacity="0.6" filter="url(#bl1)"/>
<circle cx="499.7" cy="78.5" r="36" fill="#88c6ec" mask="url(#mkA)" opacity="0.85"/>
</g>
<circle cx="499.3" cy="78.6" r="15.8" fill="#0b2a8f" stroke="#061a5e" stroke-width="1.2"/>
<ellipse cx="612.4" cy="78.7" rx="51.9" ry="50.8" fill="#f7b050"/>
<ellipse cx="612.4" cy="78.7" rx="51.3" ry="50.3" fill="none" stroke="#8fd0f0" stroke-width="1.1" stroke-dasharray="0 40 60 40 70 40 80 100" opacity="0.9"/>
<ellipse cx="612.4" cy="78.7" rx="50.7" ry="49.8" fill="url(#orB)"/>
<circle cx="612.4" cy="78" r="42.5" fill="none" stroke="#72bfe8" stroke-width="1.6"/>
<circle cx="612.4" cy="78" r="43.6" fill="none" stroke="#f6c070" stroke-width="0.8"/>
<circle cx="612.4" cy="78" r="41.7" fill="url(#orB2)"/>
<g clip-path="url(#clipB)">
<circle cx="612.4" cy="78" r="40" fill="#fcdcaa" mask="url(#mkB3)" opacity="0.75"/>
<path d="M646.68,78.00 L646.81,79.20 L646.64,80.39 L646.25,81.56 L645.77,82.69 L645.32,83.80 L644.95,84.92 L644.63,86.04 L644.27,87.14 L643.74,88.18 L642.90,89.10 L641.70,89.84 L640.18,90.37 L638.46,90.71 L636.76,90.95 L635.30,91.22 L634.29,91.68 L633.83,92.45 L633.88,93.61 L634.32,95.13 L634.93,96.90 L635.46,98.76 L635.70,100.50 L635.52,101.94 L634.90,102.99 L633.91,103.63 L632.68,103.96 L631.38,104.12 L630.12,104.28 L629.00,104.57 L628.02,105.05 L627.14,105.71 L626.28,106.46 L625.39,107.18 L624.42,107.75 L623.36,108.12 L622.25,108.30 L621.10,108.36 L619.98,108.39 L618.88,108.49 L617.81,108.70 L616.76,109.00 L615.69,109.30 L614.60,109.50 L613.50,109.49 L612.40,109.23 L611.33,108.75 L610.29,108.21 L609.27,107.78 L608.23,107.65 L607.12,107.97 L605.86,108.75 L604.45,109.90 L602.89,111.18 L601.26,112.29 L599.68,112.96 L598.28,112.95 L597.19,112.17 L596.47,110.67 L596.11,108.64 L596.03,106.36 L596.09,104.10 L596.14,102.11 L596.02,100.55 L595.65,99.43 L595.02,98.71 L594.16,98.25 L593.16,97.93 L592.09,97.62 L591.01,97.26 L589.93,96.85 L588.83,96.41 L587.65,95.98 L586.37,95.56 L584.98,95.13 L583.58,94.64 L582.28,94.01 L581.25,93.19 L580.61,92.15 L580.45,90.91 L580.73,89.53 L581.34,88.09 L582.07,86.70 L582.71,85.40 L583.08,84.23 L583.09,83.17 L582.76,82.17 L582.23,81.17 L581.70,80.15 L581.39,79.08 L581.46,78.00 L581.95,76.94 L582.79,75.93 L583.79,74.99 L584.71,74.11 L585.32,73.23 L585.46,72.27 L585.07,71.19 L584.26,69.93 L583.20,68.51 L582.12,66.98 L581.26,65.42 L580.76,63.91 L580.70,62.54 L581.04,61.32 L581.68,60.27 L582.52,59.33 L583.44,58.46 L584.38,57.64 L585.35,56.87 L586.40,56.18 L587.55,55.63 L588.85,55.26 L590.27,55.08 L591.73,55.05 L593.14,55.05 L594.39,54.95 L595.39,54.59 L596.13,53.88 L596.66,52.82 L597.09,51.48 L597.54,50.05 L598.13,48.75 L598.95,47.78 L599.99,47.30 L601.23,47.31 L602.56,47.70 L603.88,48.28 L605.12,48.79 L606.23,48.98 L607.24,48.72 L608.18,47.99 L609.13,46.91 L610.14,45.71 L611.24,44.66 L612.40,44.01 L613.59,43.89 L614.75,44.36 L615.83,45.32 L616.81,46.59 L617.69,47.97 L618.51,49.26 L619.30,50.34 L620.10,51.16 L620.93,51.75 L621.80,52.18 L622.70,52.50 L623.64,52.75 L624.64,52.91 L625.74,52.92 L626.99,52.73 L628.45,52.32 L630.12,51.72 L631.98,51.05 L633.91,50.47 L635.75,50.18 L637.30,50.35 L638.40,51.08 L638.95,52.36 L638.95,54.09 L638.51,56.09 L637.84,58.12 L637.18,59.99 L636.76,61.57 L636.73,62.79 L637.15,63.71 L637.95,64.42 L638.96,65.04 L640.01,65.71 L640.90,66.48 L641.55,67.39 L641.94,68.40 L642.14,69.47 L642.31,70.54 L642.59,71.58 L643.07,72.59 L643.77,73.59 L644.62,74.61 L645.49,75.69 L646.22,76.82Z" fill="#fbe6c6" filter="url(#wobB)"/>
<path d="M644.57,78.00 L644.70,79.13 L644.55,80.25 L644.19,81.34 L643.77,82.41 L643.37,83.46 L643.05,84.51 L642.77,85.57 L642.44,86.61 L641.92,87.59 L641.09,88.44 L639.88,89.10 L638.34,89.55 L636.62,89.81 L634.92,89.97 L633.48,90.17 L632.50,90.56 L632.09,91.28 L632.21,92.39 L632.73,93.88 L633.42,95.64 L634.03,97.48 L634.35,99.20 L634.23,100.61 L633.66,101.61 L632.70,102.20 L631.50,102.45 L630.22,102.52 L628.98,102.58 L627.88,102.78 L626.94,103.18 L626.11,103.78 L625.32,104.49 L624.51,105.19 L623.62,105.78 L622.66,106.19 L621.64,106.42 L620.58,106.53 L619.53,106.61 L618.51,106.74 L617.51,106.96 L616.51,107.24 L615.50,107.49 L614.47,107.61 L613.43,107.51 L612.40,107.15 L611.40,106.60 L610.44,106.00 L609.51,105.54 L608.55,105.42 L607.50,105.79 L606.31,106.65 L604.95,107.89 L603.43,109.27 L601.84,110.50 L600.30,111.25 L598.94,111.31 L597.90,110.57 L597.24,109.08 L596.96,107.04 L596.97,104.73 L597.13,102.43 L597.28,100.41 L597.27,98.83 L597.00,97.71 L596.45,97.01 L595.65,96.60 L594.68,96.35 L593.63,96.12 L592.56,95.87 L591.47,95.56 L590.35,95.22 L589.17,94.88 L587.88,94.54 L586.52,94.17 L585.15,93.73 L583.91,93.15 L582.96,92.36 L582.40,91.36 L582.32,90.15 L582.68,88.82 L583.35,87.44 L584.13,86.11 L584.79,84.88 L585.16,83.79 L585.15,82.81 L584.78,81.88 L584.21,80.96 L583.64,80.01 L583.30,79.02 L583.35,78.00 L583.84,77.00 L584.69,76.06 L585.72,75.20 L586.67,74.38 L587.31,73.58 L587.47,72.70 L587.09,71.69 L586.27,70.51 L585.19,69.16 L584.07,67.69 L583.14,66.18 L582.58,64.72 L582.45,63.39 L582.73,62.22 L583.32,61.21 L584.12,60.33 L585.01,59.53 L585.95,58.78 L586.92,58.09 L587.95,57.49 L589.10,57.02 L590.38,56.73 L591.76,56.63 L593.17,56.65 L594.51,56.68 L595.67,56.59 L596.58,56.23 L597.23,55.51 L597.67,54.42 L598.01,53.07 L598.39,51.64 L598.92,50.37 L599.69,49.45 L600.70,49.03 L601.89,49.13 L603.18,49.63 L604.46,50.31 L605.64,50.90 L606.69,51.15 L607.63,50.92 L608.49,50.19 L609.36,49.08 L610.29,47.81 L611.31,46.68 L612.40,45.93 L613.53,45.74 L614.63,46.14 L615.65,47.06 L616.57,48.33 L617.39,49.73 L618.12,51.07 L618.83,52.21 L619.54,53.10 L620.28,53.76 L621.05,54.23 L621.87,54.57 L622.73,54.80 L623.66,54.92 L624.71,54.85 L625.93,54.57 L627.37,54.05 L629.03,53.34 L630.88,52.56 L632.79,51.90 L634.60,51.54 L636.11,51.67 L637.15,52.37 L637.62,53.65 L637.52,55.38 L636.99,57.37 L636.21,59.39 L635.46,61.25 L634.96,62.78 L634.88,63.95 L635.26,64.80 L636.05,65.43 L637.08,65.96 L638.14,66.54 L639.07,67.22 L639.74,68.05 L640.15,68.98 L640.36,69.98 L640.51,70.99 L640.76,71.97 L641.19,72.92 L641.83,73.86 L642.63,74.82 L643.44,75.83 L644.13,76.89Z" fill="#f3f9fd" filter="url(#wobB)"/>
<circle cx="612.4" cy="78" r="27" fill="#c2e1f4" mask="url(#mkB)" opacity="0.8"/>
</g>
<circle cx="612.4" cy="78" r="17.4" fill="#f2f8fd" opacity="0.9" filter="url(#bl1)"/>
<circle cx="612.4" cy="78" r="15.9" fill="none" stroke="#f2a44a" stroke-width="0.9"/>
<circle cx="612.4" cy="78" r="15.2" fill="url(#inB)"/>
<text x="447.8" y="145" font-family="Liberation Serif, serif" font-size="15.5" fill="#111" stroke="#111" stroke-width="0.15">c)</text>
<text x="473.6" y="147" font-family="Liberation Serif, serif" font-size="14.7" fill="#111">ΔT = 11 K</text>
<text x="579" y="150.2" font-family="Liberation Serif, serif" font-size="14.4" fill="#111">ΔT = 3.5 K</text>
</svg></body></html>
